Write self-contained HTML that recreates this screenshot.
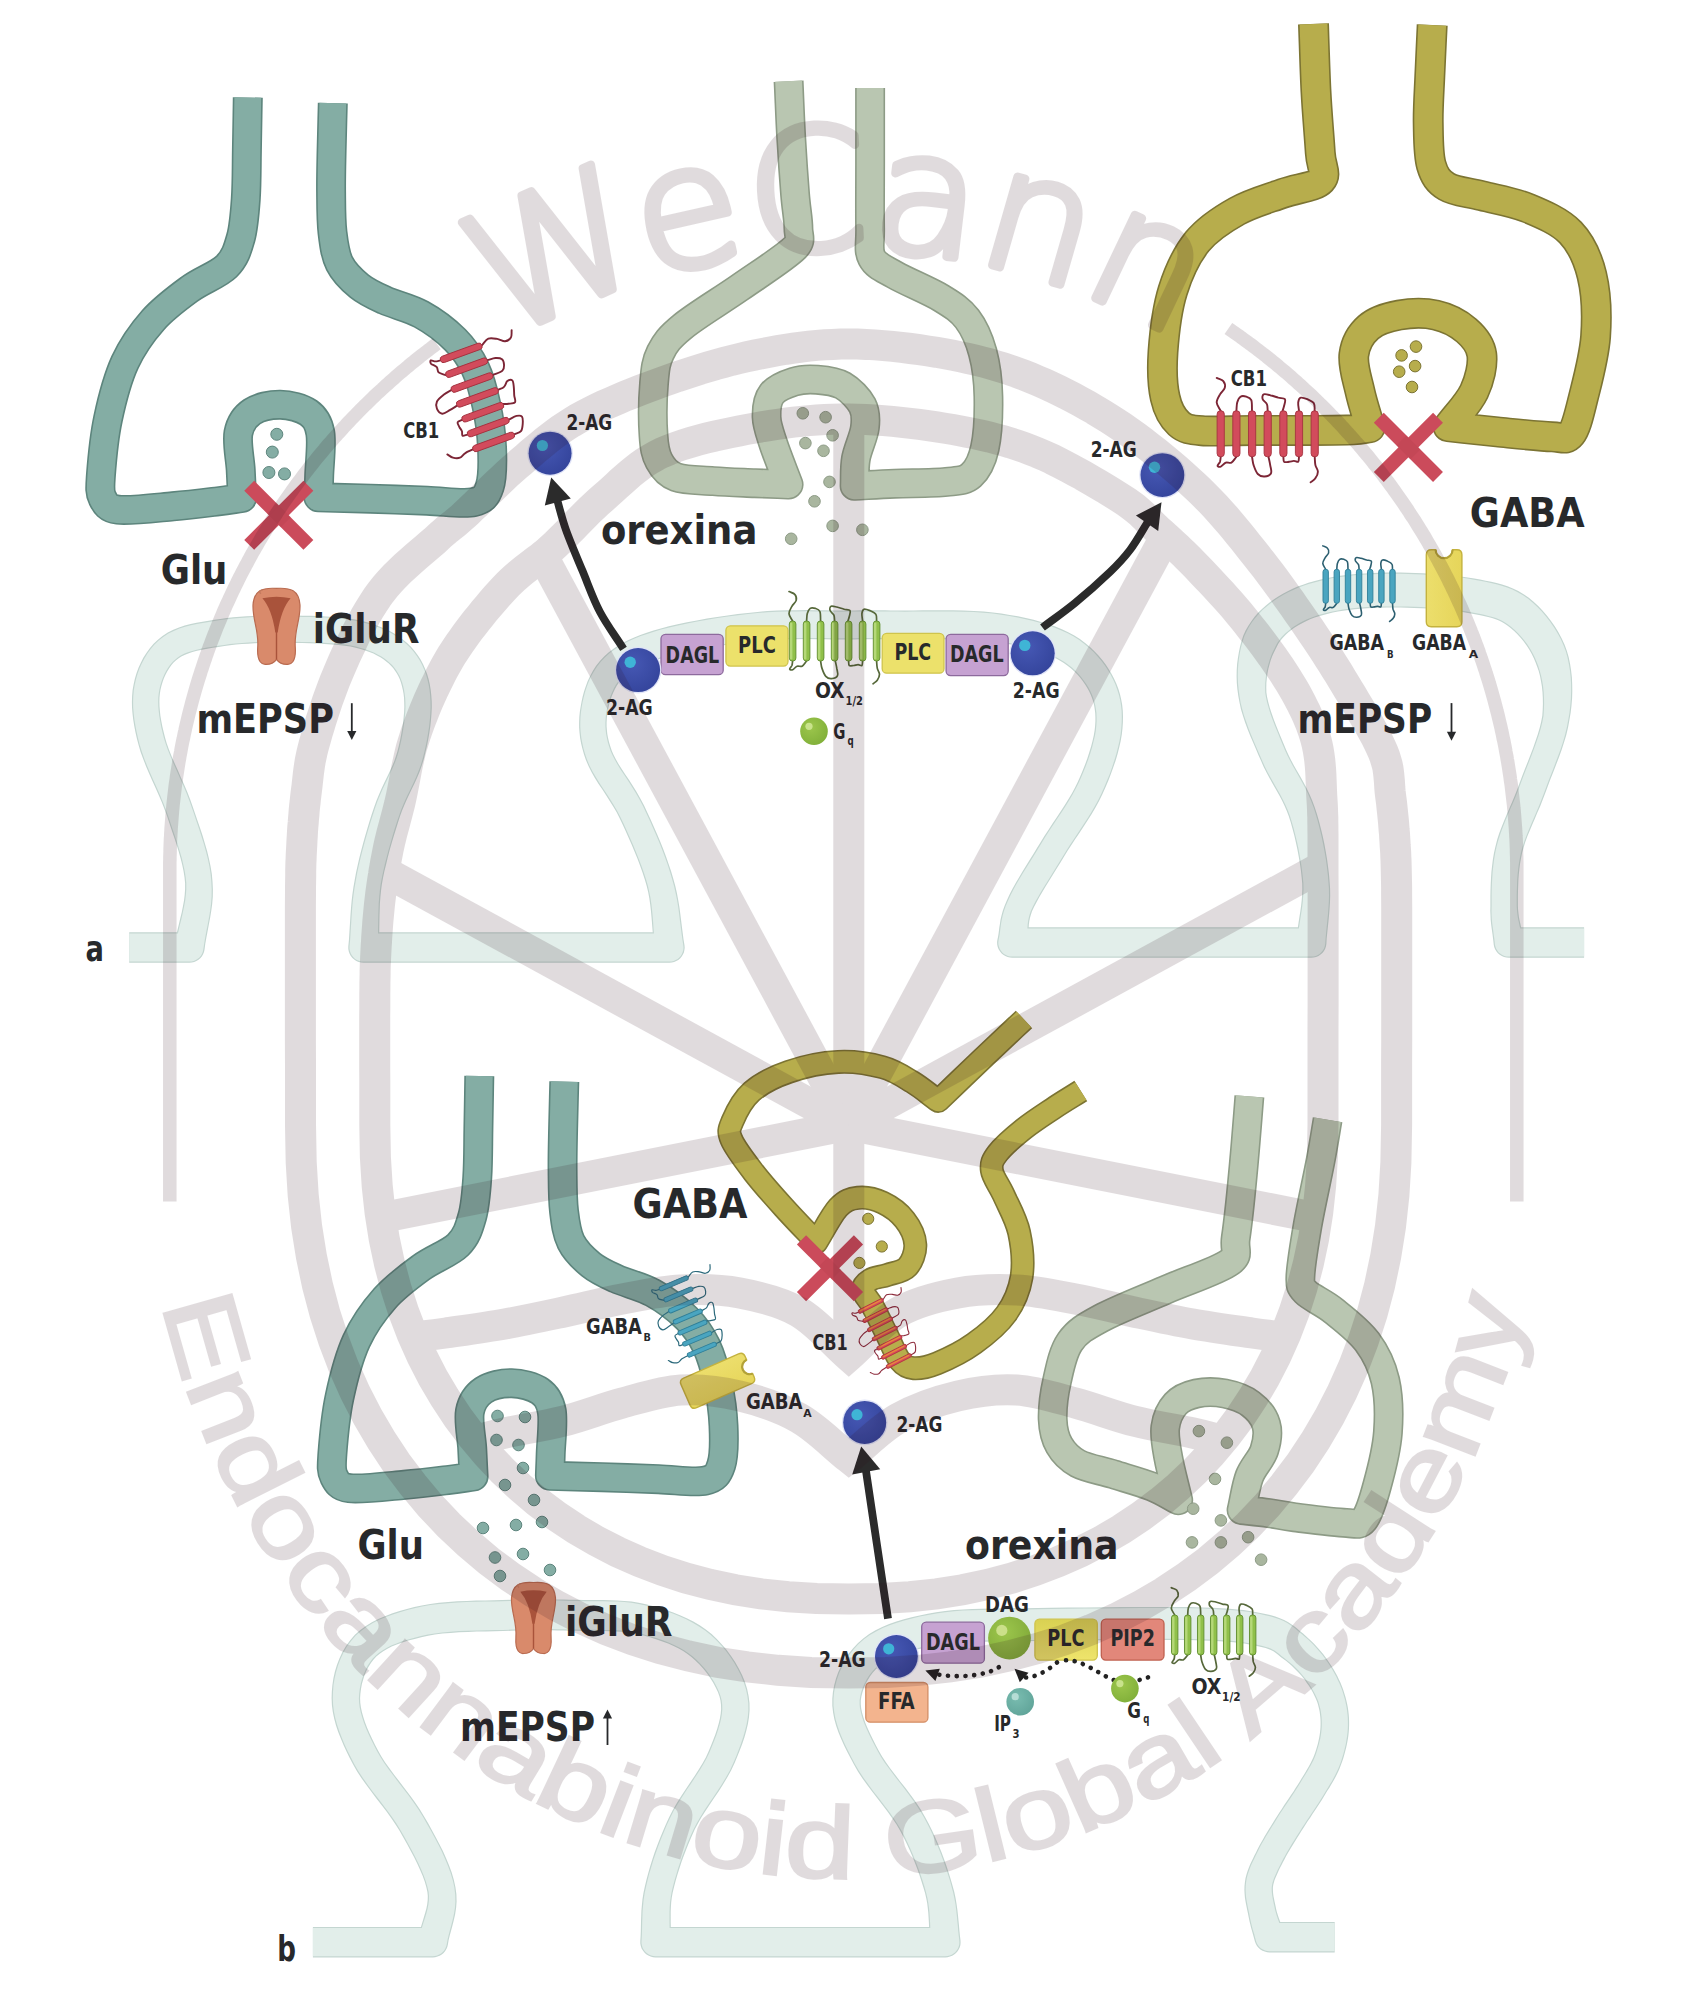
<!DOCTYPE html>
<html><head><meta charset="utf-8"><title>Figure</title>
<style>html,body{margin:0;padding:0;background:#fff}svg{display:block}</style>
</head><body>
<svg xmlns="http://www.w3.org/2000/svg" width="1700" height="1999" viewBox="0 0 1700 1999">
<rect width="1700" height="1999" fill="#fff"/>
<defs><linearGradient id="ga1" x1="0" y1="0" x2="1" y2="0"><stop offset="0" stop-color="#ecde6c"/><stop offset="1" stop-color="#e6d55a"/></linearGradient><radialGradient id="sg2" cx="0.38" cy="0.35" r="0.75"><stop offset="0" stop-color="#4658b4"/><stop offset="1" stop-color="#33439a"/></radialGradient><radialGradient id="sg3" cx="0.38" cy="0.35" r="0.75"><stop offset="0" stop-color="#4658b4"/><stop offset="1" stop-color="#33439a"/></radialGradient><radialGradient id="sg4" cx="0.38" cy="0.35" r="0.75"><stop offset="0" stop-color="#4658b4"/><stop offset="1" stop-color="#33439a"/></radialGradient><radialGradient id="sg5" cx="0.38" cy="0.35" r="0.75"><stop offset="0" stop-color="#4658b4"/><stop offset="1" stop-color="#33439a"/></radialGradient><radialGradient id="sg6" cx="0.38" cy="0.35" r="0.75"><stop offset="0" stop-color="#9cc64c"/><stop offset="1" stop-color="#7fae38"/></radialGradient><linearGradient id="ga7" x1="0" y1="0" x2="1" y2="0"><stop offset="0" stop-color="#ecde6c"/><stop offset="1" stop-color="#e6d55a"/></linearGradient><linearGradient id="bg8" x1="0" y1="0" x2="0" y2="1"><stop offset="0" stop-color="#d9d152"/><stop offset="1" stop-color="#eee46c"/></linearGradient><radialGradient id="sg9" cx="0.38" cy="0.35" r="0.75"><stop offset="0" stop-color="#4658b4"/><stop offset="1" stop-color="#33439a"/></radialGradient><radialGradient id="sg10" cx="0.38" cy="0.35" r="0.75"><stop offset="0" stop-color="#4658b4"/><stop offset="1" stop-color="#33439a"/></radialGradient><radialGradient id="sg11" cx="0.38" cy="0.35" r="0.75"><stop offset="0" stop-color="#9cc64c"/><stop offset="1" stop-color="#7fa838"/></radialGradient><radialGradient id="sg12" cx="0.38" cy="0.35" r="0.75"><stop offset="0" stop-color="#79bcb0"/><stop offset="1" stop-color="#5fa398"/></radialGradient><radialGradient id="sg13" cx="0.38" cy="0.35" r="0.75"><stop offset="0" stop-color="#9cc64c"/><stop offset="1" stop-color="#7fae38"/></radialGradient></defs>
<path d="M129.2 962.8L135.2 962.8L141.2 962.8L147.2 962.8L153.3 962.8L159.3 962.8L165.3 962.8L171.3 962.8L177.4 962.8L183.4 962.8L189.4 962.8L191.8 962.6L194.2 962L196.4 961.1L198.5 959.8L200.3 958.2L201.8 956.4L203.1 954.3L204 952.1L204.5 949.7L205.3 943.7L206.4 937.6L207.6 931.3L208.8 924.8L210.1 918.1L211.2 911.2L212.2 904.1L212.8 896.8L212.9 889.2L212.5 881.4L211.8 873.7L210.5 866.1L208.9 858.5L207.1 850.9L204.9 843.5L202.7 836.1L200.3 828.8L197.8 821.5L195.4 814.4L193 807.4L190.3 799.8L187.3 792.1L184.1 784.6L180.8 777.2L177.6 769.8L174.4 762.7L171.5 755.9L168.9 749.4L166.7 743.3L165.1 737.7L163.6 731.8L162.3 726.2L161.3 720.9L160.4 715.7L159.9 710.9L159.5 706.2L159.4 701.8L159.5 697.6L159.9 693.6L160.5 689.8L161.4 685.9L162.6 682L163.9 678.3L165.5 674.8L167.2 671.4L169.2 668.2L171.3 665.3L173.6 662.6L176.1 660.3L178.7 658.2L181.3 656.5L184.5 654.9L188.2 653.4L192.4 652.1L197 650.8L202 649.8L207.3 648.8L212.8 647.8L218.5 647L224.4 646.1L230 645.3L235.9 644.6L242 644.1L248.3 643.7L254.7 643.3L261.3 643.1L267.9 642.9L274.6 642.9L281.3 642.9L288 642.9L295 643L302.2 643.1L309.6 643.3L316.9 643.6L324.2 643.9L331.4 644.4L338.2 645L344.6 645.7L350.4 646.6L355.6 647.7L360.5 649L365.2 650.4L369.4 652L373.4 653.6L377 655.4L380.4 657.3L383.4 659.3L386.2 661.4L388.8 663.6L391.2 665.9L393.3 668.3L395.2 670.9L396.9 673.5L398.4 676.3L399.8 679.3L400.9 682.6L401.9 686L402.8 689.7L403.5 693.6L404 697.8L404.2 702.1L404.3 706.8L404.1 712L403.6 717.4L403 723.1L402.1 728.9L401.1 734.7L400 740.5L398.7 746.2L397.3 751.8L395.8 756.6L394.1 761.5L392 766.5L389.7 771.6L387.2 776.8L384.5 782.3L381.8 788.1L379.1 794.2L376.5 800.6L374 807.4L371.8 814.1L369.6 821L367.5 828.1L365.3 835.4L363.2 842.9L361.2 850.4L359.3 857.9L357.6 865.4L356 872.8L354.7 880L353.4 887.2L352.4 894.3L351.6 901.2L351 908L350.5 914.6L350.1 921.2L349.7 927.6L349.3 933.9L348.9 940.2L348.3 946.4L348.3 948.9L348.8 951.4L349.6 953.8L350.8 956L352.4 957.9L354.2 959.6L356.3 961L358.6 962L361 962.6L363.5 962.8L394.1 962.8L424.7 962.8L455.3 962.8L485.9 962.8L516.5 962.8L547.1 962.8L577.6 962.8L608.2 962.8L638.8 962.8L669.4 962.8L671.8 962.6L674.1 962L676.3 961.1L678.3 959.9L680.1 958.4L681.7 956.6L682.9 954.6L683.9 952.4L684.4 950.1L684.7 947.7L684.5 945.3L683.5 939.2L682.7 933L681.9 926.7L681.1 920.3L680.3 913.7L679.4 907L678.2 900.1L676.9 893.1L675.3 886L673.3 878.7L671.1 871.3L668.6 863.9L666 856.4L663.1 848.8L660.1 841.3L656.9 833.8L653.7 826.5L650.5 819.3L647.3 812.4L644.2 805.8L640.6 798.9L636.8 792.3L632.9 786.1L629.1 780.1L625.3 774.4L621.7 769L618.5 763.9L615.7 759.1L613.4 754.6L611.7 750.6L610.2 746.1L609 741.9L608 737.8L607.3 733.9L606.9 730.1L606.6 726.3L606.6 722.7L606.8 719L607.1 715.3L607.7 711.5L608.5 707.5L609.4 703.6L610.6 699.7L611.9 695.8L613.4 692.2L615.1 688.7L616.9 685.4L619 682.4L621.2 679.6L623.6 677.1L626.6 674.6L629.7 672.2L633 670L636.7 667.9L640.8 665.9L645.3 664L650.3 662L655.8 660.1L661.9 658.2L668.6 656.3L675.9 654.4L684 652.5L692.8 650.7L702.1 648.9L711.7 647.2L721.6 645.6L731.6 644.2L741.4 642.9L751 641.7L760.2 640.8L769.1 640.1L778.3 639.6L787.6 639.3L797 639.2L806.3 639.1L815.5 639.2L824.4 639.3L832.9 639.4L840.9 639.5L848.4 639.4L854.7 639.4L860 639.3L864.6 639.3L868.6 639.2L872.4 639.2L876.2 639.2L880.3 639.3L884.9 639.3L890.4 639.4L896.9 639.4L904.8 639.5L913.5 639.4L922.8 639.3L932.7 639.3L942.7 639.2L952.9 639.3L962.8 639.5L972.4 639.8L981.4 640.4L989.4 641.2L997.3 642.3L1004.9 643.5L1012.4 644.8L1019.5 646.3L1026.4 647.9L1033 649.7L1039.2 651.6L1045 653.7L1050.4 655.9L1055.3 658.1L1059.7 660.5L1063.8 663L1067.6 665.7L1071.1 668.5L1074.4 671.5L1077.4 674.5L1080.2 677.7L1082.7 681.1L1085.1 684.5L1087.3 687.9L1089.1 691.3L1090.7 694.7L1092 698.1L1093.2 701.6L1094.1 705.2L1094.7 709L1095.2 712.9L1095.4 717L1095.4 721.3L1095.1 725.9L1094.6 730.6L1093.7 735.7L1092.5 741.1L1091 746.7L1089.2 752.5L1087.3 758.5L1085.1 764.5L1082.7 770.6L1080.2 776.6L1077.5 782.5L1074.8 788L1071.7 793.7L1068.2 799.6L1064.5 805.5L1060.6 811.6L1056.5 817.7L1052.4 823.8L1048.4 830L1044.4 836.1L1040.6 842.3L1037 848.1L1033.4 854.1L1029.6 860L1025.9 866L1022.2 872L1018.7 877.9L1015.3 883.7L1012.1 889.4L1009.3 895L1006.8 900.5L1004.6 905.7L1002.8 910.7L1001.5 915.4L1000.5 919.8L999.9 923.9L999.3 927.6L998.9 931L998.5 934.1L998 936.9L997.4 939.7L997.1 942.1L997.2 944.6L997.7 947L998.6 949.2L999.9 951.3L1001.4 953.2L1003.2 954.8L1005.3 956.1L1007.6 957.1L1009.9 957.6L1012.4 957.8L1042.2 957.8L1072.1 957.8L1102 957.8L1131.9 957.8L1161.8 957.8L1191.6 957.8L1221.5 957.8L1251.4 957.8L1281.3 957.8L1311.2 957.8L1313.7 957.6L1316.1 957L1318.5 956L1320.6 954.6L1322.4 952.9L1324 950.9L1325.2 948.7L1326 946.3L1326.4 943.8L1326.7 938.2L1327.3 932.6L1327.9 926.8L1328.5 920.9L1329.1 914.8L1329.6 908.6L1330 902.1L1330.2 895.4L1330.1 888.5L1329.6 881.4L1329 874.3L1328.1 866.9L1327.1 859.4L1325.8 851.8L1324.4 844.1L1322.8 836.5L1321 828.9L1319.1 821.5L1317 814.3L1314.8 807.4L1312.2 800.4L1309.4 793.9L1306.3 787.6L1303.2 781.8L1300 776.1L1296.9 770.7L1293.9 765.4L1291.1 760.3L1288.5 755.1L1286.2 750L1283.7 743.9L1281.1 737.8L1278.6 731.7L1276.1 725.5L1273.8 719.5L1271.7 713.5L1269.8 707.8L1268.3 702.3L1267.1 697.1L1266.4 692.4L1266.3 687.5L1266.4 682.7L1266.9 677.9L1267.5 673.3L1268.4 668.7L1269.6 664.3L1270.8 660.1L1272.3 656.1L1273.9 652.5L1275.5 649.2L1276.9 646.4L1278.3 643.7L1280 641.2L1281.8 638.9L1283.8 636.7L1286 634.5L1288.4 632.3L1291 630.2L1293.9 628.1L1297.1 626.1L1300.2 624.2L1303.5 622.4L1307 620.7L1310.7 619.1L1314.7 617.6L1318.9 616.2L1323.3 614.9L1328 613.7L1332.8 612.6L1337.9 611.6L1343.1 610.7L1348.7 609.9L1354.6 609.3L1360.8 608.7L1367.2 608.3L1373.7 608L1380.3 607.8L1387 607.6L1393.7 607.6L1400.4 607.6L1407.2 607.7L1414.2 607.9L1421.3 608.2L1428.5 608.6L1435.7 609.1L1442.8 609.7L1449.7 610.4L1456.3 611.2L1462.4 612L1468 613L1473.7 614L1479 615L1483.8 616L1488.1 617L1492 618.1L1495.6 619.3L1498.9 620.6L1501.9 622L1504.8 623.7L1507.7 625.7L1510.9 628.2L1514.1 631.1L1517.4 634.3L1520.6 637.8L1523.7 641.6L1526.6 645.5L1529.2 649.6L1531.6 653.7L1533.7 657.9L1535.4 662.1L1537.1 666.5L1538.7 671.1L1540 676L1541 681.2L1541.9 686.6L1542.5 692.2L1542.8 697.9L1542.9 703.7L1542.7 709.7L1542.3 715.7L1541.2 721.5L1539.7 727.7L1537.8 734.3L1535.5 741.1L1533 748.2L1530.3 755.3L1527.5 762.4L1524.7 769.6L1522 776.6L1519.4 783.6L1517.1 789.8L1514.6 795.9L1512.1 802L1509.4 808.2L1506.8 814.3L1504.2 820.5L1501.7 826.8L1499.3 833.1L1497.2 839.6L1495.5 846.2L1494 852.7L1492.9 859.3L1492.1 865.7L1491.4 872.1L1491 878.3L1490.7 884.4L1490.5 890.2L1490.4 895.8L1490.4 901L1490.4 905.9L1490.3 910.9L1490.5 915.6L1490.7 920L1491.1 924.1L1491.6 927.9L1492.1 931.5L1492.6 934.9L1493 938.2L1493.4 941.4L1493.7 944.5L1494.2 946.9L1495.1 949.2L1496.3 951.3L1497.9 953.2L1499.7 954.8L1501.8 956.1L1504 957.1L1506.4 957.6L1508.8 957.8L1516.4 957.8L1523.9 957.8L1531.4 957.8L1538.9 957.8L1546.5 957.8L1554 957.8L1561.5 957.8L1569.1 957.8L1576.6 957.8L1584.1 957.8L1584.1 927.3L1576.6 927.3L1569.1 927.3L1561.5 927.3L1554 927.3L1546.5 927.3L1538.9 927.3L1531.4 927.3L1523.9 927.3L1516.4 927.3L1508.8 927.3L1511.3 927.5L1513.6 928.1L1515.9 929.1L1517.9 930.4L1519.8 932L1521.3 933.9L1522.6 936L1523.4 938.3L1523.9 940.6L1523.2 936.7L1522.5 933L1521.7 929.5L1520.9 926.2L1520.2 923L1519.5 919.9L1518.9 916.7L1518.5 913.4L1518.1 909.8L1517.9 905.9L1517.9 901.1L1517.9 896.1L1518 890.9L1518.2 885.5L1518.4 880L1518.8 874.5L1519.4 868.9L1520.1 863.4L1521.1 857.9L1522.2 852.6L1523.6 847.5L1525.3 842.1L1527.3 836.6L1529.6 831L1532.1 825.1L1534.7 819.1L1537.3 812.8L1540.1 806.4L1542.7 799.7L1545.3 792.9L1547.7 786.4L1550.3 779.6L1553.1 772.5L1555.9 765.2L1558.8 757.7L1561.5 750.2L1564 742.5L1566.3 734.9L1568.1 727.2L1569.5 719.6L1570.7 712.5L1571.5 705.4L1572.1 698.3L1572.3 691.3L1572.2 684.3L1571.9 677.4L1571.1 670.6L1570.1 663.9L1568.7 657.3L1566.9 650.9L1564.5 644.5L1561.6 638.3L1558.4 632.3L1554.9 626.5L1551 621L1547 615.8L1542.7 610.8L1538.2 606.1L1533.6 601.8L1528.8 597.8L1523.6 594.2L1518.3 591.1L1512.9 588.5L1507.5 586.3L1502.1 584.6L1496.6 583.1L1491.2 581.8L1485.7 580.7L1480.1 579.6L1474.3 578.6L1467.7 577.4L1460.7 576.5L1453.5 575.6L1446 574.9L1438.4 574.2L1430.7 573.7L1423 573.3L1415.4 573L1408 572.7L1400.8 572.6L1393.7 572.6L1386.6 572.6L1379.4 572.8L1372.3 573L1365.2 573.4L1358.1 573.8L1351.2 574.4L1344.5 575.2L1337.9 576.1L1331.5 577.2L1325.5 578.4L1319.6 579.7L1313.9 581.2L1308.4 582.8L1303 584.7L1297.7 586.6L1292.6 588.8L1287.6 591.2L1282.9 593.8L1278.2 596.5L1274 599.3L1269.9 602.3L1265.9 605.5L1262 608.9L1258.3 612.6L1254.8 616.6L1251.5 620.9L1248.5 625.5L1245.7 630.3L1243.3 635.5L1241.6 640.8L1240.1 646.3L1238.9 652L1237.9 657.9L1237.1 664L1236.7 670.2L1236.6 676.5L1236.8 682.9L1237.4 689.4L1238.3 695.9L1239.5 702.6L1241 709.4L1243 716.1L1245.2 722.7L1247.7 729.4L1250.3 735.9L1253 742.3L1255.7 748.6L1258.3 754.7L1260.9 760.6L1263.7 767L1266.8 773.1L1269.9 778.8L1273.1 784.4L1276.1 789.8L1279.1 795L1281.9 800.2L1284.4 805.4L1286.7 810.7L1288.7 816.1L1290.7 822.3L1292.5 828.8L1294.3 835.5L1295.9 842.5L1297.4 849.5L1298.7 856.6L1299.9 863.6L1300.9 870.4L1301.6 877L1302.2 883.3L1302.3 889.1L1302.1 894.7L1301.7 900.2L1301.1 905.8L1300.3 911.4L1299.4 917.1L1298.5 922.9L1297.6 928.9L1296.7 935L1296 941.4L1296.4 938.9L1297.2 936.5L1298.4 934.3L1299.9 932.3L1301.8 930.6L1303.9 929.2L1306.2 928.2L1308.7 927.5L1311.2 927.3L1281.3 927.3L1251.4 927.3L1221.5 927.3L1191.6 927.3L1161.8 927.3L1131.9 927.3L1102 927.3L1072.1 927.3L1042.2 927.3L1012.4 927.3L1014.8 927.5L1017.2 928.1L1019.4 929.1L1021.5 930.4L1023.3 932L1024.8 933.8L1026.1 936L1027 938.2L1027.5 940.6L1027.6 943L1027.3 945.5L1027.9 941.1L1028.2 937.1L1028.4 933.4L1028.5 930.1L1028.7 927.1L1028.9 924.2L1029.3 921.3L1029.9 918.3L1030.8 915L1032 911.3L1034 907.1L1036.4 902.4L1039.2 897.3L1042.3 892L1045.7 886.3L1049.3 880.5L1053 874.6L1056.7 868.6L1060.5 862.5L1064.1 856.5L1067.6 850.8L1071.4 845L1075.3 839L1079.4 832.9L1083.5 826.7L1087.7 820.3L1091.7 813.9L1095.5 807.4L1099.2 800.7L1102.5 794L1105.4 787.5L1108.2 780.9L1110.8 774.3L1113.2 767.6L1115.5 760.9L1117.5 754.2L1119.2 747.5L1120.7 741L1121.8 734.6L1122.5 728.3L1122.9 722.3L1123 716.4L1122.8 710.7L1122.2 705.1L1121.2 699.6L1120 694.2L1118.4 689L1116.4 683.8L1114.1 678.8L1111.6 674L1108.8 669.3L1105.7 664.6L1102.3 660.1L1098.5 655.6L1094.4 651.2L1090 647L1085.1 642.9L1079.9 639.1L1074.3 635.5L1068.2 632.2L1061.9 629.3L1055.3 626.6L1048.3 624.1L1041.1 621.9L1033.6 619.8L1025.8 618L1017.9 616.3L1009.7 614.9L1001.4 613.6L992.9 612.4L983.7 611.5L973.9 610.9L963.6 610.5L953.2 610.3L942.8 610.2L932.5 610.3L922.6 610.3L913.2 610.4L904.7 610.5L897.2 610.4L890.7 610.4L885.2 610.3L880.5 610.3L876.3 610.2L872.3 610.2L868.4 610.2L864.3 610.3L859.7 610.3L854.4 610.4L848.1 610.4L841 610.5L833.2 610.4L824.7 610.3L815.8 610.2L806.4 610.1L796.8 610.2L786.9 610.3L777.1 610.6L767.2 611.1L757.5 611.9L747.8 612.9L737.8 614.1L727.6 615.5L717.2 617L707 618.6L696.9 620.4L687.1 622.3L677.7 624.2L668.9 626.3L660.8 628.4L653.5 630.5L646.7 632.7L640.3 635L634.2 637.4L628.5 640L623.1 642.7L617.9 645.8L613.1 649.1L608.5 652.6L604.1 656.5L599.9 661L596.1 665.8L592.9 670.8L590.1 675.9L587.7 681.1L585.7 686.4L584 691.6L582.6 696.8L581.5 701.9L580.6 706.9L579.8 711.9L579.3 717L579.1 722.2L579.1 727.4L579.5 732.6L580.1 738L581.1 743.4L582.4 748.8L584 754.4L585.9 760L588.6 766.3L591.6 772.3L595 778.2L598.6 783.9L602.4 789.6L606.1 795.2L609.7 800.9L613.2 806.5L616.5 812.1L619.4 817.7L622.4 824.1L625.5 830.8L628.6 837.7L631.7 844.7L634.6 851.7L637.5 858.8L640.2 865.9L642.6 872.8L644.8 879.6L646.7 886L648.2 892.2L649.3 898.3L650.2 904.5L650.9 910.6L651.5 916.9L652 923.2L652.5 929.6L653 936.1L653.6 942.8L654.3 949.7L654.2 947.3L654.4 945L655 942.7L655.9 940.5L657.1 938.5L658.7 936.7L660.5 935.1L662.5 933.9L664.7 933L667 932.5L669.4 932.3L638.8 932.3L608.2 932.3L577.6 932.3L547.1 932.3L516.5 932.3L485.9 932.3L455.3 932.3L424.7 932.3L394.1 932.3L363.5 932.3L366 932.5L368.5 933.1L370.7 934.1L372.8 935.5L374.7 937.1L376.2 939.1L377.4 941.3L378.3 943.7L378.7 946.1L378.7 948.6L379 941.9L379.2 935.2L379.3 928.7L379.4 922.3L379.5 915.9L379.7 909.7L379.9 903.4L380.4 897.2L381 891L381.8 884.7L383 878.1L384.4 871.3L386.1 864.4L387.8 857.3L389.7 850.1L391.7 843L393.8 836L395.9 829.2L398 822.5L400.1 816.1L402.1 810.5L404.4 805L406.8 799.6L409.3 794.2L411.9 788.8L414.6 783.2L417.2 777.5L419.7 771.5L421.9 765.3L423.9 758.8L425.4 752.6L426.9 746.2L428.2 739.7L429.3 733.2L430.3 726.6L431 720.1L431.5 713.6L431.8 707.3L431.7 701.1L431.3 695.2L430.7 689.7L429.8 684.3L428.6 679.1L427.1 674L425.2 669L423.1 664.2L420.6 659.6L417.8 655.2L414.6 651L411.2 647L407.4 643.3L403.4 639.9L399.1 636.7L394.6 633.7L389.8 631.1L384.7 628.6L379.4 626.4L373.9 624.4L368.1 622.6L362.1 621L355.3 619.6L348.3 618.5L341 617.6L333.4 616.9L325.8 616.4L318 616.1L310.3 615.8L302.8 615.7L295.4 615.5L288.4 615.4L281.5 615.4L274.5 615.4L267.5 615.4L260.5 615.6L253.5 615.9L246.6 616.2L239.9 616.7L233.2 617.3L226.7 618L220.3 618.9L214.4 619.8L208.5 620.7L202.5 621.7L196.6 622.8L190.6 624.1L184.7 625.6L179 627.5L173.3 629.8L167.8 632.5L162.5 635.9L157.9 639.7L153.6 643.8L149.8 648.2L146.4 652.9L143.3 657.8L140.7 662.9L138.4 668.1L136.4 673.5L134.8 678.9L133.6 684.4L132.6 690.1L132.1 695.9L131.9 701.7L132 707.6L132.5 713.6L133.2 719.6L134.2 725.7L135.4 731.9L136.8 738.2L138.5 744.7L140.6 751.9L143.2 759.1L146.1 766.4L149.2 773.7L152.4 781L155.7 788.3L158.9 795.5L161.9 802.6L164.6 809.5L167 816.1L169.4 823.3L171.8 830.4L174.2 837.5L176.5 844.4L178.6 851.3L180.5 858.1L182.2 864.7L183.5 871.1L184.5 877.3L185.1 883.3L185.1 889L184.7 894.7L184 900.5L182.9 906.4L181.7 912.4L180.2 918.6L178.7 925L177.1 931.5L175.6 938.3L174.3 945.3L174.9 943L175.8 940.8L177 938.7L178.5 936.8L180.4 935.2L182.4 934L184.7 933L187 932.5L189.4 932.3L183.4 932.3L177.4 932.3L171.3 932.3L165.3 932.3L159.3 932.3L153.3 932.3L147.2 932.3L141.2 932.3L135.2 932.3L129.2 932.3Z" fill="#c4d6d1"/>
<path d="M129.2 961.6L135.2 961.6L141.2 961.6L147.2 961.6L153.3 961.6L159.3 961.6L165.3 961.6L171.3 961.6L177.4 961.6L183.4 961.6L189.4 961.6L191.6 961.4L193.8 960.9L195.8 960L197.7 958.8L199.4 957.4L200.9 955.7L202 953.8L202.8 951.7L203.3 949.5L204.2 943.5L205.2 937.4L206.4 931.1L207.7 924.6L208.9 917.9L210.1 911L211 904L211.6 896.7L211.7 889.2L211.3 881.5L210.6 873.9L209.4 866.3L207.8 858.7L205.9 851.3L203.8 843.8L201.5 836.4L199.1 829.1L196.7 821.9L194.3 814.8L191.9 807.8L189.2 800.2L186.2 792.6L183 785.1L179.7 777.6L176.5 770.3L173.3 763.2L170.4 756.3L167.8 749.8L165.6 743.6L163.9 738L162.4 732.1L161.1 726.5L160.1 721.1L159.3 715.9L158.7 711L158.3 706.3L158.2 701.8L158.3 697.5L158.7 693.4L159.4 689.5L160.3 685.6L161.4 681.7L162.8 677.9L164.4 674.2L166.2 670.8L168.2 667.5L170.4 664.5L172.8 661.8L175.3 659.4L178 657.2L180.7 655.4L184 653.8L187.8 652.3L192.1 650.9L196.7 649.7L201.8 648.6L207.1 647.6L212.6 646.7L218.4 645.8L224.2 644.9L229.9 644.1L235.8 643.4L241.9 642.9L248.2 642.5L254.7 642.1L261.2 641.9L267.9 641.7L274.6 641.7L281.3 641.7L288.1 641.7L295 641.8L302.3 641.9L309.6 642.1L317 642.4L324.3 642.7L331.5 643.2L338.3 643.8L344.7 644.5L350.7 645.5L355.9 646.6L360.9 647.9L365.5 649.3L369.9 650.9L373.9 652.6L377.6 654.4L381 656.3L384.1 658.3L387 660.4L389.6 662.7L392.1 665.1L394.2 667.6L396.2 670.2L397.9 672.9L399.5 675.8L400.9 678.9L402.1 682.2L403.1 685.7L404 689.4L404.6 693.4L405.2 697.7L405.4 702L405.5 706.8L405.3 712.1L404.8 717.5L404.2 723.2L403.3 729.1L402.3 734.9L401.2 740.8L399.9 746.5L398.5 752.1L397 757L395.2 761.9L393.1 766.9L390.8 772.1L388.2 777.4L385.6 782.9L382.9 788.6L380.2 794.7L377.6 801L375.2 807.8L373 814.4L370.8 821.3L368.6 828.5L366.5 835.8L364.4 843.2L362.4 850.7L360.5 858.2L358.8 865.6L357.2 873L355.9 880.2L354.6 887.4L353.6 894.4L352.8 901.3L352.2 908L351.7 914.7L351.3 921.2L350.9 927.6L350.5 934L350.1 940.3L349.5 946.5L349.5 948.8L349.9 951.1L350.7 953.3L351.8 955.3L353.2 957.1L354.9 958.7L356.9 959.9L359 960.8L361.2 961.4L363.5 961.6L394.1 961.6L424.7 961.6L455.3 961.6L485.9 961.6L516.5 961.6L547.1 961.6L577.6 961.6L608.2 961.6L638.8 961.6L669.4 961.6L671.6 961.4L673.7 960.9L675.7 960.1L677.6 958.9L679.3 957.5L680.7 955.9L681.9 954L682.7 952L683.3 949.9L683.5 947.7L683.3 945.5L682.4 939.4L681.5 933.1L680.7 926.8L679.9 920.4L679.1 913.8L678.2 907.1L677.1 900.3L675.7 893.4L674.1 886.3L672.1 879L669.9 871.7L667.5 864.3L664.8 856.8L662 849.3L659 841.7L655.8 834.3L652.6 827L649.4 819.8L646.2 812.9L643.1 806.3L639.5 799.5L635.8 792.9L631.9 786.7L628.1 780.8L624.3 775.1L620.7 769.7L617.5 764.5L614.7 759.6L612.4 755.1L610.6 751L609.1 746.5L607.8 742.2L606.9 738L606.1 734.1L605.7 730.2L605.4 726.4L605.4 722.6L605.6 718.9L605.9 715.1L606.5 711.3L607.3 707.3L608.3 703.3L609.4 699.3L610.7 695.4L612.3 691.7L614 688.1L615.9 684.8L618 681.7L620.3 678.8L622.8 676.3L625.8 673.7L629 671.3L632.4 669L636.1 666.9L640.3 664.8L644.8 662.8L649.9 660.9L655.4 659L661.6 657.1L668.3 655.2L675.6 653.3L683.7 651.4L692.5 649.5L701.9 647.7L711.5 646L721.5 644.4L731.4 643L741.3 641.7L750.9 640.5L760.1 639.6L769 638.9L778.2 638.4L787.6 638.1L797 638L806.3 637.9L815.5 638L824.4 638.1L832.9 638.2L840.9 638.3L848.4 638.2L854.7 638.2L860 638.1L864.6 638.1L868.6 638L872.4 638L876.2 638L880.3 638.1L884.9 638.1L890.4 638.2L896.9 638.2L904.8 638.3L913.5 638.2L922.8 638.1L932.7 638.1L942.7 638L952.9 638.1L962.9 638.3L972.5 638.6L981.5 639.2L989.6 640L997.4 641.1L1005.1 642.3L1012.6 643.6L1019.8 645.1L1026.7 646.8L1033.3 648.6L1039.6 650.5L1045.4 652.6L1050.9 654.8L1055.8 657.1L1060.3 659.4L1064.5 662L1068.3 664.7L1071.9 667.6L1075.2 670.6L1078.3 673.7L1081.1 677L1083.7 680.4L1086.1 683.8L1088.3 687.3L1090.2 690.8L1091.8 694.2L1093.2 697.7L1094.3 701.3L1095.2 705L1095.9 708.8L1096.4 712.8L1096.6 716.9L1096.6 721.3L1096.3 726L1095.8 730.7L1094.9 735.9L1093.6 741.3L1092.2 747L1090.4 752.9L1088.4 758.9L1086.2 765L1083.8 771L1081.3 777L1078.6 783L1075.8 788.6L1072.7 794.3L1069.2 800.2L1065.5 806.2L1061.6 812.2L1057.5 818.3L1053.4 824.5L1049.4 830.6L1045.4 836.8L1041.6 843L1038.1 848.8L1034.4 854.7L1030.7 860.7L1026.9 866.7L1023.3 872.6L1019.7 878.5L1016.3 884.3L1013.2 890L1010.4 895.5L1007.9 900.9L1005.7 906.1L1004 911L1002.7 915.6L1001.7 920L1001 924L1000.5 927.7L1000.1 931.1L999.7 934.2L999.2 937.1L998.6 939.9L998.3 942.2L998.4 944.4L998.9 946.6L999.7 948.7L1000.8 950.6L1002.3 952.4L1004 953.9L1005.9 955L1007.9 955.9L1010.1 956.5L1012.4 956.6L1042.2 956.6L1072.1 956.6L1102 956.6L1131.9 956.6L1161.8 956.6L1191.6 956.6L1221.5 956.6L1251.4 956.6L1281.3 956.6L1311.2 956.6L1313.5 956.4L1315.8 955.9L1317.9 954.9L1319.8 953.7L1321.5 952.1L1323 950.2L1324.1 948.2L1324.8 946L1325.2 943.7L1325.6 938.1L1326.1 932.4L1326.7 926.6L1327.3 920.7L1327.9 914.7L1328.4 908.5L1328.8 902.1L1329 895.4L1328.9 888.6L1328.4 881.5L1327.8 874.4L1326.9 867.1L1325.9 859.6L1324.6 852L1323.2 844.4L1321.6 836.8L1319.8 829.2L1317.9 821.8L1315.9 814.7L1313.7 807.8L1311.1 800.9L1308.3 794.4L1305.3 788.2L1302.1 782.3L1299 776.7L1295.9 771.3L1292.9 766L1290.1 760.8L1287.4 755.6L1285.1 750.4L1282.6 744.4L1280 738.3L1277.5 732.1L1275 726L1272.7 719.9L1270.5 713.9L1268.7 708.1L1267.1 702.6L1266 697.4L1265.2 692.5L1265.1 687.6L1265.2 682.7L1265.7 677.9L1266.3 673.1L1267.3 668.5L1268.4 664.1L1269.7 659.8L1271.1 655.8L1272.7 652.1L1274.4 648.7L1275.8 645.8L1277.3 643.1L1279 640.5L1280.8 638.1L1282.9 635.8L1285.1 633.6L1287.6 631.4L1290.3 629.3L1293.2 627.1L1296.4 625L1299.6 623.1L1302.9 621.3L1306.5 619.6L1310.3 618L1314.3 616.5L1318.5 615.1L1323 613.8L1327.7 612.5L1332.6 611.4L1337.7 610.4L1343 609.5L1348.6 608.7L1354.5 608.1L1360.7 607.5L1367.1 607.1L1373.7 606.8L1380.3 606.6L1387 606.4L1393.7 606.4L1400.4 606.4L1407.2 606.5L1414.2 606.7L1421.4 607L1428.6 607.4L1435.8 607.9L1442.9 608.5L1449.8 609.2L1456.4 610L1462.6 610.8L1468.2 611.8L1473.9 612.8L1479.2 613.8L1484 614.8L1488.4 615.9L1492.4 616.9L1496 618.1L1499.4 619.5L1502.5 621L1505.4 622.7L1508.4 624.7L1511.6 627.3L1515 630.2L1518.3 633.5L1521.5 637L1524.6 640.8L1527.6 644.8L1530.3 649L1532.7 653.2L1534.8 657.4L1536.6 661.7L1538.3 666.1L1539.8 670.9L1541.1 675.8L1542.2 681.1L1543.1 686.5L1543.7 692.1L1544 697.9L1544.1 703.8L1543.9 709.8L1543.5 715.9L1542.4 721.7L1540.9 728L1538.9 734.7L1536.6 741.5L1534.1 748.6L1531.4 755.7L1528.6 762.9L1525.8 770L1523.1 777.1L1520.5 784L1518.2 790.2L1515.7 796.4L1513.2 802.5L1510.5 808.6L1507.9 814.8L1505.3 821L1502.8 827.2L1500.5 833.5L1498.4 839.9L1496.6 846.5L1495.2 853L1494.1 859.5L1493.3 865.9L1492.6 872.2L1492.2 878.4L1491.9 884.4L1491.7 890.3L1491.6 895.8L1491.6 901L1491.6 905.9L1491.5 910.9L1491.6 915.5L1491.9 919.9L1492.3 923.9L1492.8 927.7L1493.3 931.3L1493.7 934.7L1494.2 938L1494.6 941.2L1494.9 944.4L1495.4 946.6L1496.2 948.7L1497.3 950.6L1498.7 952.4L1500.4 953.8L1502.3 955L1504.4 955.9L1506.6 956.5L1508.8 956.6L1516.4 956.6L1523.9 956.6L1531.4 956.6L1538.9 956.6L1546.5 956.6L1554 956.6L1561.5 956.6L1569.1 956.6L1576.6 956.6L1584.1 956.6L1584.1 928.5L1576.6 928.5L1569.1 928.5L1561.5 928.5L1554 928.5L1546.5 928.5L1538.9 928.5L1531.4 928.5L1523.9 928.5L1516.4 928.5L1508.8 928.5L1511.1 928.7L1513.3 929.3L1515.3 930.1L1517.2 931.3L1518.9 932.8L1520.4 934.6L1521.5 936.5L1522.3 938.6L1522.8 940.8L1522 936.8L1521.3 933.2L1520.5 929.7L1519.7 926.4L1519 923.2L1518.3 920.1L1517.7 916.8L1517.3 913.5L1516.9 909.8L1516.7 905.9L1516.7 901.1L1516.7 896.1L1516.8 890.8L1517 885.4L1517.2 879.9L1517.6 874.4L1518.2 868.8L1518.9 863.2L1519.9 857.7L1521 852.3L1522.4 847.1L1524.2 841.7L1526.2 836.2L1528.5 830.5L1531 824.6L1533.6 818.6L1536.2 812.4L1538.9 805.9L1541.6 799.3L1544.2 792.5L1546.6 786L1549.2 779.1L1552 772L1554.8 764.7L1557.6 757.3L1560.4 749.8L1562.9 742.2L1565.1 734.6L1566.9 727L1568.3 719.4L1569.5 712.4L1570.3 705.3L1570.9 698.3L1571.1 691.3L1571.1 684.4L1570.7 677.5L1570 670.8L1568.9 664.2L1567.5 657.6L1565.8 651.3L1563.4 645L1560.6 638.8L1557.4 632.9L1553.9 627.2L1550.1 621.7L1546 616.5L1541.8 611.6L1537.4 607L1532.8 602.7L1528.1 598.8L1523 595.2L1517.7 592.2L1512.4 589.6L1507.1 587.5L1501.7 585.7L1496.3 584.2L1490.9 583L1485.4 581.8L1479.9 580.8L1474.1 579.7L1467.5 578.6L1460.6 577.6L1453.3 576.8L1445.9 576.1L1438.3 575.4L1430.6 574.9L1422.9 574.5L1415.4 574.2L1407.9 573.9L1400.8 573.8L1393.7 573.8L1386.6 573.8L1379.5 574L1372.3 574.2L1365.2 574.6L1358.2 575L1351.4 575.6L1344.6 576.4L1338.1 577.3L1331.7 578.3L1325.7 579.5L1319.9 580.9L1314.2 582.4L1308.7 584L1303.4 585.8L1298.1 587.8L1293.1 589.9L1288.2 592.3L1283.5 594.8L1278.9 597.5L1274.7 600.3L1270.6 603.3L1266.7 606.4L1262.8 609.8L1259.2 613.5L1255.7 617.4L1252.5 621.6L1249.5 626.1L1246.8 630.9L1244.4 636L1242.7 641.2L1241.2 646.7L1240 652.3L1239 658.2L1238.3 664.2L1237.9 670.3L1237.8 676.6L1238 682.9L1238.6 689.3L1239.5 695.7L1240.6 702.4L1242.2 709.1L1244.1 715.7L1246.4 722.3L1248.8 728.9L1251.4 735.4L1254.1 741.9L1256.8 748.2L1259.4 754.3L1262 760.2L1264.8 766.5L1267.8 772.5L1271 778.3L1274.1 783.8L1277.2 789.2L1280.2 794.4L1282.9 799.7L1285.5 804.9L1287.8 810.3L1289.9 815.7L1291.8 821.9L1293.7 828.4L1295.4 835.2L1297.1 842.2L1298.6 849.3L1299.9 856.4L1301.1 863.4L1302 870.3L1302.8 876.9L1303.4 883.3L1303.5 889L1303.3 894.7L1302.9 900.3L1302.3 905.9L1301.5 911.5L1300.6 917.2L1299.7 923L1298.8 929L1297.9 935.1L1297.2 941.5L1297.5 939.2L1298.3 937L1299.4 934.9L1300.8 933.1L1302.5 931.5L1304.5 930.2L1306.6 929.3L1308.9 928.7L1311.2 928.5L1281.3 928.5L1251.4 928.5L1221.5 928.5L1191.6 928.5L1161.8 928.5L1131.9 928.5L1102 928.5L1072.1 928.5L1042.2 928.5L1012.4 928.5L1014.6 928.7L1016.8 929.3L1018.8 930.1L1020.7 931.3L1022.4 932.8L1023.9 934.5L1025 936.5L1025.8 938.6L1026.3 940.8L1026.4 943L1026.2 945.2L1026.7 940.9L1027 936.9L1027.2 933.3L1027.3 930L1027.5 926.9L1027.7 924L1028.1 921.1L1028.7 918L1029.6 914.6L1030.9 910.8L1032.9 906.6L1035.3 901.8L1038.2 896.7L1041.3 891.3L1044.7 885.7L1048.3 879.9L1052 874L1055.7 868L1059.4 861.9L1063.1 855.9L1066.6 850.2L1070.4 844.3L1074.3 838.4L1078.4 832.2L1082.5 826L1086.6 819.7L1090.7 813.3L1094.5 806.8L1098.1 800.2L1101.4 793.5L1104.3 787.1L1107 780.5L1109.7 773.9L1112.1 767.2L1114.3 760.5L1116.3 753.9L1118 747.3L1119.5 740.8L1120.6 734.4L1121.3 728.2L1121.7 722.2L1121.8 716.5L1121.6 710.8L1121 705.3L1120.1 699.8L1118.8 694.5L1117.2 689.4L1115.3 684.3L1113.1 679.4L1110.5 674.6L1107.8 669.9L1104.7 665.3L1101.3 660.8L1097.6 656.4L1093.6 652L1089.2 647.9L1084.4 643.9L1079.2 640.1L1073.7 636.6L1067.7 633.3L1061.4 630.4L1054.8 627.7L1047.9 625.2L1040.7 623L1033.3 621L1025.6 619.2L1017.7 617.5L1009.5 616L1001.2 614.8L992.8 613.6L983.6 612.7L973.8 612.1L963.6 611.7L953.2 611.5L942.8 611.4L932.5 611.5L922.6 611.5L913.3 611.6L904.7 611.7L897.2 611.6L890.7 611.6L885.2 611.5L880.5 611.5L876.3 611.4L872.3 611.4L868.4 611.4L864.3 611.5L859.7 611.5L854.4 611.6L848.1 611.6L841 611.7L833.2 611.6L824.7 611.5L815.7 611.4L806.4 611.3L796.8 611.4L787 611.5L777.1 611.8L767.3 612.3L757.6 613.1L747.9 614.1L738 615.3L727.7 616.6L717.4 618.1L707.2 619.8L697.1 621.6L687.3 623.4L678 625.4L669.2 627.4L661.1 629.5L653.9 631.7L647.1 633.9L640.7 636.1L634.7 638.5L629 641.1L623.7 643.8L618.6 646.8L613.8 650L609.2 653.6L604.9 657.4L600.8 661.8L597.1 666.5L593.9 671.4L591.1 676.5L588.8 681.6L586.8 686.8L585.1 691.9L583.8 697.1L582.6 702.1L581.7 707.1L581 712.1L580.5 717.1L580.3 722.2L580.3 727.3L580.7 732.5L581.3 737.8L582.3 743.1L583.5 748.5L585.1 754L587 759.6L589.6 765.8L592.7 771.8L596.1 777.6L599.6 783.3L603.4 788.9L607.1 794.6L610.8 800.2L614.3 805.9L617.5 811.5L620.5 817.2L623.5 823.6L626.6 830.3L629.7 837.2L632.8 844.2L635.7 851.3L638.6 858.4L641.3 865.5L643.8 872.4L646 879.2L647.9 885.7L649.3 891.9L650.5 898.1L651.4 904.3L652.1 910.5L652.7 916.7L653.2 923.1L653.6 929.5L654.2 936L654.8 942.7L655.5 949.5L655.4 947.4L655.6 945.2L656.1 943.1L656.9 941L658.1 939.2L659.5 937.5L661.2 936.1L663.1 935L665.1 934.2L667.2 933.6L669.4 933.5L638.8 933.5L608.2 933.5L577.6 933.5L547.1 933.5L516.5 933.5L485.9 933.5L455.3 933.5L424.7 933.5L394.1 933.5L363.5 933.5L365.8 933.7L368.1 934.2L370.2 935.2L372.1 936.4L373.8 938L375.2 939.8L376.4 941.8L377.1 944L377.5 946.2L377.5 948.5L377.8 941.8L378 935.2L378.1 928.6L378.2 922.2L378.3 915.9L378.5 909.6L378.7 903.3L379.2 897.1L379.8 890.8L380.6 884.5L381.8 877.9L383.3 871.1L384.9 864.1L386.7 857L388.6 849.8L390.6 842.7L392.6 835.7L394.7 828.8L396.9 822.1L399 815.7L401 810.1L403.3 804.6L405.7 799.1L408.2 793.7L410.9 788.2L413.5 782.7L416.1 777L418.5 771.1L420.8 765L422.7 758.5L424.3 752.3L425.7 746L427 739.5L428.1 733L429.1 726.5L429.8 720L430.3 713.6L430.6 707.3L430.5 701.2L430.1 695.3L429.5 689.8L428.6 684.5L427.4 679.4L425.9 674.3L424.1 669.5L422 664.7L419.6 660.2L416.8 655.9L413.7 651.7L410.3 647.8L406.6 644.2L402.6 640.8L398.4 637.7L393.9 634.8L389.2 632.1L384.2 629.7L379 627.5L373.5 625.5L367.8 623.7L361.8 622.2L355.1 620.8L348.1 619.7L340.8 618.8L333.3 618.1L325.7 617.6L318 617.3L310.3 617L302.7 616.9L295.4 616.7L288.4 616.6L281.5 616.6L274.5 616.6L267.5 616.6L260.5 616.8L253.6 617.1L246.7 617.4L239.9 617.9L233.3 618.5L226.8 619.2L220.5 620.1L214.6 620.9L208.7 621.9L202.7 622.9L196.8 624L190.9 625.3L185.1 626.8L179.4 628.6L173.8 630.9L168.4 633.6L163.2 636.9L158.7 640.6L154.5 644.6L150.7 648.9L147.4 653.6L144.4 658.4L141.8 663.4L139.5 668.6L137.6 673.8L136 679.2L134.8 684.6L133.8 690.2L133.3 695.9L133.1 701.7L133.2 707.5L133.7 713.4L134.4 719.4L135.4 725.5L136.6 731.7L138 738L139.6 744.4L141.8 751.5L144.3 758.7L147.2 765.9L150.3 773.2L153.5 780.5L156.8 787.8L160 795.1L163 802.2L165.7 809.1L168.1 815.7L170.5 822.9L172.9 830L175.3 837.1L177.6 844.1L179.7 851L181.7 857.8L183.3 864.4L184.7 870.9L185.7 877.2L186.3 883.2L186.3 889L185.9 894.8L185.2 900.6L184.1 906.6L182.8 912.7L181.4 918.9L179.8 925.2L178.3 931.8L176.8 938.5L175.5 945.5L176 943.4L176.8 941.3L178 939.4L179.4 937.7L181.1 936.2L183 935L185 934.2L187.2 933.7L189.4 933.5L183.4 933.5L177.4 933.5L171.3 933.5L165.3 933.5L159.3 933.5L153.3 933.5L147.2 933.5L141.2 933.5L135.2 933.5L129.2 933.5Z" fill="#e2eeea"/>
<path d="M312.9 1957.4L324.9 1957.4L336.9 1957.4L348.9 1957.4L360.9 1957.4L372.9 1957.4L384.9 1957.4L396.9 1957.4L408.9 1957.4L420.9 1957.4L432.8 1957.4L435.2 1957.2L437.5 1956.6L439.7 1955.7L441.8 1954.5L443.6 1952.9L445.2 1951.1L446.4 1949.1L447.3 1946.9L447.9 1944.6L448.6 1940.3L449.7 1935.7L451 1930.9L452.4 1925.8L453.8 1920.3L455.1 1914.4L456.1 1908.1L456.6 1901.4L456.4 1894.3L455.4 1886.9L453.8 1879.7L451.7 1872.6L449.1 1865.4L446.1 1858.3L442.9 1851.1L439.3 1844L435.6 1837L431.8 1830L428 1823.1L424.1 1816.4L419.6 1809.1L414.8 1802L409.7 1795L404.5 1788.2L399.4 1781.5L394.3 1774.9L389.6 1768.5L385.2 1762.4L381.4 1756.5L378.3 1751L375.1 1745L372.2 1739.1L369.5 1733.3L367.1 1727.7L365 1722.3L363.3 1717.1L361.9 1712.1L360.9 1707.3L360.3 1702.7L360.1 1698.3L360.4 1693.7L361 1688.9L361.9 1684.1L363.2 1679.4L364.7 1674.8L366.6 1670.5L368.7 1666.4L371.1 1662.7L373.6 1659.4L376.3 1656.5L379.4 1653.9L382.9 1651.4L387 1648.9L391.7 1646.6L396.8 1644.5L402.4 1642.5L408.4 1640.6L414.7 1638.9L421.3 1637.3L428.1 1635.8L434.8 1634.6L442.4 1633.6L450.5 1632.9L459.1 1632.3L467.9 1631.9L476.9 1631.6L485.8 1631.4L494.6 1631.2L503.1 1631.1L511.1 1630.8L518.4 1630.6L525.3 1630.4L532 1630.3L538.4 1630.3L544.7 1630.3L550.9 1630.3L557.1 1630.4L563.3 1630.5L569.6 1630.7L576 1630.8L582.9 1631L589.7 1631L596.4 1631L603 1631.1L609.4 1631.2L615.7 1631.4L621.8 1631.8L627.7 1632.4L633.3 1633.2L638.7 1634.4L644.6 1635.8L650.6 1637.5L656.6 1639.4L662.4 1641.4L668.1 1643.6L673.6 1646L678.7 1648.6L683.5 1651.3L687.8 1654.2L691.7 1657.2L695.6 1660.7L699.5 1664.6L703.3 1668.8L706.9 1673.3L710.2 1677.9L713.2 1682.7L715.7 1687.4L717.9 1692.1L719.5 1696.6L720.5 1700.8L721 1704.9L721.1 1709.2L720.7 1713.7L719.9 1718.5L718.7 1723.5L717.2 1728.8L715.3 1734.4L713.2 1740.1L710.8 1746L708.3 1752.1L705.8 1757.5L702.6 1763.2L698.9 1769.3L694.8 1775.7L690.4 1782.2L685.9 1788.9L681.4 1795.8L677 1802.8L672.8 1810L669 1817.4L665.8 1824.4L662.8 1831.4L659.9 1838.5L657.2 1845.5L654.6 1852.6L652.3 1859.6L650.1 1866.5L648.2 1873.3L646.4 1879.9L644.9 1886.3L643.5 1892.8L642.5 1899.1L641.9 1905.1L641.4 1910.8L641.2 1916.3L641 1921.6L640.9 1926.7L640.8 1931.6L640.6 1936.4L640.3 1941.2L640.3 1943.6L640.8 1946.1L641.6 1948.4L642.9 1950.6L644.4 1952.5L646.2 1954.2L648.3 1955.6L650.6 1956.6L653 1957.2L655.5 1957.4L684.5 1957.4L713.5 1957.4L742.5 1957.4L771.5 1957.4L800.5 1957.4L829.4 1957.4L858.4 1957.4L887.4 1957.4L916.4 1957.4L945.4 1957.4L947.7 1957.2L950 1956.6L952.2 1955.8L954.2 1954.6L956 1953L957.6 1951.3L958.8 1949.3L959.8 1947.2L960.4 1944.9L960.6 1942.6L960.5 1940.2L959.9 1935.5L959.4 1930.6L959 1925.7L958.5 1920.7L958 1915.4L957.4 1909.9L956.6 1904.2L955.6 1898.3L954.3 1892.1L952.5 1885.6L950.7 1879.3L948.7 1872.7L946.5 1866L944 1859.1L941.4 1852.1L938.5 1845L935.5 1837.9L932.2 1830.8L928.7 1823.7L924.9 1816.7L920.6 1809.3L915.8 1802.1L910.7 1795L905.5 1788.1L900.2 1781.4L895.1 1774.8L890.3 1768.4L885.9 1762.2L882.1 1756.4L878.9 1750.9L875.7 1744.9L872.7 1739L869.9 1733.3L867.4 1727.8L865.2 1722.5L863.5 1717.5L862.1 1712.7L861.2 1708.3L860.8 1704.3L860.8 1700.5L861.4 1696.5L862.4 1692.4L863.8 1688.3L865.5 1684.2L867.7 1680.2L870.1 1676.3L872.9 1672.6L875.9 1669.3L879.2 1666.2L882.6 1663.5L886.3 1660.9L890.5 1658.6L895.3 1656.3L900.5 1654.2L906.3 1652.3L912.5 1650.5L919.1 1648.9L926.2 1647.4L933.6 1646.1L941.4 1644.8L949 1643.7L956.8 1642.9L964.9 1642.3L973.4 1641.9L982.4 1641.7L992 1641.5L1002.2 1641.4L1013.2 1641.3L1025.1 1641.2L1037.9 1641.1L1052.1 1640.8L1068.2 1640.6L1085.6 1640.4L1103.8 1640.2L1122.3 1640L1140.6 1639.9L1158.2 1639.9L1174.7 1640L1189.4 1640.1L1201.9 1640.4L1211.3 1640.7L1219.7 1641.2L1227.1 1641.7L1233.6 1642.2L1239.4 1642.9L1244.6 1643.6L1249.3 1644.4L1253.7 1645.2L1258 1646.2L1262.3 1647.2L1265.6 1648L1268.2 1648.9L1270.3 1649.7L1271.9 1650.5L1273.4 1651.3L1274.8 1652.3L1276.5 1653.5L1278.4 1655.1L1280.7 1656.9L1283.4 1659L1285.6 1660.6L1287.7 1662.3L1289.8 1664.1L1292 1665.9L1294 1667.9L1296 1669.9L1298 1671.9L1299.9 1674L1301.7 1676.1L1303.5 1678.3L1305.2 1680.5L1306.8 1682.9L1308.5 1685.2L1310 1687.6L1311.5 1690.1L1312.9 1692.5L1314.1 1695L1315.3 1697.4L1316.3 1699.8L1317.2 1702.1L1318 1704.5L1318.6 1707L1319.2 1709.5L1319.7 1711.9L1320 1714.4L1320.3 1717L1320.5 1719.5L1320.6 1722L1320.6 1724.6L1320.5 1727.2L1320.3 1729.8L1320 1732.5L1319.6 1735.3L1319.1 1738.1L1318.5 1741L1317.8 1743.9L1317 1746.8L1316.1 1749.7L1315.2 1752.5L1314.2 1755.3L1313.2 1757.7L1312.1 1760.1L1310.9 1762.6L1309.6 1765L1308.2 1767.5L1306.7 1770.1L1305 1772.9L1303.3 1775.7L1301.4 1778.7L1299.5 1781.9L1297.6 1784.9L1295.6 1788.1L1293.5 1791.4L1291.2 1794.8L1288.9 1798.2L1286.5 1801.8L1284.1 1805.3L1281.8 1808.9L1279.4 1812.4L1277.2 1816L1275.1 1819.3L1273.1 1822.6L1271 1826L1268.9 1829.3L1266.8 1832.7L1264.8 1836L1262.9 1839.4L1261 1842.7L1259.2 1846.1L1257.4 1849.4L1256 1852.4L1254.5 1855.3L1253 1858.4L1251.5 1861.4L1250.1 1864.6L1248.8 1867.8L1247.5 1871.2L1246.4 1874.7L1245.5 1878.3L1244.9 1882.2L1244.5 1886.2L1244.4 1890.1L1244.6 1893.8L1244.9 1897.4L1245.4 1900.8L1246 1904L1246.6 1907.1L1247.2 1910L1247.8 1912.7L1248.3 1915.2L1248.9 1918.3L1249.5 1921.3L1250.2 1924.1L1250.9 1926.9L1251.6 1929.5L1252.3 1932.1L1253 1934.5L1253.7 1936.9L1254.3 1939.2L1254.9 1941.5L1255.8 1943.7L1257 1945.9L1258.5 1947.8L1260.4 1949.4L1262.5 1950.7L1264.7 1951.6L1267.1 1952.2L1269.5 1952.4L1276 1952.4L1282.6 1952.4L1289.1 1952.4L1295.6 1952.4L1302.1 1952.4L1308.7 1952.4L1315.2 1952.4L1321.7 1952.4L1328.2 1952.4L1334.7 1952.4L1334.7 1921.9L1328.2 1921.9L1321.7 1921.9L1315.2 1921.9L1308.7 1921.9L1302.1 1921.9L1295.6 1921.9L1289.1 1921.9L1282.6 1921.9L1276 1921.9L1269.5 1921.9L1272 1922.1L1274.3 1922.7L1276.6 1923.7L1278.7 1925L1280.5 1926.6L1282.1 1928.5L1283.3 1930.6L1284.2 1932.9L1283.2 1930.2L1282.3 1927.7L1281.4 1925.2L1280.6 1922.8L1279.7 1920.6L1278.9 1918.3L1278.1 1916.1L1277.5 1914L1276.8 1911.8L1276.3 1909.7L1275.7 1906.8L1275.1 1904L1274.5 1901.3L1274 1898.8L1273.5 1896.3L1273.2 1893.9L1273 1891.7L1272.9 1889.6L1272.9 1887.8L1273.1 1886.1L1273.4 1884.3L1273.9 1882.4L1274.5 1880.3L1275.3 1878.2L1276.3 1875.9L1277.4 1873.4L1278.6 1870.8L1279.9 1868.1L1281.4 1865.2L1282.9 1862.2L1284.4 1859.4L1285.9 1856.5L1287.6 1853.6L1289.4 1850.5L1291.2 1847.4L1293.2 1844.2L1295.2 1841L1297.2 1837.7L1299.3 1834.4L1301.4 1831.1L1303.4 1827.9L1305.6 1824.5L1307.8 1821.1L1310.2 1817.7L1312.5 1814.1L1314.9 1810.6L1317.2 1807.1L1319.5 1803.6L1321.8 1800.1L1323.9 1796.6L1325.7 1793.6L1327.5 1790.6L1329.4 1787.7L1331.1 1784.7L1332.9 1781.8L1334.6 1778.7L1336.3 1775.5L1337.9 1772.3L1339.4 1768.9L1340.8 1765.3L1342.1 1761.8L1343.3 1758.3L1344.3 1754.7L1345.3 1751.1L1346.2 1747.4L1347 1743.7L1347.7 1740L1348.3 1736.2L1348.7 1732.5L1349 1728.7L1349.1 1725.1L1349.1 1721.5L1349 1717.9L1348.7 1714.3L1348.3 1710.8L1347.8 1707.2L1347.1 1703.7L1346.3 1700.2L1345.4 1696.7L1344.3 1693.3L1343.2 1689.7L1341.9 1686.2L1340.5 1682.8L1338.9 1679.4L1337.3 1676.1L1335.5 1672.8L1333.7 1669.6L1331.8 1666.5L1329.8 1663.4L1327.8 1660.5L1325.7 1657.5L1323.5 1654.6L1321.2 1651.7L1318.8 1648.9L1316.3 1646.2L1313.8 1643.5L1311.2 1640.9L1308.5 1638.4L1305.8 1636L1303.1 1633.6L1301.1 1632L1299 1630.2L1296.8 1628.3L1294.2 1626.3L1291.3 1624.2L1287.9 1622L1284.1 1620L1279.9 1618.2L1275.3 1616.6L1270.2 1615.1L1265.4 1614L1260.4 1612.9L1255.1 1611.9L1249.5 1611L1243.5 1610.1L1236.9 1609.4L1229.7 1608.7L1221.6 1608.2L1212.7 1607.8L1202.8 1607.4L1189.9 1607.1L1174.9 1607L1158.3 1606.9L1140.5 1606.9L1122 1607L1103.4 1607.2L1085.2 1607.4L1067.7 1607.6L1051.6 1607.8L1037.3 1608.1L1024.7 1608.2L1013 1608.3L1002 1608.4L991.6 1608.5L981.7 1608.7L972.2 1609L963 1609.4L954 1610.1L945.1 1611L936.2 1612.2L927.8 1613.7L919.6 1615.4L911.6 1617.2L903.9 1619.2L896.4 1621.5L889.2 1624.1L882.2 1627L875.5 1630.3L869.2 1634.1L863.2 1638.4L857.8 1643.2L852.9 1648.4L848.4 1654L844.5 1659.9L841.1 1666L838.2 1672.3L835.9 1678.8L834.1 1685.4L832.9 1692.1L832.3 1698.8L832.3 1705.8L833.1 1712.8L834.4 1719.5L836.3 1726.2L838.6 1732.7L841.2 1739.1L844.1 1745.5L847.2 1751.8L850.5 1758.1L853.8 1764.3L857.9 1771.4L862.5 1778.4L867.4 1785.3L872.5 1792.1L877.7 1798.8L882.9 1805.5L887.8 1812L892.4 1818.4L896.5 1824.5L900 1830.4L903.3 1836.7L906.4 1843L909.4 1849.5L912.2 1856L914.8 1862.5L917.3 1868.9L919.5 1875.2L921.5 1881.4L923.4 1887.4L925.1 1893.2L926.3 1898.4L927.2 1903.3L927.8 1908.2L928.3 1912.9L928.6 1917.8L928.9 1922.7L929.1 1927.7L929.4 1932.9L929.7 1938.3L930.3 1944L930.1 1941.7L930.4 1939.3L931 1937.1L932 1934.9L933.2 1932.9L934.8 1931.2L936.6 1929.7L938.6 1928.5L940.8 1927.6L943.1 1927L945.4 1926.9L916.4 1926.9L887.4 1926.9L858.4 1926.9L829.4 1926.9L800.5 1926.9L771.5 1926.9L742.5 1926.9L713.5 1926.9L684.5 1926.9L655.5 1926.9L658 1927.1L660.4 1927.7L662.7 1928.7L664.8 1930L666.6 1931.7L668.2 1933.6L669.4 1935.8L670.2 1938.1L670.7 1940.6L670.7 1943.1L670.9 1937.4L670.9 1931.9L670.8 1926.7L670.7 1921.7L670.7 1916.8L670.7 1912L670.9 1907.3L671.2 1902.5L671.8 1897.6L672.7 1892.5L674.1 1886.8L675.6 1880.9L677.4 1874.7L679.4 1868.4L681.5 1862L683.9 1855.5L686.4 1848.9L689 1842.4L691.8 1836L694.7 1829.6L697.8 1823.8L701.3 1817.6L705.3 1811.3L709.6 1804.8L714.1 1798.1L718.6 1791.4L723 1784.5L727.2 1777.5L731.1 1770.5L734.5 1763.2L737.2 1756.8L739.7 1750.4L742.2 1744L744.4 1737.4L746.3 1730.8L747.9 1724.1L749 1717.2L749.6 1710.2L749.5 1703.1L748.6 1695.9L747.1 1688.8L744.9 1681.8L742.1 1675L738.8 1668.4L735.1 1662L730.9 1655.8L726.5 1649.8L721.7 1644.2L716.8 1638.9L711.6 1634.1L705.8 1629.5L699.7 1625.3L693.3 1621.6L686.7 1618.3L680 1615.2L673.2 1612.5L666.3 1610.1L659.5 1607.9L652.7 1606L646 1604.2L638.7 1602.7L631.5 1601.6L624.3 1600.9L617.2 1600.4L610.2 1600.2L603.3 1600.1L596.5 1600L589.8 1600L583.3 1600L576.9 1599.8L570.4 1599.7L563.9 1599.5L557.6 1599.4L551.2 1599.3L544.8 1599.3L538.3 1599.3L531.6 1599.3L524.7 1599.4L517.5 1599.6L510 1599.8L502.3 1600.1L494 1600.2L485.2 1600.4L476.1 1600.6L466.8 1600.9L457.4 1601.3L448.1 1602L439 1602.8L430.2 1603.9L421.8 1605.4L414.3 1607.1L406.9 1609L399.6 1611L392.5 1613.3L385.5 1615.9L378.8 1618.8L372.3 1622L366.2 1625.7L360.3 1630L354.9 1634.8L350.2 1640.2L346 1645.9L342.4 1652L339.4 1658.4L336.9 1664.9L334.9 1671.5L333.4 1678.2L332.4 1685L331.8 1691.7L331.6 1698.3L331.9 1705.3L332.8 1712.1L334.2 1718.8L336 1725.4L338.2 1732L340.8 1738.5L343.5 1745L346.5 1751.4L349.7 1757.9L353 1764.3L357.1 1771.4L361.7 1778.4L366.6 1785.3L371.6 1792.1L376.8 1798.9L381.9 1805.5L386.9 1812.1L391.5 1818.5L395.7 1824.7L399.4 1830.6L403.2 1837.2L406.9 1843.8L410.5 1850.4L414 1857L417.2 1863.4L420 1869.7L422.6 1875.8L424.7 1881.6L426.3 1887L427.4 1891.9L427.8 1896.1L427.7 1900.1L427.2 1904.2L426.4 1908.4L425.2 1912.8L423.8 1917.5L422.3 1922.5L420.7 1927.8L419.1 1933.5L417.8 1939.7L418.4 1937.3L419.3 1935.1L420.5 1933.1L422.1 1931.3L423.9 1929.8L425.9 1928.5L428.1 1927.6L430.5 1927L432.8 1926.9L420.9 1926.9L408.9 1926.9L396.9 1926.9L384.9 1926.9L372.9 1926.9L360.9 1926.9L348.9 1926.9L336.9 1926.9L324.9 1926.9L312.9 1926.9Z" fill="#c4d6d1"/>
<path d="M312.9 1956.2L324.9 1956.2L336.9 1956.2L348.9 1956.2L360.9 1956.2L372.9 1956.2L384.9 1956.2L396.9 1956.2L408.9 1956.2L420.9 1956.2L432.8 1956.2L435 1956L437.2 1955.5L439.2 1954.6L441.1 1953.5L442.8 1952.1L444.2 1950.4L445.3 1948.5L446.2 1946.5L446.7 1944.4L447.5 1940L448.5 1935.4L449.8 1930.6L451.2 1925.5L452.6 1920L453.9 1914.2L454.9 1908L455.4 1901.4L455.2 1894.4L454.3 1887.1L452.7 1880L450.6 1872.9L448 1865.9L445 1858.7L441.8 1851.6L438.3 1844.6L434.6 1837.5L430.8 1830.6L426.9 1823.7L423.1 1817L418.6 1809.8L413.8 1802.7L408.8 1795.8L403.6 1788.9L398.4 1782.2L393.4 1775.6L388.6 1769.2L384.2 1763L380.4 1757.1L377.2 1751.6L374.1 1745.5L371.1 1739.6L368.4 1733.8L366 1728.2L363.9 1722.7L362.2 1717.5L360.8 1712.4L359.7 1707.5L359.1 1702.8L358.9 1698.3L359.2 1693.6L359.8 1688.7L360.7 1683.9L362 1679.1L363.6 1674.4L365.5 1670L367.6 1665.8L370.1 1662L372.7 1658.6L375.5 1655.7L378.6 1653L382.3 1650.4L386.5 1647.9L391.2 1645.5L396.4 1643.4L402 1641.3L408 1639.4L414.4 1637.7L421 1636.1L427.9 1634.6L434.7 1633.4L442.2 1632.4L450.4 1631.7L459 1631.1L467.9 1630.7L476.9 1630.4L485.8 1630.2L494.6 1630L503 1629.9L511.1 1629.6L518.4 1629.4L525.3 1629.2L532 1629.1L538.4 1629.1L544.7 1629.1L550.9 1629.1L557.1 1629.2L563.3 1629.3L569.6 1629.5L576 1629.6L582.9 1629.8L589.7 1629.8L596.4 1629.8L603 1629.9L609.5 1630L615.8 1630.2L621.9 1630.6L627.8 1631.2L633.5 1632.1L639 1633.2L645 1634.7L651 1636.4L657 1638.2L662.8 1640.3L668.6 1642.5L674.1 1644.9L679.3 1647.5L684.1 1650.3L688.5 1653.2L692.5 1656.3L696.5 1659.8L700.4 1663.8L704.3 1668L707.9 1672.5L711.2 1677.3L714.2 1682.1L716.8 1686.9L719 1691.7L720.6 1696.3L721.7 1700.6L722.2 1704.8L722.3 1709.2L721.9 1713.8L721.1 1718.7L719.9 1723.8L718.3 1729.2L716.5 1734.8L714.3 1740.5L711.9 1746.5L709.4 1752.6L706.8 1758L703.6 1763.8L699.9 1770L695.8 1776.3L691.4 1782.9L686.9 1789.6L682.4 1796.5L678 1803.5L673.8 1810.6L670.1 1817.9L666.9 1824.8L663.9 1831.9L661 1838.9L658.3 1846L655.8 1853L653.4 1860L651.3 1866.9L649.3 1873.6L647.6 1880.2L646.1 1886.6L644.7 1893L643.7 1899.2L643.1 1905.2L642.6 1910.9L642.4 1916.4L642.2 1921.6L642.1 1926.7L642 1931.6L641.8 1936.5L641.5 1941.2L641.5 1943.5L642 1945.8L642.7 1947.9L643.9 1949.9L645.3 1951.7L647 1953.3L648.9 1954.5L651 1955.4L653.2 1956L655.5 1956.2L684.5 1956.2L713.5 1956.2L742.5 1956.2L771.5 1956.2L800.5 1956.2L829.4 1956.2L858.4 1956.2L887.4 1956.2L916.4 1956.2L945.4 1956.2L947.5 1956L949.7 1955.5L951.7 1954.7L953.5 1953.6L955.2 1952.2L956.6 1950.6L957.8 1948.7L958.6 1946.8L959.2 1944.7L959.4 1942.5L959.3 1940.4L958.7 1935.6L958.2 1930.7L957.8 1925.8L957.3 1920.7L956.8 1915.5L956.2 1910L955.5 1904.4L954.4 1898.5L953.1 1892.3L951.4 1885.9L949.6 1879.6L947.5 1873.1L945.3 1866.4L942.9 1859.5L940.3 1852.5L937.4 1845.5L934.4 1838.4L931.1 1831.3L927.6 1824.2L923.9 1817.2L919.5 1809.9L914.8 1802.8L909.7 1795.7L904.5 1788.8L899.3 1782.1L894.2 1775.5L889.4 1769.1L884.9 1762.9L881 1757L877.9 1751.5L874.7 1745.4L871.6 1739.5L868.8 1733.8L866.3 1728.2L864.1 1722.9L862.3 1717.8L861 1713L860 1708.5L859.6 1704.3L859.6 1700.5L860.2 1696.3L861.2 1692.1L862.6 1687.9L864.4 1683.7L866.6 1679.6L869.1 1675.6L871.9 1671.9L875 1668.4L878.3 1665.3L881.9 1662.5L885.7 1659.9L890 1657.5L894.8 1655.2L900.1 1653.1L905.9 1651.2L912.2 1649.4L918.9 1647.7L925.9 1646.3L933.4 1644.9L941.2 1643.6L948.9 1642.5L956.7 1641.7L964.9 1641.1L973.4 1640.7L982.4 1640.5L992 1640.3L1002.2 1640.2L1013.2 1640.1L1025.1 1640L1037.9 1639.9L1052.1 1639.6L1068.2 1639.4L1085.5 1639.2L1103.7 1639L1122.3 1638.8L1140.6 1638.7L1158.2 1638.7L1174.7 1638.8L1189.4 1638.9L1201.9 1639.2L1211.4 1639.5L1219.8 1640L1227.2 1640.5L1233.8 1641L1239.6 1641.7L1244.8 1642.4L1249.5 1643.2L1254 1644L1258.3 1645L1262.6 1646L1266 1646.9L1268.7 1647.8L1270.8 1648.6L1272.5 1649.4L1274 1650.3L1275.6 1651.3L1277.2 1652.6L1279.2 1654.1L1281.5 1656L1284.2 1658L1286.3 1659.7L1288.5 1661.4L1290.7 1663.2L1292.8 1665.1L1294.9 1667L1296.9 1669L1298.9 1671.1L1300.8 1673.2L1302.7 1675.4L1304.4 1677.6L1306.2 1679.8L1307.8 1682.2L1309.5 1684.6L1311 1687L1312.5 1689.5L1313.9 1692L1315.2 1694.5L1316.4 1696.9L1317.5 1699.4L1318.4 1701.7L1319.1 1704.2L1319.8 1706.7L1320.4 1709.2L1320.9 1711.7L1321.2 1714.3L1321.5 1716.8L1321.7 1719.4L1321.8 1722L1321.8 1724.7L1321.7 1727.3L1321.5 1729.9L1321.2 1732.7L1320.8 1735.5L1320.3 1738.4L1319.6 1741.3L1318.9 1744.2L1318.1 1747.1L1317.2 1750L1316.3 1752.9L1315.3 1755.7L1314.3 1758.2L1313.2 1760.7L1312 1763.1L1310.7 1765.6L1309.2 1768.1L1307.7 1770.8L1306 1773.5L1304.3 1776.3L1302.4 1779.3L1300.5 1782.5L1298.7 1785.5L1296.6 1788.7L1294.5 1792L1292.2 1795.4L1289.9 1798.9L1287.5 1802.4L1285.1 1806L1282.8 1809.5L1280.4 1813.1L1278.2 1816.6L1276.1 1819.9L1274.1 1823.2L1272 1826.6L1269.9 1829.9L1267.9 1833.3L1265.9 1836.6L1263.9 1840L1262 1843.3L1260.2 1846.6L1258.5 1850L1257 1852.9L1255.5 1855.9L1254.1 1858.9L1252.6 1861.9L1251.2 1865L1249.9 1868.2L1248.7 1871.6L1247.6 1875L1246.7 1878.6L1246.1 1882.3L1245.7 1886.2L1245.6 1890L1245.8 1893.7L1246.1 1897.2L1246.6 1900.6L1247.2 1903.8L1247.8 1906.9L1248.4 1909.8L1249 1912.5L1249.5 1915L1250 1918.1L1250.7 1921L1251.3 1923.8L1252 1926.5L1252.7 1929.2L1253.5 1931.7L1254.2 1934.1L1254.8 1936.5L1255.5 1938.9L1256 1941.1L1256.8 1943.2L1258 1945.2L1259.4 1946.9L1261.1 1948.4L1263 1949.6L1265.1 1950.5L1267.3 1951L1269.5 1951.2L1276 1951.2L1282.6 1951.2L1289.1 1951.2L1295.6 1951.2L1302.1 1951.2L1308.7 1951.2L1315.2 1951.2L1321.7 1951.2L1328.2 1951.2L1334.7 1951.2L1334.7 1923.1L1328.2 1923.1L1321.7 1923.1L1315.2 1923.1L1308.7 1923.1L1302.1 1923.1L1295.6 1923.1L1289.1 1923.1L1282.6 1923.1L1276 1923.1L1269.5 1923.1L1271.8 1923.3L1274 1923.8L1276 1924.7L1277.9 1925.9L1279.6 1927.4L1281.1 1929.2L1282.2 1931.1L1283 1933.2L1282.1 1930.6L1281.2 1928L1280.3 1925.6L1279.4 1923.2L1278.6 1920.9L1277.8 1918.7L1277 1916.5L1276.3 1914.3L1275.7 1912.1L1275.1 1909.9L1274.5 1907.1L1273.9 1904.3L1273.3 1901.6L1272.8 1899L1272.4 1896.5L1272 1894.1L1271.8 1891.8L1271.7 1889.7L1271.7 1887.7L1271.9 1885.9L1272.2 1884L1272.7 1882L1273.4 1879.9L1274.2 1877.7L1275.2 1875.4L1276.3 1872.9L1277.5 1870.3L1278.9 1867.6L1280.3 1864.7L1281.9 1861.6L1283.3 1858.8L1284.9 1856L1286.5 1853L1288.3 1849.9L1290.2 1846.8L1292.1 1843.6L1294.1 1840.4L1296.2 1837.1L1298.3 1833.8L1300.4 1830.4L1302.4 1827.2L1304.6 1823.9L1306.8 1820.5L1309.2 1817L1311.5 1813.5L1313.9 1809.9L1316.2 1806.4L1318.5 1802.9L1320.7 1799.4L1322.9 1796L1324.7 1793L1326.5 1790L1328.3 1787.1L1330.1 1784.1L1331.9 1781.2L1333.6 1778.1L1335.2 1775L1336.8 1771.7L1338.3 1768.4L1339.7 1764.9L1341 1761.5L1342.1 1758L1343.2 1754.4L1344.2 1750.8L1345.1 1747.1L1345.9 1743.5L1346.5 1739.8L1347.1 1736.1L1347.5 1732.4L1347.8 1728.7L1347.9 1725.1L1347.9 1721.5L1347.8 1718L1347.5 1714.4L1347.1 1710.9L1346.6 1707.4L1345.9 1703.9L1345.2 1700.5L1344.2 1697L1343.2 1693.6L1342.1 1690.1L1340.8 1686.7L1339.4 1683.3L1337.8 1679.9L1336.2 1676.6L1334.5 1673.4L1332.7 1670.2L1330.8 1667.1L1328.8 1664.1L1326.9 1661.2L1324.8 1658.2L1322.6 1655.3L1320.3 1652.5L1317.9 1649.7L1315.5 1647L1313 1644.3L1310.4 1641.8L1307.8 1639.3L1305.1 1636.9L1302.3 1634.6L1300.3 1632.9L1298.3 1631.2L1296 1629.3L1293.5 1627.2L1290.6 1625.2L1287.3 1623.1L1283.6 1621.1L1279.5 1619.3L1274.9 1617.7L1269.9 1616.3L1265.1 1615.2L1260.1 1614.1L1254.9 1613.1L1249.4 1612.1L1243.3 1611.3L1236.8 1610.6L1229.6 1609.9L1221.6 1609.4L1212.7 1609L1202.8 1608.6L1189.9 1608.3L1174.9 1608.2L1158.3 1608.1L1140.5 1608.1L1122.1 1608.2L1103.5 1608.4L1085.2 1608.6L1067.8 1608.8L1051.6 1609L1037.4 1609.3L1024.8 1609.4L1013 1609.5L1002 1609.6L991.6 1609.7L981.7 1609.9L972.2 1610.2L963.1 1610.6L954.1 1611.2L945.2 1612.2L936.4 1613.4L928 1614.9L919.8 1616.5L911.9 1618.4L904.2 1620.4L896.8 1622.7L889.6 1625.2L882.7 1628.1L876.1 1631.4L869.9 1635.1L864 1639.3L858.6 1644.1L853.8 1649.2L849.4 1654.7L845.5 1660.5L842.2 1666.5L839.3 1672.8L837 1679.2L835.3 1685.7L834.1 1692.2L833.5 1698.9L833.5 1705.8L834.3 1712.6L835.6 1719.2L837.5 1725.8L839.7 1732.2L842.3 1738.6L845.2 1745L848.3 1751.3L851.5 1757.5L854.8 1763.8L858.9 1770.8L863.5 1777.7L868.4 1784.6L873.5 1791.4L878.7 1798.1L883.8 1804.7L888.8 1811.3L893.4 1817.7L897.5 1823.9L901 1829.8L904.4 1836.1L907.5 1842.5L910.5 1849L913.3 1855.5L915.9 1862L918.4 1868.5L920.6 1874.8L922.7 1881L924.6 1887.1L926.2 1892.9L927.4 1898.1L928.3 1903.1L929 1908L929.5 1912.8L929.8 1917.7L930.1 1922.6L930.3 1927.6L930.6 1932.8L930.9 1938.2L931.5 1943.8L931.3 1941.7L931.6 1939.5L932.1 1937.4L933 1935.5L934.2 1933.6L935.6 1932L937.3 1930.6L939.1 1929.5L941.1 1928.7L943.2 1928.2L945.4 1928.1L916.4 1928.1L887.4 1928.1L858.4 1928.1L829.4 1928.1L800.5 1928.1L771.5 1928.1L742.5 1928.1L713.5 1928.1L684.5 1928.1L655.5 1928.1L657.8 1928.2L660 1928.8L662.1 1929.7L664.1 1930.9L665.8 1932.5L667.2 1934.3L668.3 1936.3L669.1 1938.4L669.5 1940.7L669.5 1943L669.7 1937.3L669.7 1931.9L669.6 1926.7L669.5 1921.7L669.5 1916.8L669.5 1912L669.7 1907.2L670 1902.3L670.7 1897.4L671.6 1892.2L672.9 1886.5L674.5 1880.5L676.3 1874.4L678.2 1868L680.4 1861.6L682.7 1855L685.3 1848.5L687.9 1842L690.7 1835.5L693.7 1829.1L696.7 1823.2L700.3 1817L704.3 1810.6L708.6 1804.1L713.1 1797.5L717.6 1790.7L722 1783.9L726.2 1776.9L730.1 1769.9L733.4 1762.7L736.1 1756.4L738.6 1750L741 1743.6L743.2 1737.1L745.1 1730.5L746.7 1723.8L747.8 1717.1L748.4 1710.2L748.3 1703.2L747.4 1696.1L745.9 1689.1L743.7 1682.2L741 1675.5L737.7 1669L734 1662.6L730 1656.5L725.6 1650.6L720.9 1645L715.9 1639.8L710.8 1635L705.1 1630.4L699 1626.4L692.7 1622.7L686.2 1619.3L679.5 1616.3L672.8 1613.6L665.9 1611.2L659.1 1609L652.4 1607.1L645.7 1605.4L638.5 1603.9L631.4 1602.8L624.2 1602.1L617.2 1601.6L610.2 1601.4L603.3 1601.3L596.5 1601.2L589.8 1601.2L583.3 1601.2L576.9 1601L570.3 1600.9L563.9 1600.7L557.6 1600.6L551.2 1600.5L544.8 1600.5L538.3 1600.5L531.6 1600.5L524.7 1600.6L517.6 1600.8L510.1 1601L502.4 1601.3L494 1601.4L485.2 1601.6L476.1 1601.8L466.8 1602.1L457.5 1602.5L448.2 1603.2L439.1 1604L430.4 1605.1L422 1606.6L414.5 1608.3L407.2 1610.1L399.9 1612.2L392.8 1614.4L386 1617L379.3 1619.8L372.9 1623.1L366.8 1626.7L361.1 1630.9L355.8 1635.6L351.1 1640.9L347 1646.6L343.5 1652.6L340.5 1658.9L338.1 1665.3L336.1 1671.9L334.6 1678.5L333.5 1685.1L333 1691.8L332.8 1698.3L333.1 1705.1L334 1711.9L335.4 1718.5L337.2 1725.1L339.4 1731.6L341.9 1738.1L344.6 1744.5L347.6 1750.9L350.8 1757.3L354.1 1763.7L358.1 1770.8L362.7 1777.7L367.5 1784.6L372.6 1791.4L377.8 1798.1L382.9 1804.8L387.8 1811.3L392.5 1817.8L396.8 1824L400.4 1830L404.2 1836.6L407.9 1843.2L411.6 1849.9L415 1856.4L418.2 1862.9L421.1 1869.2L423.7 1875.4L425.8 1881.2L427.4 1886.7L428.6 1891.7L429 1896L428.9 1900.2L428.4 1904.4L427.6 1908.7L426.4 1913.2L425 1917.9L423.4 1922.8L421.8 1928.1L420.3 1933.8L419 1939.9L419.5 1937.7L420.3 1935.7L421.5 1933.8L422.9 1932.1L424.6 1930.7L426.5 1929.6L428.5 1928.7L430.7 1928.2L432.8 1928.1L420.9 1928.1L408.9 1928.1L396.9 1928.1L384.9 1928.1L372.9 1928.1L360.9 1928.1L348.9 1928.1L336.9 1928.1L324.9 1928.1L312.9 1928.1Z" fill="#e2eeea"/>
<g><path d="M247.8 97.5C247.5 115.2 247.2 133.7 246.9 150.6C246.6 167.4 246.8 184 245.8 198.6C244.8 213.2 243.9 226.8 240.7 238.1C237.5 249.4 235.1 257.9 226.6 266.4C218.1 274.8 202.1 280 189.9 288.9C177.6 297.9 164 307.8 153.2 320C142.4 332.2 132.5 345.9 124.9 362.4C117.4 378.8 112 400 108 418.8C104 437.6 101.9 462.1 100.9 475.3C100.1 487.3 99.5 492.1 102.4 497.9C105.2 503.6 107.5 508.5 117.9 509.7C129.6 511.1 156.2 507.8 172.9 506.3C189.6 504.9 206.6 502.7 218.1 501.3C229.6 499.9 234.1 499 242.1 497.9C241.6 488.5 241.3 480.5 240.7 469.6C240.1 458.8 236.6 442.6 238.4 432.9C240.3 423.3 245 416.5 252 411.8C259 407.1 270.8 404.6 280.2 404.7C289.6 404.8 301.8 407.9 308.5 412.6C315.2 417.3 318.5 422.5 320.3 432.9C322.1 443.4 319.5 464.6 319.2 475.3C318.9 486 318.6 490 318.4 497.3C335.8 497.8 352.5 498.2 370.6 498.7C388.7 499.3 409.9 500.1 427.1 500.7C444.2 501.3 463.2 504.5 473.6 502.1C484.1 499.8 486.7 495.8 489.7 486.6C492.8 477.4 492.6 460.7 492 447.1C491.4 433.4 489.2 417.9 486.3 404.7C483.5 391.5 480.2 378.8 475.1 368C469.9 357.2 464.2 348.7 455.3 339.8C446.3 330.8 433.2 320.9 421.4 314.4C409.6 307.8 395.1 304.9 384.7 300.2C374.3 295.5 366.8 292.2 359.3 286.1C351.8 280 344 272.5 339.5 263.5C335.1 254.6 333.9 244.2 332.5 232.5C331.1 220.7 331.2 206.6 331.1 192.9C330.9 179.3 331.3 165.6 331.6 150.6C331.9 135.6 332.4 119 332.8 103.2" fill="none" stroke="#5d857d" stroke-width="30" stroke-linejoin="round" stroke-linecap="butt"/><path d="M247.8 97.5C247.5 115.2 247.2 133.7 246.9 150.6C246.6 167.4 246.8 184 245.8 198.6C244.8 213.2 243.9 226.8 240.7 238.1C237.5 249.4 235.1 257.9 226.6 266.4C218.1 274.8 202.1 280 189.9 288.9C177.6 297.9 164 307.8 153.2 320C142.4 332.2 132.5 345.9 124.9 362.4C117.4 378.8 112 400 108 418.8C104 437.6 101.9 462.1 100.9 475.3C100.1 487.3 99.5 492.1 102.4 497.9C105.2 503.6 107.5 508.5 117.9 509.7C129.6 511.1 156.2 507.8 172.9 506.3C189.6 504.9 206.6 502.7 218.1 501.3C229.6 499.9 234.1 499 242.1 497.9C241.6 488.5 241.3 480.5 240.7 469.6C240.1 458.8 236.6 442.6 238.4 432.9C240.3 423.3 245 416.5 252 411.8C259 407.1 270.8 404.6 280.2 404.7C289.6 404.8 301.8 407.9 308.5 412.6C315.2 417.3 318.5 422.5 320.3 432.9C322.1 443.4 319.5 464.6 319.2 475.3C318.9 486 318.6 490 318.4 497.3C335.8 497.8 352.5 498.2 370.6 498.7C388.7 499.3 409.9 500.1 427.1 500.7C444.2 501.3 463.2 504.5 473.6 502.1C484.1 499.8 486.7 495.8 489.7 486.6C492.8 477.4 492.6 460.7 492 447.1C491.4 433.4 489.2 417.9 486.3 404.7C483.5 391.5 480.2 378.8 475.1 368C469.9 357.2 464.2 348.7 455.3 339.8C446.3 330.8 433.2 320.9 421.4 314.4C409.6 307.8 395.1 304.9 384.7 300.2C374.3 295.5 366.8 292.2 359.3 286.1C351.8 280 344 272.5 339.5 263.5C335.1 254.6 333.9 244.2 332.5 232.5C331.1 220.7 331.2 206.6 331.1 192.9C330.9 179.3 331.3 165.6 331.6 150.6C331.9 135.6 332.4 119 332.8 103.2" fill="none" stroke="#84ada4" stroke-width="26.8" stroke-linejoin="round" stroke-linecap="butt"/></g>
<g><path d="M788.6 81.2C789.5 100 790.1 118.8 791.2 137.6C792.3 156.5 793.9 179.5 795.1 194.6C796.3 209.7 798.4 219.4 798.4 228.2C798.4 237.1 802.5 240.2 795.1 247.6C785.2 257.6 758.2 274.6 739.4 287.8C720.6 300.9 695.6 315.8 682.5 326.6C669.3 337.4 665.2 343 660.5 352.5C655.7 362 655.2 369.7 654 383.5C652.8 397.3 652.6 422.4 653.5 435.3C654.3 448.2 655.4 454.2 659.2 461.2C662.9 468.2 666.9 473.9 676 477.2C685.1 480.5 700.4 480.1 713.5 481.1C726.7 482.1 742.4 482.6 754.9 483.2C767.5 483.7 777.4 484 788.6 484.5C783.4 470.7 776.7 454.3 773.1 443.1C769.4 431.8 766.8 425.4 766.6 417.2C766.4 409 767.2 399.8 771.8 393.9C776.3 388 786.2 384.1 793.8 381.7C801.3 379.3 808.9 379 817.1 379.7C825.3 380.3 835.4 381.3 842.9 385.6C850.5 389.9 858.7 398.5 862.4 405.5C866 412.5 866 418.7 864.9 427.5C863.9 436.4 857.6 448.9 855.9 458.6C854.2 468.3 855 476.7 854.6 485.8C868 485.1 879.4 484.3 894.7 483.7C910 483.1 933.7 483.3 946.5 481.9C959.2 480.5 964.7 481 971.1 475.4C977.4 469.8 981.9 461.4 984.8 448.2C987.7 435.1 988.7 412.4 988.4 396.5C988.1 380.5 986.2 365.4 982.7 352.5C979.2 339.5 974.1 327.9 967.2 318.8C960.3 309.8 953.4 305.5 941.3 298.1C929.2 290.8 906.3 281.5 894.7 274.8C883.1 268.1 876 265.8 871.9 258C867.8 250.2 870.4 244 870.1 228.2C869.8 212.5 870.1 186.9 870.1 163.5C870.1 140.1 870.1 113.1 870.1 88" fill="none" stroke="#8d9b86" stroke-width="30" stroke-linejoin="round" stroke-linecap="butt"/><path d="M788.6 81.2C789.5 100 790.1 118.8 791.2 137.6C792.3 156.5 793.9 179.5 795.1 194.6C796.3 209.7 798.4 219.4 798.4 228.2C798.4 237.1 802.5 240.2 795.1 247.6C785.2 257.6 758.2 274.6 739.4 287.8C720.6 300.9 695.6 315.8 682.5 326.6C669.3 337.4 665.2 343 660.5 352.5C655.7 362 655.2 369.7 654 383.5C652.8 397.3 652.6 422.4 653.5 435.3C654.3 448.2 655.4 454.2 659.2 461.2C662.9 468.2 666.9 473.9 676 477.2C685.1 480.5 700.4 480.1 713.5 481.1C726.7 482.1 742.4 482.6 754.9 483.2C767.5 483.7 777.4 484 788.6 484.5C783.4 470.7 776.7 454.3 773.1 443.1C769.4 431.8 766.8 425.4 766.6 417.2C766.4 409 767.2 399.8 771.8 393.9C776.3 388 786.2 384.1 793.8 381.7C801.3 379.3 808.9 379 817.1 379.7C825.3 380.3 835.4 381.3 842.9 385.6C850.5 389.9 858.7 398.5 862.4 405.5C866 412.5 866 418.7 864.9 427.5C863.9 436.4 857.6 448.9 855.9 458.6C854.2 468.3 855 476.7 854.6 485.8C868 485.1 879.4 484.3 894.7 483.7C910 483.1 933.7 483.3 946.5 481.9C959.2 480.5 964.7 481 971.1 475.4C977.4 469.8 981.9 461.4 984.8 448.2C987.7 435.1 988.7 412.4 988.4 396.5C988.1 380.5 986.2 365.4 982.7 352.5C979.2 339.5 974.1 327.9 967.2 318.8C960.3 309.8 953.4 305.5 941.3 298.1C929.2 290.8 906.3 281.5 894.7 274.8C883.1 268.1 876 265.8 871.9 258C867.8 250.2 870.4 244 870.1 228.2C869.8 212.5 870.1 186.9 870.1 163.5C870.1 140.1 870.1 113.1 870.1 88" fill="none" stroke="#b9c6b1" stroke-width="26.8" stroke-linejoin="round" stroke-linecap="butt"/></g>
<g><path d="M1313.5 23.9C1314.3 46.5 1314.9 70.3 1316 91.8C1317.1 113.3 1319.4 138.2 1320.3 152.9C1321.1 167.6 1327.4 173.7 1321.2 180.5C1315 187.2 1297 188.2 1282.9 193.3C1268.9 198.4 1251.3 203 1237.1 211.1C1222.8 219.1 1208 228.4 1197.3 241.6C1186.6 254.9 1178.5 272.2 1172.8 290.6C1167.1 308.9 1164.3 333.9 1163 351.8C1161.8 369.6 1162.5 385.7 1165.2 397.7C1167.8 409.6 1172.8 418.1 1178.9 423.7C1185.1 429.2 1189.6 429.6 1201.9 430.7C1214.1 431.8 1233.7 430.4 1252.4 430.4C1271 430.3 1296.7 430.5 1313.5 430.4C1330.4 430.3 1343.9 430.2 1353.3 429.8C1362.3 429.3 1364.5 428.3 1370.1 427.6C1366.8 415.6 1362.7 403.7 1360 391.5C1357.3 379.4 1352.5 365.5 1353.9 354.8C1355.3 344.1 1361 333.9 1368.6 327.3C1376.1 320.7 1388 317.1 1399.2 315.1C1410.4 313 1424.7 312.5 1435.9 315.1C1447.1 317.6 1458.8 323.7 1466.5 330.4C1474.1 337 1480.5 344.6 1481.8 354.8C1483 365 1479.7 379.6 1474.1 391.5C1468.5 403.5 1456.8 415 1448.1 426.7C1464.4 428.4 1479.7 430.2 1497.1 431.9C1514.4 433.6 1539.8 436.4 1552.1 436.8C1562.3 437.1 1565.9 440.9 1571.1 434.4C1576.3 427.8 1579.2 414 1583.3 397.7C1587.4 381.3 1594.1 356.9 1595.6 336.5C1597 316.1 1596.1 292.6 1591.9 275.3C1587.7 258 1581.2 243.7 1570.5 232.5C1559.8 221.3 1542.4 214.1 1527.7 208C1512.9 201.9 1495.3 199.3 1481.8 195.8C1468.3 192.2 1455 191.7 1446.6 186.6C1438.2 181.5 1434.4 175.9 1431.3 165.2C1428.2 154.5 1428.5 137.1 1428.2 122.4C1428 107.6 1429.1 92.7 1429.8 76.5C1430.4 60.3 1431.4 42.2 1432.2 25.1" fill="none" stroke="#7c7433" stroke-width="31" stroke-linejoin="round" stroke-linecap="butt"/><path d="M1313.5 23.9C1314.3 46.5 1314.9 70.3 1316 91.8C1317.1 113.3 1319.4 138.2 1320.3 152.9C1321.1 167.6 1327.4 173.7 1321.2 180.5C1315 187.2 1297 188.2 1282.9 193.3C1268.9 198.4 1251.3 203 1237.1 211.1C1222.8 219.1 1208 228.4 1197.3 241.6C1186.6 254.9 1178.5 272.2 1172.8 290.6C1167.1 308.9 1164.3 333.9 1163 351.8C1161.8 369.6 1162.5 385.7 1165.2 397.7C1167.8 409.6 1172.8 418.1 1178.9 423.7C1185.1 429.2 1189.6 429.6 1201.9 430.7C1214.1 431.8 1233.7 430.4 1252.4 430.4C1271 430.3 1296.7 430.5 1313.5 430.4C1330.4 430.3 1343.9 430.2 1353.3 429.8C1362.3 429.3 1364.5 428.3 1370.1 427.6C1366.8 415.6 1362.7 403.7 1360 391.5C1357.3 379.4 1352.5 365.5 1353.9 354.8C1355.3 344.1 1361 333.9 1368.6 327.3C1376.1 320.7 1388 317.1 1399.2 315.1C1410.4 313 1424.7 312.5 1435.9 315.1C1447.1 317.6 1458.8 323.7 1466.5 330.4C1474.1 337 1480.5 344.6 1481.8 354.8C1483 365 1479.7 379.6 1474.1 391.5C1468.5 403.5 1456.8 415 1448.1 426.7C1464.4 428.4 1479.7 430.2 1497.1 431.9C1514.4 433.6 1539.8 436.4 1552.1 436.8C1562.3 437.1 1565.9 440.9 1571.1 434.4C1576.3 427.8 1579.2 414 1583.3 397.7C1587.4 381.3 1594.1 356.9 1595.6 336.5C1597 316.1 1596.1 292.6 1591.9 275.3C1587.7 258 1581.2 243.7 1570.5 232.5C1559.8 221.3 1542.4 214.1 1527.7 208C1512.9 201.9 1495.3 199.3 1481.8 195.8C1468.3 192.2 1455 191.7 1446.6 186.6C1438.2 181.5 1434.4 175.9 1431.3 165.2C1428.2 154.5 1428.5 137.1 1428.2 122.4C1428 107.6 1429.1 92.7 1429.8 76.5C1430.4 60.3 1431.4 42.2 1432.2 25.1" fill="none" stroke="#b7ad4c" stroke-width="27.8" stroke-linejoin="round" stroke-linecap="butt"/></g>
<g><path d="M479.3 1076C479 1093.7 478.7 1112.2 478.4 1129.1C478.1 1145.9 478.3 1162.5 477.3 1177.1C476.3 1191.7 475.4 1205.3 472.2 1216.6C469 1227.9 466.6 1236.4 458.1 1244.9C449.6 1253.3 433.6 1258.5 421.4 1267.4C409.1 1276.4 395.5 1286.3 384.7 1298.5C373.9 1310.7 364 1324.4 356.4 1340.9C348.9 1357.3 343.5 1378.5 339.5 1397.3C335.5 1416.1 333.4 1440.6 332.4 1453.8C331.6 1465.8 331 1470.6 333.9 1476.4C336.7 1482.1 339 1487 349.4 1488.2C361.1 1489.6 387.7 1486.3 404.4 1484.8C421.1 1483.4 438.1 1481.2 449.6 1479.8C461.1 1478.4 465.6 1477.5 473.6 1476.4C473.1 1467 472.8 1459 472.2 1448.1C471.6 1437.3 468.1 1421.1 469.9 1411.4C471.8 1401.8 476.5 1395 483.5 1390.3C490.5 1385.6 502.3 1383.1 511.7 1383.2C521.1 1383.3 533.3 1386.4 540 1391.1C546.7 1395.8 550 1401 551.8 1411.4C553.6 1421.9 551 1443.1 550.7 1453.8C550.4 1464.5 550.1 1468.5 549.9 1475.8C567.3 1476.3 584 1476.7 602.1 1477.2C620.2 1477.8 641.4 1478.6 658.6 1479.2C675.7 1479.8 694.7 1483 705.1 1480.6C715.6 1478.3 718.2 1474.3 721.2 1465.1C724.3 1455.9 724.1 1439.2 723.5 1425.6C722.9 1411.9 720.7 1396.4 717.8 1383.2C715 1370 711.7 1357.3 706.6 1346.5C701.4 1335.7 695.7 1327.2 686.8 1318.3C677.8 1309.3 664.7 1299.4 652.9 1292.9C641.1 1286.3 626.6 1283.4 616.2 1278.7C605.8 1274 598.3 1270.7 590.8 1264.6C583.3 1258.5 575.5 1251 571 1242C566.6 1233.1 565.4 1222.7 564 1211C562.6 1199.2 562.7 1185.1 562.6 1171.4C562.4 1157.8 562.8 1144.1 563.1 1129.1C563.4 1114.1 563.9 1097.5 564.3 1081.7" fill="none" stroke="#5d857d" stroke-width="30" stroke-linejoin="round" stroke-linecap="butt"/><path d="M479.3 1076C479 1093.7 478.7 1112.2 478.4 1129.1C478.1 1145.9 478.3 1162.5 477.3 1177.1C476.3 1191.7 475.4 1205.3 472.2 1216.6C469 1227.9 466.6 1236.4 458.1 1244.9C449.6 1253.3 433.6 1258.5 421.4 1267.4C409.1 1276.4 395.5 1286.3 384.7 1298.5C373.9 1310.7 364 1324.4 356.4 1340.9C348.9 1357.3 343.5 1378.5 339.5 1397.3C335.5 1416.1 333.4 1440.6 332.4 1453.8C331.6 1465.8 331 1470.6 333.9 1476.4C336.7 1482.1 339 1487 349.4 1488.2C361.1 1489.6 387.7 1486.3 404.4 1484.8C421.1 1483.4 438.1 1481.2 449.6 1479.8C461.1 1478.4 465.6 1477.5 473.6 1476.4C473.1 1467 472.8 1459 472.2 1448.1C471.6 1437.3 468.1 1421.1 469.9 1411.4C471.8 1401.8 476.5 1395 483.5 1390.3C490.5 1385.6 502.3 1383.1 511.7 1383.2C521.1 1383.3 533.3 1386.4 540 1391.1C546.7 1395.8 550 1401 551.8 1411.4C553.6 1421.9 551 1443.1 550.7 1453.8C550.4 1464.5 550.1 1468.5 549.9 1475.8C567.3 1476.3 584 1476.7 602.1 1477.2C620.2 1477.8 641.4 1478.6 658.6 1479.2C675.7 1479.8 694.7 1483 705.1 1480.6C715.6 1478.3 718.2 1474.3 721.2 1465.1C724.3 1455.9 724.1 1439.2 723.5 1425.6C722.9 1411.9 720.7 1396.4 717.8 1383.2C715 1370 711.7 1357.3 706.6 1346.5C701.4 1335.7 695.7 1327.2 686.8 1318.3C677.8 1309.3 664.7 1299.4 652.9 1292.9C641.1 1286.3 626.6 1283.4 616.2 1278.7C605.8 1274 598.3 1270.7 590.8 1264.6C583.3 1258.5 575.5 1251 571 1242C566.6 1233.1 565.4 1222.7 564 1211C562.6 1199.2 562.7 1185.1 562.6 1171.4C562.4 1157.8 562.8 1144.1 563.1 1129.1C563.4 1114.1 563.9 1097.5 564.3 1081.7" fill="none" stroke="#84ada4" stroke-width="26.8" stroke-linejoin="round" stroke-linecap="butt"/></g>
<g><path d="M1249.4 1096.4C1247.3 1122.1 1245.2 1149.9 1242.9 1173.5C1240.7 1197.2 1237.9 1223.5 1235.7 1238.2C1233.8 1251.2 1240.5 1254.3 1230 1262C1218.3 1270.7 1186.9 1280.6 1165.3 1290C1143.7 1299.4 1116.5 1309.8 1100.6 1318.5C1084.7 1327.1 1077.3 1331.4 1070 1341.8C1062.8 1352.1 1060 1367.6 1057.1 1380.6C1054.2 1393.5 1052.4 1408.6 1052.7 1419.4C1053.1 1430.2 1055 1438 1059.2 1445.3C1063.4 1452.6 1068.8 1458.6 1077.8 1463.4C1086.9 1468.2 1101.1 1470.4 1113.5 1474.3C1126 1478.2 1141.6 1482.4 1152.4 1486.7C1163.1 1491 1169.6 1495.7 1178.2 1500.2C1175 1486.2 1170.6 1470.4 1168.4 1458.2C1166.2 1446.1 1164.1 1436.2 1165.3 1427.2C1166.5 1418.1 1170.5 1409.5 1175.6 1403.9C1180.8 1398.3 1188.2 1395.3 1196.4 1393.5C1204.6 1391.8 1215.8 1391.8 1224.8 1393.5C1233.9 1395.3 1243.8 1398.7 1250.7 1403.9C1257.6 1409.1 1264 1416.8 1266.2 1424.6C1268.5 1432.4 1267 1441.8 1264.2 1450.5C1261.4 1459.1 1253.2 1466.4 1249.4 1476.4C1245.7 1486.3 1244.2 1498.8 1241.6 1510C1250.7 1511 1260 1511.9 1268.8 1513.1C1277.7 1514.3 1281.8 1515.6 1294.7 1517.3C1307.6 1518.9 1334.9 1522.5 1346.5 1522.9C1356 1523.3 1358.9 1526.3 1364.1 1519.8C1369.3 1513.4 1373.6 1498.7 1377.5 1484.1C1381.5 1469.5 1386.6 1449.6 1387.9 1432.4C1389.2 1415.1 1388.7 1395.7 1385.3 1380.6C1381.8 1365.5 1375.8 1353.4 1367.2 1341.8C1358.6 1330.1 1343.8 1319 1333.5 1310.7C1323.3 1302.4 1311.1 1297.7 1305.6 1292.1C1300.1 1286.5 1300.1 1285.5 1300.4 1277.1C1300.7 1265.9 1304.3 1244.7 1307.6 1225.3C1311 1205.9 1317.3 1178.2 1320.6 1160.6C1323.9 1143 1325.3 1133.3 1327.6 1119.7" fill="none" stroke="#8d9b86" stroke-width="30" stroke-linejoin="round" stroke-linecap="butt"/><path d="M1249.4 1096.4C1247.3 1122.1 1245.2 1149.9 1242.9 1173.5C1240.7 1197.2 1237.9 1223.5 1235.7 1238.2C1233.8 1251.2 1240.5 1254.3 1230 1262C1218.3 1270.7 1186.9 1280.6 1165.3 1290C1143.7 1299.4 1116.5 1309.8 1100.6 1318.5C1084.7 1327.1 1077.3 1331.4 1070 1341.8C1062.8 1352.1 1060 1367.6 1057.1 1380.6C1054.2 1393.5 1052.4 1408.6 1052.7 1419.4C1053.1 1430.2 1055 1438 1059.2 1445.3C1063.4 1452.6 1068.8 1458.6 1077.8 1463.4C1086.9 1468.2 1101.1 1470.4 1113.5 1474.3C1126 1478.2 1141.6 1482.4 1152.4 1486.7C1163.1 1491 1169.6 1495.7 1178.2 1500.2C1175 1486.2 1170.6 1470.4 1168.4 1458.2C1166.2 1446.1 1164.1 1436.2 1165.3 1427.2C1166.5 1418.1 1170.5 1409.5 1175.6 1403.9C1180.8 1398.3 1188.2 1395.3 1196.4 1393.5C1204.6 1391.8 1215.8 1391.8 1224.8 1393.5C1233.9 1395.3 1243.8 1398.7 1250.7 1403.9C1257.6 1409.1 1264 1416.8 1266.2 1424.6C1268.5 1432.4 1267 1441.8 1264.2 1450.5C1261.4 1459.1 1253.2 1466.4 1249.4 1476.4C1245.7 1486.3 1244.2 1498.8 1241.6 1510C1250.7 1511 1260 1511.9 1268.8 1513.1C1277.7 1514.3 1281.8 1515.6 1294.7 1517.3C1307.6 1518.9 1334.9 1522.5 1346.5 1522.9C1356 1523.3 1358.9 1526.3 1364.1 1519.8C1369.3 1513.4 1373.6 1498.7 1377.5 1484.1C1381.5 1469.5 1386.6 1449.6 1387.9 1432.4C1389.2 1415.1 1388.7 1395.7 1385.3 1380.6C1381.8 1365.5 1375.8 1353.4 1367.2 1341.8C1358.6 1330.1 1343.8 1319 1333.5 1310.7C1323.3 1302.4 1311.1 1297.7 1305.6 1292.1C1300.1 1286.5 1300.1 1285.5 1300.4 1277.1C1300.7 1265.9 1304.3 1244.7 1307.6 1225.3C1311 1205.9 1317.3 1178.2 1320.6 1160.6C1323.9 1143 1325.3 1133.3 1327.6 1119.7" fill="none" stroke="#b9c6b1" stroke-width="26.8" stroke-linejoin="round" stroke-linecap="butt"/></g>
<g><path d="M1024 1019.4C1009.9 1032.7 995.8 1045.8 981.5 1059.4C967.2 1073 952.7 1087.1 938.3 1100.9C929.6 1094.7 921.6 1087.7 912.4 1082.1C903.1 1076.5 895.1 1070.7 882.7 1067.3C870.4 1063.9 853.9 1061.1 838.2 1061.9C822.6 1062.6 803.2 1066.8 788.8 1071.8C774.4 1076.7 761.2 1083.3 751.8 1091.5C742.4 1099.8 735.9 1113.1 732.5 1121.2C729.1 1129.2 727.9 1131.1 731.5 1139.7C735.1 1148.4 745.5 1161.7 754.2 1173.1C763 1184.4 773.5 1196.1 783.9 1207.6C794.3 1219.2 805.6 1230.7 816.5 1242.2C823.7 1230.7 831.3 1215.1 838.2 1207.6C845.2 1200.2 850.6 1198.6 858 1197.8C865.4 1196.9 874.9 1199 882.7 1202.7C890.5 1206.4 899.5 1213 904.9 1220C910.4 1227 914.9 1236.9 915.3 1244.7C915.7 1252.5 912 1261.9 907.4 1266.9C902.8 1272 893.8 1272.7 887.6 1274.8C881.5 1277 874.5 1277.2 870.4 1279.8C866.2 1282.4 862.5 1286 862.9 1290.4C863.4 1294.9 868.7 1298.9 872.8 1306.5C876.9 1314.1 883.1 1327.1 887.6 1336.1C892.2 1345.2 895.7 1355.5 900 1360.8C904.3 1366.2 907.4 1367.8 913.6 1368.2C919.8 1368.6 927 1367.4 937.1 1363.3C947.1 1359.2 962.6 1351.8 974.1 1343.5C985.6 1335.3 998.3 1325 1006.2 1313.9C1014.1 1302.8 1019.4 1290.4 1021.6 1276.8C1023.7 1263.2 1022 1245.9 1019.1 1232.4C1016.1 1218.8 1008.3 1205.6 1003.8 1195.3C999.2 1185 992.9 1177.6 991.9 1170.6C990.9 1163.6 992.3 1160.2 997.6 1153.3C1002.9 1146.4 1013.9 1136.8 1023.5 1129.1C1033.2 1121.3 1046.1 1113.2 1055.6 1106.8C1065.2 1100.5 1072.4 1096.3 1080.8 1091" fill="none" stroke="#7c7433" stroke-width="24" stroke-linejoin="round" stroke-linecap="butt"/><path d="M1024 1019.4C1009.9 1032.7 995.8 1045.8 981.5 1059.4C967.2 1073 952.7 1087.1 938.3 1100.9C929.6 1094.7 921.6 1087.7 912.4 1082.1C903.1 1076.5 895.1 1070.7 882.7 1067.3C870.4 1063.9 853.9 1061.1 838.2 1061.9C822.6 1062.6 803.2 1066.8 788.8 1071.8C774.4 1076.7 761.2 1083.3 751.8 1091.5C742.4 1099.8 735.9 1113.1 732.5 1121.2C729.1 1129.2 727.9 1131.1 731.5 1139.7C735.1 1148.4 745.5 1161.7 754.2 1173.1C763 1184.4 773.5 1196.1 783.9 1207.6C794.3 1219.2 805.6 1230.7 816.5 1242.2C823.7 1230.7 831.3 1215.1 838.2 1207.6C845.2 1200.2 850.6 1198.6 858 1197.8C865.4 1196.9 874.9 1199 882.7 1202.7C890.5 1206.4 899.5 1213 904.9 1220C910.4 1227 914.9 1236.9 915.3 1244.7C915.7 1252.5 912 1261.9 907.4 1266.9C902.8 1272 893.8 1272.7 887.6 1274.8C881.5 1277 874.5 1277.2 870.4 1279.8C866.2 1282.4 862.5 1286 862.9 1290.4C863.4 1294.9 868.7 1298.9 872.8 1306.5C876.9 1314.1 883.1 1327.1 887.6 1336.1C892.2 1345.2 895.7 1355.5 900 1360.8C904.3 1366.2 907.4 1367.8 913.6 1368.2C919.8 1368.6 927 1367.4 937.1 1363.3C947.1 1359.2 962.6 1351.8 974.1 1343.5C985.6 1335.3 998.3 1325 1006.2 1313.9C1014.1 1302.8 1019.4 1290.4 1021.6 1276.8C1023.7 1263.2 1022 1245.9 1019.1 1232.4C1016.1 1218.8 1008.3 1205.6 1003.8 1195.3C999.2 1185 992.9 1177.6 991.9 1170.6C990.9 1163.6 992.3 1160.2 997.6 1153.3C1002.9 1146.4 1013.9 1136.8 1023.5 1129.1C1033.2 1121.3 1046.1 1113.2 1055.6 1106.8C1065.2 1100.5 1072.4 1096.3 1080.8 1091" fill="none" stroke="#b7ad4c" stroke-width="20.8" stroke-linejoin="round" stroke-linecap="butt"/></g>
<circle cx="276.8" cy="434.3" r="6" fill="#84ada4" stroke="#5d857d" stroke-width="1"/>
<circle cx="272.3" cy="452.1" r="6" fill="#84ada4" stroke="#5d857d" stroke-width="1"/>
<circle cx="268.9" cy="472.5" r="6" fill="#84ada4" stroke="#5d857d" stroke-width="1"/>
<circle cx="284.5" cy="473.9" r="6" fill="#84ada4" stroke="#5d857d" stroke-width="1"/>
<circle cx="802.8" cy="413.3" r="5.8" fill="#a9b69f" stroke="#8d9b86" stroke-width="1"/>
<circle cx="825.6" cy="417.2" r="5.8" fill="#a9b69f" stroke="#8d9b86" stroke-width="1"/>
<circle cx="832.6" cy="435.3" r="5.8" fill="#a9b69f" stroke="#8d9b86" stroke-width="1"/>
<circle cx="805.4" cy="443.1" r="5.8" fill="#a9b69f" stroke="#8d9b86" stroke-width="1"/>
<circle cx="823.5" cy="450.8" r="5.8" fill="#a9b69f" stroke="#8d9b86" stroke-width="1"/>
<circle cx="829.5" cy="481.9" r="5.8" fill="#a9b69f" stroke="#8d9b86" stroke-width="1"/>
<circle cx="814.5" cy="501.3" r="5.8" fill="#a9b69f" stroke="#8d9b86" stroke-width="1"/>
<circle cx="832.6" cy="525.9" r="5.8" fill="#a9b69f" stroke="#8d9b86" stroke-width="1"/>
<circle cx="862.4" cy="529.8" r="5.8" fill="#a9b69f" stroke="#8d9b86" stroke-width="1"/>
<circle cx="791.2" cy="538.8" r="5.8" fill="#a9b69f" stroke="#8d9b86" stroke-width="1"/>
<circle cx="1416" cy="346.6" r="5.8" fill="#b7ad4c" stroke="#7c7433" stroke-width="1"/>
<circle cx="1401.6" cy="355.4" r="5.8" fill="#b7ad4c" stroke="#7c7433" stroke-width="1"/>
<circle cx="1415.1" cy="366.1" r="5.8" fill="#b7ad4c" stroke="#7c7433" stroke-width="1"/>
<circle cx="1399.2" cy="371.7" r="5.8" fill="#b7ad4c" stroke="#7c7433" stroke-width="1"/>
<circle cx="1412" cy="387" r="5.8" fill="#b7ad4c" stroke="#7c7433" stroke-width="1"/>
<g transform="translate(477.4 397.4) rotate(70) scale(1)"><path d="M-47.4 -22C-48.8 -24.8 -51.4 -27.6 -51.5 -30.4C-51.6 -33.1 -49.6 -36.1 -48.2 -38.6C-46.8 -41.1 -43.8 -43 -43.3 -45.2C-42.7 -47.5 -43.5 -50.4 -44.9 -52C-46.2 -53.7 -49.3 -54.1 -51.5 -55.2" fill="none" stroke="#7c2535" stroke-width="1.9" stroke-linecap="round" stroke-linejoin="round"/><path d="M-31.6 -22C-31.3 -24.8 -31.5 -28 -30.8 -30.4C-30.1 -32.7 -29 -35.2 -27.5 -36.2C-26 -37.2 -23.5 -36.8 -21.6 -36.2C-19.8 -35.6 -17.6 -35.1 -16.6 -32.7C-15.6 -30.4 -16.1 -25.6 -15.8 -22" fill="none" stroke="#7c2535" stroke-width="1.9" stroke-linecap="round" stroke-linejoin="round"/><path d="M0 -22C-0.3 -24.2 0.1 -26.7 -0.8 -28.6C-1.6 -30.6 -4.5 -32 -5.1 -33.7C-5.6 -35.4 -5.4 -37.9 -4.1 -38.6C-2.8 -39.3 0.1 -38.4 2.5 -37.8C5 -37.2 8.3 -36 10.7 -35.3C13.2 -34.6 16.4 -35.1 17.4 -33.7C18.4 -32.3 17 -29 16.6 -27.1C16.2 -25.1 15.5 -23.7 15 -22" fill="none" stroke="#7c2535" stroke-width="1.9" stroke-linecap="round" stroke-linejoin="round"/><path d="M31.6 -22C31.3 -24.8 30.5 -28.2 30.8 -30.4C31.1 -32.6 31.7 -34.7 33.2 -35.3C34.7 -35.8 37.7 -34.7 40 -33.7C42.2 -32.7 45.4 -31.4 46.6 -29.4C47.8 -27.5 47.1 -24.5 47.4 -22" fill="none" stroke="#7c2535" stroke-width="1.9" stroke-linecap="round" stroke-linejoin="round"/><path d="M-47.4 22C-47.7 23.7 -47.6 25.5 -48.2 27.1C-48.7 28.6 -50.8 30.3 -50.7 31.2C-50.6 32 -48.8 32.5 -47.4 32C-46 31.4 -44.1 28.5 -42.3 27.8C-40.6 27.2 -38.4 28.8 -36.7 27.8C-34.9 26.9 -33.3 23.9 -31.6 22" fill="none" stroke="#7c2535" stroke-width="1.9" stroke-linecap="round" stroke-linejoin="round"/><path d="M-15.8 22C-15.3 24.8 -15.2 27.5 -14.2 30.4C-13.2 33.3 -11.8 37.5 -10 39.4C-8.1 41.3 -5.5 42 -3.3 41.9C-1.1 41.8 2.3 40.5 3.3 38.6C4.3 36.7 2.9 33.1 2.5 30.4C2.1 27.6 1.4 24.8 0.8 22" fill="none" stroke="#7c2535" stroke-width="1.9" stroke-linecap="round" stroke-linejoin="round"/><path d="M15.8 22C16.1 23.7 15.6 26.2 16.6 27.1C17.6 27.9 20 27.2 21.6 27.1C23.3 26.9 25 26.1 26.5 26.1C28.1 26.1 30 27.7 30.8 27.1C31.7 26.4 31.3 23.7 31.6 22" fill="none" stroke="#7c2535" stroke-width="1.9" stroke-linecap="round" stroke-linejoin="round"/><path d="M47.4 22C47.7 24.8 47.6 27.9 48.2 30.4C48.7 32.9 50.7 34.8 50.7 37C50.7 39.2 49.4 41.9 48.2 43.6C47 45.4 44.9 46.4 43.3 47.8" fill="none" stroke="#7c2535" stroke-width="1.9" stroke-linecap="round" stroke-linejoin="round"/><rect x="-50.7" y="-22" width="6.6" height="44" rx="3" fill="#d24b5c" stroke="#a5323f" stroke-width="0.9"/><rect x="-34.9" y="-22" width="6.6" height="44" rx="3" fill="#d24b5c" stroke="#a5323f" stroke-width="0.9"/><rect x="-19.1" y="-22" width="6.6" height="44" rx="3" fill="#d24b5c" stroke="#a5323f" stroke-width="0.9"/><rect x="-3.3" y="-22" width="6.6" height="44" rx="3" fill="#d24b5c" stroke="#a5323f" stroke-width="0.9"/><rect x="12.5" y="-22" width="6.6" height="44" rx="3" fill="#d24b5c" stroke="#a5323f" stroke-width="0.9"/><rect x="28.3" y="-22" width="6.6" height="44" rx="3" fill="#d24b5c" stroke="#a5323f" stroke-width="0.9"/><rect x="44.1" y="-22" width="6.6" height="44" rx="3" fill="#d24b5c" stroke="#a5323f" stroke-width="0.9"/></g>
<g transform="translate(1267.7 433.8) rotate(0) scale(1)"><path d="M-47 -23C-48.3 -25.8 -50.9 -28.6 -51 -31.3C-51.1 -34 -49.1 -37 -47.7 -39.4C-46.4 -41.9 -43.4 -43.8 -42.9 -46C-42.3 -48.2 -43.1 -51.1 -44.4 -52.7C-45.8 -54.4 -48.8 -54.8 -51 -55.9" fill="none" stroke="#7c2535" stroke-width="1.9" stroke-linecap="round" stroke-linejoin="round"/><path d="M-31.3 -23C-31 -25.8 -31.2 -28.9 -30.5 -31.3C-29.8 -33.6 -28.7 -36.1 -27.2 -37.1C-25.7 -38.1 -23.2 -37.7 -21.4 -37.1C-19.6 -36.5 -17.4 -36 -16.4 -33.6C-15.5 -31.3 -15.9 -26.5 -15.7 -23" fill="none" stroke="#7c2535" stroke-width="1.9" stroke-linecap="round" stroke-linejoin="round"/><path d="M0 -23C-0.3 -25.2 0.1 -27.6 -0.8 -29.6C-1.6 -31.5 -4.5 -32.9 -5 -34.6C-5.6 -36.2 -5.3 -38.8 -4.1 -39.4C-2.8 -40.1 0.1 -39.2 2.5 -38.6C5 -38.1 8.2 -36.8 10.6 -36.1C13.1 -35.5 16.2 -35.9 17.2 -34.6C18.2 -33.2 16.8 -29.9 16.4 -28C16 -26.1 15.4 -24.7 14.9 -23" fill="none" stroke="#7c2535" stroke-width="1.9" stroke-linecap="round" stroke-linejoin="round"/><path d="M31.3 -23C31 -25.8 30.3 -29.1 30.5 -31.3C30.8 -33.5 31.4 -35.6 32.9 -36.1C34.4 -36.7 37.4 -35.5 39.6 -34.6C41.8 -33.6 44.9 -32.3 46.2 -30.4C47.4 -28.4 46.7 -25.5 47 -23" fill="none" stroke="#7c2535" stroke-width="1.9" stroke-linecap="round" stroke-linejoin="round"/><path d="M-47 23C-47.2 24.7 -47.2 26.5 -47.7 28C-48.3 29.5 -50.4 31.3 -50.2 32.1C-50.1 32.9 -48.3 33.4 -47 32.9C-45.6 32.3 -43.7 29.5 -41.9 28.8C-40.2 28.1 -38.1 29.8 -36.3 28.8C-34.5 27.8 -33 24.9 -31.3 23" fill="none" stroke="#7c2535" stroke-width="1.9" stroke-linecap="round" stroke-linejoin="round"/><path d="M-15.7 23C-15.1 25.8 -15.1 28.4 -14.1 31.3C-13.1 34.2 -11.7 38.3 -9.9 40.2C-8.1 42.1 -5.5 42.8 -3.3 42.7C-1.1 42.6 2.3 41.3 3.3 39.4C4.3 37.5 2.9 34 2.5 31.3C2.1 28.6 1.4 25.8 0.8 23" fill="none" stroke="#7c2535" stroke-width="1.9" stroke-linecap="round" stroke-linejoin="round"/><path d="M15.7 23C15.9 24.7 15.5 27.2 16.4 28C17.4 28.8 19.8 28.2 21.4 28C23.1 27.9 24.8 27.1 26.3 27.1C27.8 27.1 29.7 28.7 30.5 28C31.4 27.3 31 24.7 31.3 23" fill="none" stroke="#7c2535" stroke-width="1.9" stroke-linecap="round" stroke-linejoin="round"/><path d="M47 23C47.2 25.8 47.2 28.8 47.7 31.3C48.3 33.8 50.2 35.7 50.2 37.9C50.2 40.1 49 42.7 47.7 44.4C46.5 46.2 44.5 47.2 42.9 48.5" fill="none" stroke="#7c2535" stroke-width="1.9" stroke-linecap="round" stroke-linejoin="round"/><rect x="-50.6" y="-23" width="7.2" height="46" rx="3.3" fill="#d24b5c" stroke="#a5323f" stroke-width="0.9"/><rect x="-34.9" y="-23" width="7.2" height="46" rx="3.3" fill="#d24b5c" stroke="#a5323f" stroke-width="0.9"/><rect x="-19.2" y="-23" width="7.2" height="46" rx="3.3" fill="#d24b5c" stroke="#a5323f" stroke-width="0.9"/><rect x="-3.6" y="-23" width="7.2" height="46" rx="3.3" fill="#d24b5c" stroke="#a5323f" stroke-width="0.9"/><rect x="12.1" y="-23" width="7.2" height="46" rx="3.3" fill="#d24b5c" stroke="#a5323f" stroke-width="0.9"/><rect x="27.7" y="-23" width="7.2" height="46" rx="3.3" fill="#d24b5c" stroke="#a5323f" stroke-width="0.9"/><rect x="43.4" y="-23" width="7.2" height="46" rx="3.3" fill="#d24b5c" stroke="#a5323f" stroke-width="0.9"/></g>
<g transform="translate(1359.1 586.3) rotate(0) scale(1)"><path d="M-33.4 -17C-34.4 -19 -36.2 -21 -36.3 -22.9C-36.4 -24.8 -34.9 -26.9 -33.9 -28.7C-33 -30.4 -30.9 -31.8 -30.5 -33.4C-30.1 -34.9 -30.6 -37 -31.6 -38.1C-32.6 -39.3 -34.7 -39.6 -36.3 -40.4" fill="none" stroke="#2c5f70" stroke-width="1.6" stroke-linecap="round" stroke-linejoin="round"/><path d="M-22.3 -17C-22.1 -19 -22.2 -21.2 -21.7 -22.9C-21.2 -24.6 -20.4 -26.3 -19.4 -27C-18.3 -27.7 -16.5 -27.4 -15.2 -27C-14 -26.6 -12.4 -26.2 -11.7 -24.6C-11 -22.9 -11.3 -19.5 -11.1 -17" fill="none" stroke="#2c5f70" stroke-width="1.6" stroke-linecap="round" stroke-linejoin="round"/><path d="M0 -17C-0.2 -18.6 0 -20.3 -0.6 -21.7C-1.2 -23 -3.2 -24.1 -3.6 -25.2C-4 -26.4 -3.8 -28.2 -2.9 -28.7C-2 -29.2 0 -28.5 1.8 -28.1C3.5 -27.7 5.8 -26.8 7.6 -26.3C9.3 -25.9 11.6 -26.2 12.2 -25.2C12.9 -24.3 12 -21.9 11.7 -20.6C11.4 -19.2 10.9 -18.2 10.6 -17" fill="none" stroke="#2c5f70" stroke-width="1.6" stroke-linecap="round" stroke-linejoin="round"/><path d="M22.3 -17C22.1 -19 21.5 -21.3 21.7 -22.9C21.9 -24.5 22.3 -26 23.4 -26.3C24.4 -26.7 26.6 -25.9 28.2 -25.2C29.7 -24.5 32 -23.6 32.8 -22.2C33.7 -20.9 33.2 -18.7 33.4 -17" fill="none" stroke="#2c5f70" stroke-width="1.6" stroke-linecap="round" stroke-linejoin="round"/><path d="M-33.4 17C-33.6 18.2 -33.6 19.5 -33.9 20.6C-34.3 21.6 -35.8 22.9 -35.7 23.5C-35.6 24 -34.4 24.4 -33.4 24C-32.4 23.6 -31.1 21.6 -29.8 21.1C-28.6 20.6 -27.1 21.8 -25.8 21.1C-24.6 20.4 -23.4 18.4 -22.3 17" fill="none" stroke="#2c5f70" stroke-width="1.6" stroke-linecap="round" stroke-linejoin="round"/><path d="M-11.1 17C-10.8 19 -10.7 20.9 -10 22.9C-9.3 24.9 -8.3 27.9 -7 29.2C-5.7 30.6 -3.9 31.1 -2.3 31C-0.8 30.9 1.7 30 2.3 28.7C3 27.3 2.1 24.8 1.8 22.9C1.5 21 1 19 0.6 17" fill="none" stroke="#2c5f70" stroke-width="1.6" stroke-linecap="round" stroke-linejoin="round"/><path d="M11.1 17C11.3 18.2 11 20 11.7 20.6C12.4 21.2 14.1 20.7 15.2 20.6C16.4 20.5 17.6 19.9 18.7 19.9C19.8 19.9 21.1 21 21.7 20.6C22.3 20.1 22.1 18.2 22.3 17" fill="none" stroke="#2c5f70" stroke-width="1.6" stroke-linecap="round" stroke-linejoin="round"/><path d="M33.4 17C33.6 19 33.6 21.1 33.9 22.9C34.3 24.7 35.7 26 35.7 27.6C35.7 29.1 34.8 31 33.9 32.2C33.1 33.5 31.6 34.2 30.5 35.1" fill="none" stroke="#2c5f70" stroke-width="1.6" stroke-linecap="round" stroke-linejoin="round"/><rect x="-36.1" y="-17" width="5.4" height="34" rx="2.5" fill="#4aa5c0" stroke="#2f7f98" stroke-width="0.9"/><rect x="-25" y="-17" width="5.4" height="34" rx="2.5" fill="#4aa5c0" stroke="#2f7f98" stroke-width="0.9"/><rect x="-13.8" y="-17" width="5.4" height="34" rx="2.5" fill="#4aa5c0" stroke="#2f7f98" stroke-width="0.9"/><rect x="-2.7" y="-17" width="5.4" height="34" rx="2.5" fill="#4aa5c0" stroke="#2f7f98" stroke-width="0.9"/><rect x="8.4" y="-17" width="5.4" height="34" rx="2.5" fill="#4aa5c0" stroke="#2f7f98" stroke-width="0.9"/><rect x="19.6" y="-17" width="5.4" height="34" rx="2.5" fill="#4aa5c0" stroke="#2f7f98" stroke-width="0.9"/><rect x="30.7" y="-17" width="5.4" height="34" rx="2.5" fill="#4aa5c0" stroke="#2f7f98" stroke-width="0.9"/></g>
<g transform="translate(1444.1 588.2) rotate(0)"><path d="M-17.8 -33.5Q-17.8 -38.5 -12.8 -38.5L-8.5 -38.5A8.5 8.5 0 0 0 8.5 -38.5L12.8 -38.5Q17.8 -38.5 17.8 -33.5L17.8 33.5Q17.8 38.5 12.8 38.5L-12.8 38.5Q-17.8 38.5 -17.8 33.5Z" fill="url(#ga1)" stroke="#c4b23e" stroke-width="1.4"/><path d="M-8.5 -38.5A8.5 8.5 0 0 0 8.5 -38.5" fill="none" stroke="#b3a238" stroke-width="2.2"/></g>
<g transform="translate(834.6 641) rotate(0) scale(1)"><path d="M-42 -20C-43.2 -22.5 -45.5 -25 -45.6 -27.4C-45.8 -29.9 -43.9 -32.5 -42.7 -34.7C-41.5 -36.9 -38.9 -38.6 -38.4 -40.6C-37.9 -42.6 -38.5 -45.1 -39.8 -46.6C-41 -48.1 -43.7 -48.5 -45.6 -49.4" fill="none" stroke="#56683a" stroke-width="1.7" stroke-linecap="round" stroke-linejoin="round"/><path d="M-28 -20C-27.8 -22.5 -27.9 -25.3 -27.3 -27.4C-26.7 -29.5 -25.7 -31.7 -24.4 -32.6C-23 -33.5 -20.8 -33.1 -19.2 -32.6C-17.6 -32.1 -15.6 -31.6 -14.7 -29.5C-13.8 -27.4 -14.2 -23.2 -14 -20" fill="none" stroke="#56683a" stroke-width="1.7" stroke-linecap="round" stroke-linejoin="round"/><path d="M0 -20C-0.2 -22 0 -24.2 -0.7 -25.9C-1.4 -27.6 -4 -28.9 -4.5 -30.4C-5 -31.8 -4.8 -34.1 -3.6 -34.7C-2.5 -35.3 0 -34.5 2.2 -34C4.4 -33.5 7.3 -32.4 9.5 -31.8C11.7 -31.2 14.5 -31.6 15.4 -30.4C16.3 -29.1 15.1 -26.2 14.7 -24.5C14.4 -22.8 13.8 -21.5 13.3 -20" fill="none" stroke="#56683a" stroke-width="1.7" stroke-linecap="round" stroke-linejoin="round"/><path d="M28 -20C27.8 -22.5 27.1 -25.5 27.3 -27.4C27.5 -29.4 28 -31.3 29.4 -31.8C30.8 -32.2 33.4 -31.2 35.4 -30.4C37.4 -29.5 40.2 -28.3 41.3 -26.6C42.4 -24.9 41.8 -22.2 42 -20" fill="none" stroke="#56683a" stroke-width="1.7" stroke-linecap="round" stroke-linejoin="round"/><path d="M-42 20C-42.2 21.5 -42.2 23.1 -42.7 24.5C-43.2 25.8 -45.1 27.4 -44.9 28.1C-44.8 28.8 -43.2 29.3 -42 28.8C-40.8 28.3 -39.1 25.8 -37.5 25.2C-35.9 24.6 -34.1 26 -32.5 25.2C-30.9 24.3 -29.5 21.7 -28 20" fill="none" stroke="#56683a" stroke-width="1.7" stroke-linecap="round" stroke-linejoin="round"/><path d="M-14 20C-13.5 22.5 -13.5 24.9 -12.6 27.4C-11.7 30 -10.4 33.7 -8.8 35.4C-7.2 37.1 -4.9 37.8 -2.9 37.6C-1 37.5 2.1 36.4 2.9 34.7C3.8 33 2.6 29.9 2.2 27.4C1.9 25 1.2 22.5 0.7 20" fill="none" stroke="#56683a" stroke-width="1.7" stroke-linecap="round" stroke-linejoin="round"/><path d="M14 20C14.2 21.5 13.8 23.7 14.7 24.5C15.6 25.2 17.7 24.6 19.2 24.5C20.6 24.3 22.2 23.6 23.5 23.6C24.9 23.6 26.6 25.1 27.3 24.5C28 23.9 27.8 21.5 28 20" fill="none" stroke="#56683a" stroke-width="1.7" stroke-linecap="round" stroke-linejoin="round"/><path d="M42 20C42.2 22.5 42.2 25.2 42.7 27.4C43.2 29.6 44.9 31.3 44.9 33.3C44.9 35.3 43.8 37.6 42.7 39.2C41.6 40.8 39.8 41.6 38.4 42.8" fill="none" stroke="#56683a" stroke-width="1.7" stroke-linecap="round" stroke-linejoin="round"/><rect x="-45.3" y="-20" width="6.6" height="40" rx="3" fill="#90c04a" stroke="#5f8c2c" stroke-width="0.9"/><rect x="-44.7" y="-18.5" width="2.5" height="37" rx="1.3" fill="#b5d878"/><rect x="-31.3" y="-20" width="6.6" height="40" rx="3" fill="#90c04a" stroke="#5f8c2c" stroke-width="0.9"/><rect x="-30.7" y="-18.5" width="2.5" height="37" rx="1.3" fill="#b5d878"/><rect x="-17.3" y="-20" width="6.6" height="40" rx="3" fill="#90c04a" stroke="#5f8c2c" stroke-width="0.9"/><rect x="-16.7" y="-18.5" width="2.5" height="37" rx="1.3" fill="#b5d878"/><rect x="-3.3" y="-20" width="6.6" height="40" rx="3" fill="#90c04a" stroke="#5f8c2c" stroke-width="0.9"/><rect x="-2.7" y="-18.5" width="2.5" height="37" rx="1.3" fill="#b5d878"/><rect x="10.7" y="-20" width="6.6" height="40" rx="3" fill="#90c04a" stroke="#5f8c2c" stroke-width="0.9"/><rect x="11.3" y="-18.5" width="2.5" height="37" rx="1.3" fill="#b5d878"/><rect x="24.7" y="-20" width="6.6" height="40" rx="3" fill="#90c04a" stroke="#5f8c2c" stroke-width="0.9"/><rect x="25.3" y="-18.5" width="2.5" height="37" rx="1.3" fill="#b5d878"/><rect x="38.7" y="-20" width="6.6" height="40" rx="3" fill="#90c04a" stroke="#5f8c2c" stroke-width="0.9"/><rect x="39.3" y="-18.5" width="2.5" height="37" rx="1.3" fill="#b5d878"/></g>
<g stroke="#cb4b5b" stroke-width="14" stroke-linecap="butt"><path d="M249.2 485.7L308.4 544.9"/><path d="M308.4 485.7L249.2 544.9"/></g>
<path d="M271.8 508.3L285.8 522.3" stroke="#b8404f" stroke-width="14" opacity="0.35"/>
<g stroke="#cb4b5b" stroke-width="14" stroke-linecap="butt"><path d="M1378.8 417.8L1438 477"/><path d="M1438 417.8L1378.8 477"/></g>
<path d="M1401.4 440.4L1415.4 454.4" stroke="#b8404f" stroke-width="14" opacity="0.35"/>
<path d="M276.5 588.4C290.6 587.4 299 590.4 300 605.1C300.5 620.3 293.9 630.2 295.3 647.7C296.2 662.4 290.6 664.9 286.8 664.4C280.3 664.4 277.9 661.4 276.5 659.4C275.1 661.4 272.7 664.4 266.2 664.4C262.4 664.9 256.8 662.4 257.7 647.7C259.1 630.2 252.5 620.3 253 605.1C254 590.4 262.4 587.4 276.5 588.4Z" fill="#d98a6b" stroke="#b96b50" stroke-width="1.2"/>
<path d="M262.4 598.3Q276.5 595.2 290.6 598.3Q281.2 608.9 277.7 632.5L275.3 632.5Q271.8 608.9 262.4 598.3Q262.4 598.3 262.4 598.3Z" fill="#a9533b"/>
<path d="M276.5 626.4L276.5 659.4" stroke="#a9533b" stroke-width="1.4"/>
<path d="M261 593.7Q257.7 591.4 262.4 589.9" fill="none" stroke="#c47a5e" stroke-width="1.2"/>
<rect x="661" y="634.3" width="62.2" height="40.4" rx="4.5" fill="#c6a2d2" stroke="#8d6a9d" stroke-width="1.3"/>
<text x="665.6" y="662.5" font-family="'DejaVu Sans Condensed','Liberation Sans',sans-serif" font-weight="bold" font-size="22.5" fill="#27292b" textLength="53.6" lengthAdjust="spacingAndGlyphs">DAGL</text>
<rect x="725.9" y="625.8" width="62.1" height="40.3" rx="4.5" fill="#ece16b" stroke="#cfc44d" stroke-width="1.3"/>
<text x="738.1" y="652.7" font-family="'DejaVu Sans Condensed','Liberation Sans',sans-serif" font-weight="bold" font-size="22.5" fill="#27292b" textLength="37.7" lengthAdjust="spacingAndGlyphs">PLC</text>
<rect x="882.2" y="633.4" width="61.8" height="39.8" rx="4.5" fill="#ece16b" stroke="#cfc44d" stroke-width="1.3"/>
<text x="894.4" y="660.3" font-family="'DejaVu Sans Condensed','Liberation Sans',sans-serif" font-weight="bold" font-size="22.5" fill="#27292b" textLength="36.8" lengthAdjust="spacingAndGlyphs">PLC</text>
<rect x="946.1" y="634.3" width="62.1" height="41.3" rx="4.5" fill="#c6a2d2" stroke="#8d6a9d" stroke-width="1.3"/>
<text x="950.1" y="661.9" font-family="'DejaVu Sans Condensed','Liberation Sans',sans-serif" font-weight="bold" font-size="22.5" fill="#27292b" textLength="53.5" lengthAdjust="spacingAndGlyphs">DAGL</text>
<path d="M623.5 648.8C615.7 636.5 606.9 625 600 612C593.1 599 588.1 584.3 582.4 570.6C576.7 556.9 570.1 541.6 566 530C561.9 518.4 559.1 506.5 557.5 501C556.9 499 556.8 498.4 556.5 497.1" fill="none" stroke="#2b2b2b" stroke-width="7.8" stroke-linecap="butt"/>
<path d="M551.2 477.5L570.8 498.6L544.8 505.6Z" fill="#2b2b2b"/>
<path d="M1042.5 627.5C1053.3 619.3 1063.8 612.2 1075 603C1086.2 593.8 1100.8 580.8 1110 572C1119.2 563.2 1123.9 558 1130 550C1136.1 542 1143.4 528.9 1146.5 524C1147.7 522.2 1148 521.8 1148.8 520.7" fill="none" stroke="#2b2b2b" stroke-width="7.8" stroke-linecap="butt"/>
<path d="M1161.5 502.2L1158.2 530.9L1135.9 515.6Z" fill="#2b2b2b"/>
<circle cx="638.1" cy="670.1" r="23.3" fill="#dfe3f7"/>
<circle cx="638.1" cy="670.1" r="22" fill="url(#sg2)"/>
<circle cx="630.2" cy="662.2" r="5.7" fill="#3fb4d6"/>
<circle cx="1032.7" cy="653.3" r="23.3" fill="#dfe3f7"/>
<circle cx="1032.7" cy="653.3" r="22" fill="url(#sg3)"/>
<circle cx="1024.8" cy="645.4" r="5.7" fill="#3fb4d6"/>
<circle cx="550.1" cy="453.2" r="22.8" fill="#dfe3f7"/>
<circle cx="550.1" cy="453.2" r="21.5" fill="url(#sg4)"/>
<circle cx="542.4" cy="445.5" r="5.6" fill="#3fb4d6"/>
<circle cx="1162.4" cy="475.1" r="23.2" fill="#dfe3f7"/>
<circle cx="1162.4" cy="475.1" r="21.9" fill="url(#sg5)"/>
<circle cx="1154.5" cy="467.2" r="5.7" fill="#3fb4d6"/>
<circle cx="814" cy="731.3" r="13.8" fill="url(#sg6)"/>
<circle cx="809" cy="726.3" r="3.6" fill="#c9e38c"/>
<text x="160.7" y="584" font-family="'DejaVu Sans Condensed','Liberation Sans',sans-serif" font-weight="bold" font-size="41" fill="#27292b" textLength="66.8" lengthAdjust="spacingAndGlyphs">Glu</text>
<text x="312.8" y="642.6" font-family="'DejaVu Sans Condensed','Liberation Sans',sans-serif" font-weight="bold" font-size="41" fill="#27292b" textLength="106.7" lengthAdjust="spacingAndGlyphs">iGluR</text>
<text x="196.5" y="733.3" font-family="'DejaVu Sans Condensed','Liberation Sans',sans-serif" font-weight="bold" font-size="41" fill="#27292b" textLength="137.4" lengthAdjust="spacingAndGlyphs">mEPSP</text>
<text x="600.9" y="543.5" font-family="'DejaVu Sans Condensed','Liberation Sans',sans-serif" font-weight="bold" font-size="41" fill="#27292b" textLength="156.5" lengthAdjust="spacingAndGlyphs">orexina</text>
<text x="1469.8" y="527.1" font-family="'DejaVu Sans Condensed','Liberation Sans',sans-serif" font-weight="bold" font-size="41" fill="#27292b" textLength="114.8" lengthAdjust="spacingAndGlyphs">GABA</text>
<text x="1297.5" y="733.2" font-family="'DejaVu Sans Condensed','Liberation Sans',sans-serif" font-weight="bold" font-size="41" fill="#27292b" textLength="134.6" lengthAdjust="spacingAndGlyphs">mEPSP</text>
<text x="85.4" y="961.4" font-family="'DejaVu Sans Condensed','Liberation Sans',sans-serif" font-weight="bold" font-size="36" fill="#27292b" textLength="18.4" lengthAdjust="spacingAndGlyphs">a</text>
<path d="M351.8 703.2L351.8 733.9" stroke="#27292b" stroke-width="1.8"/><path d="M351.8 739.9L347.2 730.9L356.4 730.9Z" fill="#27292b"/>
<path d="M1451.5 703.1L1451.5 734.7" stroke="#27292b" stroke-width="1.8"/><path d="M1451.5 740.7L1446.9 731.7L1456.1 731.7Z" fill="#27292b"/>
<text x="403.3" y="437.6" font-family="'DejaVu Sans Condensed','Liberation Sans',sans-serif" font-weight="bold" font-size="20.5" fill="#27292b" textLength="36" lengthAdjust="spacingAndGlyphs">CB1</text>
<text x="566.4" y="429.9" font-family="'DejaVu Sans Condensed','Liberation Sans',sans-serif" font-weight="bold" font-size="20.5" fill="#27292b" textLength="45.8" lengthAdjust="spacingAndGlyphs">2-AG</text>
<text x="606" y="714.5" font-family="'DejaVu Sans Condensed','Liberation Sans',sans-serif" font-weight="bold" font-size="20.5" fill="#27292b" textLength="46.8" lengthAdjust="spacingAndGlyphs">2-AG</text>
<text x="814.9" y="697.6" font-family="'DejaVu Sans Condensed','Liberation Sans',sans-serif" font-weight="bold" font-size="20.5" fill="#27292b" textLength="29.7" lengthAdjust="spacingAndGlyphs">OX</text>
<text x="845.5" y="705.3" font-family="'DejaVu Sans Condensed','Liberation Sans',sans-serif" font-weight="bold" font-size="11.5" fill="#27292b" textLength="17.5" lengthAdjust="spacingAndGlyphs">1/2</text>
<text x="833.3" y="739" font-family="'DejaVu Sans Condensed','Liberation Sans',sans-serif" font-weight="bold" font-size="20.5" fill="#27292b" textLength="12.2" lengthAdjust="spacingAndGlyphs">G</text>
<text x="847.6" y="744.5" font-family="'DejaVu Sans Condensed','Liberation Sans',sans-serif" font-weight="bold" font-size="11.5" fill="#27292b" textLength="6.2" lengthAdjust="spacingAndGlyphs">q</text>
<text x="1012.8" y="698.3" font-family="'DejaVu Sans Condensed','Liberation Sans',sans-serif" font-weight="bold" font-size="20.5" fill="#27292b" textLength="46.8" lengthAdjust="spacingAndGlyphs">2-AG</text>
<text x="1090.7" y="457.3" font-family="'DejaVu Sans Condensed','Liberation Sans',sans-serif" font-weight="bold" font-size="20.5" fill="#27292b" textLength="46.1" lengthAdjust="spacingAndGlyphs">2-AG</text>
<text x="1230.7" y="386.1" font-family="'DejaVu Sans Condensed','Liberation Sans',sans-serif" font-weight="bold" font-size="20.5" fill="#27292b" textLength="36.2" lengthAdjust="spacingAndGlyphs">CB1</text>
<text x="1329.5" y="650.4" font-family="'DejaVu Sans Condensed','Liberation Sans',sans-serif" font-weight="bold" font-size="20.5" fill="#27292b" textLength="54.6" lengthAdjust="spacingAndGlyphs">GABA</text>
<text x="1386.9" y="657.9" font-family="'DejaVu Sans Condensed','Liberation Sans',sans-serif" font-weight="bold" font-size="10" fill="#27292b" textLength="6.6" lengthAdjust="spacingAndGlyphs">B</text>
<text x="1412" y="650.4" font-family="'DejaVu Sans Condensed','Liberation Sans',sans-serif" font-weight="bold" font-size="20.5" fill="#27292b" textLength="54" lengthAdjust="spacingAndGlyphs">GABA</text>
<text x="1468.8" y="657.9" font-family="'DejaVu Sans Condensed','Liberation Sans',sans-serif" font-weight="bold" font-size="10" fill="#27292b" textLength="9.4" lengthAdjust="spacingAndGlyphs">A</text>
<circle cx="497.5" cy="1416" r="5.8" fill="#84ada4" stroke="#5d857d" stroke-width="1"/>
<circle cx="525" cy="1417" r="5.8" fill="#84ada4" stroke="#5d857d" stroke-width="1"/>
<circle cx="496.5" cy="1440" r="5.8" fill="#84ada4" stroke="#5d857d" stroke-width="1"/>
<circle cx="518.5" cy="1445" r="5.8" fill="#84ada4" stroke="#5d857d" stroke-width="1"/>
<circle cx="523" cy="1468" r="5.8" fill="#84ada4" stroke="#5d857d" stroke-width="1"/>
<circle cx="505" cy="1485" r="5.8" fill="#84ada4" stroke="#5d857d" stroke-width="1"/>
<circle cx="534" cy="1500" r="5.8" fill="#84ada4" stroke="#5d857d" stroke-width="1"/>
<circle cx="483" cy="1528" r="5.8" fill="#84ada4" stroke="#5d857d" stroke-width="1"/>
<circle cx="516" cy="1525" r="5.8" fill="#84ada4" stroke="#5d857d" stroke-width="1"/>
<circle cx="542" cy="1522" r="5.8" fill="#84ada4" stroke="#5d857d" stroke-width="1"/>
<circle cx="495" cy="1557.5" r="5.8" fill="#84ada4" stroke="#5d857d" stroke-width="1"/>
<circle cx="523" cy="1554" r="5.8" fill="#84ada4" stroke="#5d857d" stroke-width="1"/>
<circle cx="550" cy="1570" r="5.8" fill="#84ada4" stroke="#5d857d" stroke-width="1"/>
<circle cx="500" cy="1576" r="5.8" fill="#84ada4" stroke="#5d857d" stroke-width="1"/>
<circle cx="1198.9" cy="1431.1" r="5.8" fill="#a9b69f" stroke="#8d9b86" stroke-width="1"/>
<circle cx="1226.9" cy="1442.7" r="5.8" fill="#a9b69f" stroke="#8d9b86" stroke-width="1"/>
<circle cx="1215" cy="1478.9" r="5.8" fill="#a9b69f" stroke="#8d9b86" stroke-width="1"/>
<circle cx="1193.2" cy="1508.7" r="5.8" fill="#a9b69f" stroke="#8d9b86" stroke-width="1"/>
<circle cx="1220.9" cy="1520.4" r="5.8" fill="#a9b69f" stroke="#8d9b86" stroke-width="1"/>
<circle cx="1248.1" cy="1537.2" r="5.8" fill="#a9b69f" stroke="#8d9b86" stroke-width="1"/>
<circle cx="1192" cy="1542.4" r="5.8" fill="#a9b69f" stroke="#8d9b86" stroke-width="1"/>
<circle cx="1220.9" cy="1542.4" r="5.8" fill="#a9b69f" stroke="#8d9b86" stroke-width="1"/>
<circle cx="1261.1" cy="1559.7" r="5.8" fill="#a9b69f" stroke="#8d9b86" stroke-width="1"/>
<circle cx="868.2" cy="1218.8" r="5.6" fill="#b7ad4c" stroke="#7c7433" stroke-width="1"/>
<circle cx="881.8" cy="1246.5" r="5.6" fill="#b7ad4c" stroke="#7c7433" stroke-width="1"/>
<circle cx="859.4" cy="1262.9" r="5.6" fill="#b7ad4c" stroke="#7c7433" stroke-width="1"/>
<g transform="translate(687.8 1316.5) rotate(67) scale(1)"><path d="M-36 -15.5C-37 -17.6 -39 -19.8 -39.1 -21.9C-39.2 -24 -37.6 -26.2 -36.6 -28.1C-35.6 -30 -33.3 -31.4 -32.9 -33.1C-32.5 -34.8 -33 -37 -34.1 -38.3C-35.1 -39.6 -37.4 -39.9 -39.1 -40.7" fill="none" stroke="#2c6a7c" stroke-width="1.2" stroke-linecap="round" stroke-linejoin="round"/><path d="M-24 -15.5C-23.8 -17.6 -23.9 -20.1 -23.4 -21.9C-22.9 -23.7 -22 -25.6 -20.9 -26.3C-19.7 -27 -17.8 -26.7 -16.4 -26.3C-15.1 -25.9 -13.3 -25.5 -12.6 -23.7C-11.9 -21.9 -12.2 -18.2 -12 -15.5" fill="none" stroke="#2c6a7c" stroke-width="1.2" stroke-linecap="round" stroke-linejoin="round"/><path d="M0 -15.5C-0.2 -17.2 0 -19.1 -0.6 -20.5C-1.2 -22 -3.4 -23.1 -3.8 -24.4C-4.3 -25.6 -4.1 -27.6 -3.1 -28.1C-2.2 -28.6 0 -27.9 1.9 -27.5C3.8 -27.1 6.3 -26.1 8.2 -25.6C10 -25.1 12.5 -25.4 13.2 -24.4C13.9 -23.3 12.9 -20.8 12.6 -19.3C12.3 -17.9 11.8 -16.8 11.4 -15.5" fill="none" stroke="#2c6a7c" stroke-width="1.2" stroke-linecap="round" stroke-linejoin="round"/><path d="M24 -15.5C23.8 -17.6 23.2 -20.2 23.4 -21.9C23.6 -23.5 24 -25.2 25.2 -25.6C26.4 -26 28.7 -25.1 30.4 -24.4C32.1 -23.6 34.5 -22.6 35.4 -21.1C36.3 -19.7 35.8 -17.4 36 -15.5" fill="none" stroke="#2c6a7c" stroke-width="1.2" stroke-linecap="round" stroke-linejoin="round"/><path d="M-36 15.5C-36.2 16.8 -36.2 18.2 -36.6 19.3C-37 20.5 -38.6 21.8 -38.5 22.5C-38.4 23.1 -37.1 23.5 -36 23.1C-34.9 22.6 -33.5 20.5 -32.2 19.9C-30.8 19.4 -29.2 20.7 -27.8 19.9C-26.5 19.2 -25.3 17 -24 15.5" fill="none" stroke="#2c6a7c" stroke-width="1.2" stroke-linecap="round" stroke-linejoin="round"/><path d="M-12 15.5C-11.6 17.6 -11.5 19.7 -10.8 21.9C-10.1 24.1 -8.9 27.2 -7.6 28.7C-6.2 30.2 -4.2 30.7 -2.5 30.6C-0.8 30.5 1.8 29.6 2.5 28.1C3.3 26.6 2.2 24 1.9 21.9C1.6 19.8 1 17.6 0.6 15.5" fill="none" stroke="#2c6a7c" stroke-width="1.2" stroke-linecap="round" stroke-linejoin="round"/><path d="M12 15.5C12.2 16.8 11.9 18.7 12.6 19.3C13.3 20 15.2 19.5 16.4 19.3C17.7 19.2 19 18.6 20.2 18.6C21.3 18.6 22.8 19.9 23.4 19.3C24 18.8 23.8 16.8 24 15.5" fill="none" stroke="#2c6a7c" stroke-width="1.2" stroke-linecap="round" stroke-linejoin="round"/><path d="M36 15.5C36.2 17.6 36.2 20 36.6 21.9C37 23.8 38.5 25.2 38.5 26.9C38.5 28.6 37.5 30.6 36.6 31.9C35.7 33.3 34.1 34 32.9 35.1" fill="none" stroke="#2c6a7c" stroke-width="1.2" stroke-linecap="round" stroke-linejoin="round"/><rect x="-38.2" y="-15.5" width="4.4" height="31" rx="2" fill="#4aa5c0" stroke="#2f7f98" stroke-width="0.9"/><rect x="-26.2" y="-15.5" width="4.4" height="31" rx="2" fill="#4aa5c0" stroke="#2f7f98" stroke-width="0.9"/><rect x="-14.2" y="-15.5" width="4.4" height="31" rx="2" fill="#4aa5c0" stroke="#2f7f98" stroke-width="0.9"/><rect x="-2.2" y="-15.5" width="4.4" height="31" rx="2" fill="#4aa5c0" stroke="#2f7f98" stroke-width="0.9"/><rect x="9.8" y="-15.5" width="4.4" height="31" rx="2" fill="#4aa5c0" stroke="#2f7f98" stroke-width="0.9"/><rect x="21.8" y="-15.5" width="4.4" height="31" rx="2" fill="#4aa5c0" stroke="#2f7f98" stroke-width="0.9"/><rect x="33.8" y="-15.5" width="4.4" height="31" rx="2" fill="#4aa5c0" stroke="#2f7f98" stroke-width="0.9"/></g>
<g transform="translate(717.6 1380.8) rotate(66.3)"><path d="M-16.2 -30Q-16.2 -35 -11.2 -35L-7.5 -35A7.5 7.5 0 0 0 7.5 -35L11.2 -35Q16.2 -35 16.2 -30L16.2 30Q16.2 35 11.2 35L-11.2 35Q-16.2 35 -16.2 30Z" fill="url(#ga7)" stroke="#c4b23e" stroke-width="1.4"/><path d="M-7.5 -35A7.5 7.5 0 0 0 7.5 -35" fill="none" stroke="#b3a238" stroke-width="2.2"/></g>
<g transform="translate(884.7 1333.5) rotate(63) scale(1)"><path d="M-30.9 -13.8C-31.8 -15.6 -33.5 -17.4 -33.6 -19.2C-33.7 -21 -32.3 -23 -31.4 -24.6C-30.5 -26.2 -28.6 -27.4 -28.2 -28.9C-27.9 -30.4 -28.4 -32.2 -29.3 -33.3C-30.1 -34.4 -32.1 -34.7 -33.6 -35.4" fill="none" stroke="#8d2b3c" stroke-width="1.1" stroke-linecap="round" stroke-linejoin="round"/><path d="M-20.6 -13.8C-20.4 -15.6 -20.5 -17.7 -20.1 -19.2C-19.6 -20.8 -18.9 -22.4 -17.9 -23C-16.9 -23.7 -15.3 -23.4 -14.1 -23C-12.9 -22.6 -11.5 -22.3 -10.8 -20.8C-10.2 -19.2 -10.5 -16.1 -10.3 -13.8" fill="none" stroke="#8d2b3c" stroke-width="1.1" stroke-linecap="round" stroke-linejoin="round"/><path d="M0 -13.8C-0.2 -15.2 0 -16.8 -0.5 -18.1C-1.1 -19.3 -2.9 -20.3 -3.3 -21.4C-3.7 -22.5 -3.5 -24.1 -2.7 -24.6C-1.9 -25 0 -24.4 1.6 -24.1C3.3 -23.7 5.4 -22.8 7 -22.4C8.6 -22 10.7 -22.3 11.3 -21.4C12 -20.5 11.1 -18.3 10.8 -17C10.6 -15.8 10.1 -14.8 9.8 -13.8" fill="none" stroke="#8d2b3c" stroke-width="1.1" stroke-linecap="round" stroke-linejoin="round"/><path d="M20.6 -13.8C20.4 -15.6 19.9 -17.8 20.1 -19.2C20.3 -20.7 20.6 -22 21.6 -22.4C22.6 -22.8 24.6 -22 26.1 -21.4C27.5 -20.7 29.6 -19.9 30.4 -18.6C31.2 -17.3 30.7 -15.4 30.9 -13.8" fill="none" stroke="#8d2b3c" stroke-width="1.1" stroke-linecap="round" stroke-linejoin="round"/><path d="M-30.9 13.8C-31.1 14.8 -31.1 16.1 -31.4 17C-31.8 18 -33.1 19.2 -33.1 19.7C-33 20.3 -31.8 20.6 -30.9 20.2C-30 19.9 -28.8 18 -27.6 17.6C-26.4 17.1 -25.1 18.2 -23.9 17.6C-22.7 16.9 -21.7 15 -20.6 13.8" fill="none" stroke="#8d2b3c" stroke-width="1.1" stroke-linecap="round" stroke-linejoin="round"/><path d="M-10.3 13.8C-10 15.6 -9.9 17.3 -9.3 19.2C-8.6 21.1 -7.7 23.8 -6.5 25.1C-5.3 26.3 -3.6 26.8 -2.2 26.7C-0.7 26.6 1.5 25.8 2.2 24.6C2.8 23.3 1.9 21 1.6 19.2C1.4 17.4 0.9 15.6 0.5 13.8" fill="none" stroke="#8d2b3c" stroke-width="1.1" stroke-linecap="round" stroke-linejoin="round"/><path d="M10.3 13.8C10.5 14.8 10.2 16.5 10.8 17C11.5 17.6 13 17.1 14.1 17C15.2 16.9 16.3 16.4 17.3 16.4C18.3 16.4 19.5 17.5 20.1 17C20.6 16.6 20.4 14.8 20.6 13.8" fill="none" stroke="#8d2b3c" stroke-width="1.1" stroke-linecap="round" stroke-linejoin="round"/><path d="M30.9 13.8C31.1 15.6 31.1 17.6 31.4 19.2C31.8 20.8 33.1 22.1 33.1 23.5C33.1 25 32.2 26.7 31.4 27.9C30.6 29 29.3 29.6 28.2 30.5" fill="none" stroke="#8d2b3c" stroke-width="1.1" stroke-linecap="round" stroke-linejoin="round"/><rect x="-32.7" y="-13.8" width="3.6" height="27.5" rx="1.6" fill="#d64a5c" stroke="#b8363f" stroke-width="0.9"/><rect x="-32.1" y="-12.2" width="1.4" height="24.5" rx="0.7" fill="#e8893c"/><rect x="-22.4" y="-13.8" width="3.6" height="27.5" rx="1.6" fill="#d64a5c" stroke="#b8363f" stroke-width="0.9"/><rect x="-21.8" y="-12.2" width="1.4" height="24.5" rx="0.7" fill="#e8893c"/><rect x="-12.1" y="-13.8" width="3.6" height="27.5" rx="1.6" fill="#d64a5c" stroke="#b8363f" stroke-width="0.9"/><rect x="-11.5" y="-12.2" width="1.4" height="24.5" rx="0.7" fill="#e8893c"/><rect x="-1.8" y="-13.8" width="3.6" height="27.5" rx="1.6" fill="#d64a5c" stroke="#b8363f" stroke-width="0.9"/><rect x="-1.2" y="-12.2" width="1.4" height="24.5" rx="0.7" fill="#e8893c"/><rect x="8.5" y="-13.8" width="3.6" height="27.5" rx="1.6" fill="#d64a5c" stroke="#b8363f" stroke-width="0.9"/><rect x="9.1" y="-12.2" width="1.4" height="24.5" rx="0.7" fill="#e8893c"/><rect x="18.8" y="-13.8" width="3.6" height="27.5" rx="1.6" fill="#d64a5c" stroke="#b8363f" stroke-width="0.9"/><rect x="19.4" y="-12.2" width="1.4" height="24.5" rx="0.7" fill="#e8893c"/><rect x="29.1" y="-13.8" width="3.6" height="27.5" rx="1.6" fill="#d64a5c" stroke="#b8363f" stroke-width="0.9"/><rect x="29.7" y="-12.2" width="1.4" height="24.5" rx="0.7" fill="#e8893c"/></g>
<g stroke="#cb4b5b" stroke-width="13" stroke-linecap="butt"><path d="M801.5 1239.8L858.5 1296.7"/><path d="M858.5 1239.8L801.5 1296.7"/></g>
<path d="M823.5 1261.7L836.5 1274.7" stroke="#b8404f" stroke-width="13" opacity="0.35"/>
<path d="M533.5 1582.5C546.7 1581.5 554.5 1584.5 555.5 1598.1C556 1612.3 549.8 1621.5 551.1 1637.9C552 1651.5 546.7 1654 543.2 1653.5C537 1653.5 534.8 1650.5 533.5 1648.5C532.2 1650.5 530 1653.5 523.8 1653.5C520.3 1654 515 1651.5 515.9 1637.9C517.2 1621.5 511 1612.3 511.5 1598.1C512.5 1584.5 520.3 1581.5 533.5 1582.5Z" fill="#d98a6b" stroke="#b96b50" stroke-width="1.2"/>
<path d="M520.3 1591.7Q533.5 1588.9 546.7 1591.7Q537.9 1601.7 534.6 1623.7L532.4 1623.7Q529.1 1601.7 520.3 1591.7Q520.3 1591.7 520.3 1591.7Z" fill="#a9533b"/>
<path d="M533.5 1618L533.5 1648.5" stroke="#a9533b" stroke-width="1.4"/>
<path d="M519 1587.5Q515.9 1585.3 520.3 1583.9" fill="none" stroke="#c47a5e" stroke-width="1.2"/>
<rect x="921.7" y="1622.2" width="62.7" height="41" rx="4.5" fill="#c6a2d2" stroke="#8d6a9d" stroke-width="1.3"/>
<text x="926" y="1649.7" font-family="'DejaVu Sans Condensed','Liberation Sans',sans-serif" font-weight="bold" font-size="22.5" fill="#27292b" textLength="53.9" lengthAdjust="spacingAndGlyphs">DAGL</text>
<rect x="1034.9" y="1619.2" width="62.4" height="40.9" rx="4.5" fill="url(#bg8)" stroke="#cfc44d" stroke-width="1.3"/>
<text x="1047.2" y="1645.8" font-family="'DejaVu Sans Condensed','Liberation Sans',sans-serif" font-weight="bold" font-size="22.5" fill="#27292b" textLength="37.3" lengthAdjust="spacingAndGlyphs">PLC</text>
<rect x="1101.3" y="1619.2" width="62.7" height="40.9" rx="4.5" fill="#e2877a" stroke="#c0604f" stroke-width="1.3"/>
<text x="1110.5" y="1645.8" font-family="'DejaVu Sans Condensed','Liberation Sans',sans-serif" font-weight="bold" font-size="22.5" fill="#27292b" textLength="44.3" lengthAdjust="spacingAndGlyphs">PIP2</text>
<rect x="865.8" y="1682.5" width="62.1" height="39.7" rx="4.5" fill="#f3b48e" stroke="#d38e66" stroke-width="1.3"/>
<text x="878" y="1708.5" font-family="'DejaVu Sans Condensed','Liberation Sans',sans-serif" font-weight="bold" font-size="22.5" fill="#27292b" textLength="36.7" lengthAdjust="spacingAndGlyphs">FFA</text>
<g transform="translate(1213.7 1635) rotate(0) scale(1)"><path d="M-39 -20C-40.1 -22.3 -42.3 -24.6 -42.4 -26.9C-42.5 -29.2 -40.8 -31.6 -39.6 -33.6C-38.5 -35.7 -36.1 -37.3 -35.6 -39.1C-35.2 -41 -35.8 -43.3 -36.9 -44.7C-38 -46.1 -40.6 -46.4 -42.4 -47.3" fill="none" stroke="#56683a" stroke-width="1.7" stroke-linecap="round" stroke-linejoin="round"/><path d="M-26 -20C-25.8 -22.3 -25.9 -24.9 -25.4 -26.9C-24.8 -28.8 -23.9 -30.9 -22.6 -31.7C-21.4 -32.5 -19.3 -32.2 -17.8 -31.7C-16.3 -31.2 -14.5 -30.8 -13.7 -28.8C-12.8 -26.9 -13.2 -22.9 -13 -20" fill="none" stroke="#56683a" stroke-width="1.7" stroke-linecap="round" stroke-linejoin="round"/><path d="M0 -20C-0.2 -21.8 0 -23.9 -0.7 -25.5C-1.3 -27.1 -3.7 -28.3 -4.2 -29.6C-4.6 -31 -4.4 -33.1 -3.4 -33.6C-2.3 -34.2 0 -33.5 2.1 -33C4.1 -32.5 6.8 -31.5 8.8 -30.9C10.9 -30.4 13.5 -30.7 14.3 -29.6C15.1 -28.5 14 -25.8 13.7 -24.2C13.3 -22.6 12.8 -21.4 12.3 -20" fill="none" stroke="#56683a" stroke-width="1.7" stroke-linecap="round" stroke-linejoin="round"/><path d="M26 -20C25.8 -22.3 25.1 -25.1 25.4 -26.9C25.6 -28.7 26 -30.5 27.3 -30.9C28.6 -31.4 31 -30.4 32.9 -29.6C34.7 -28.8 37.3 -27.7 38.4 -26.1C39.4 -24.5 38.8 -22 39 -20" fill="none" stroke="#56683a" stroke-width="1.7" stroke-linecap="round" stroke-linejoin="round"/><path d="M-39 20C-39.2 21.4 -39.2 22.9 -39.6 24.2C-40.1 25.4 -41.8 26.9 -41.7 27.5C-41.6 28.2 -40.1 28.6 -39 28.2C-37.9 27.7 -36.3 25.4 -34.8 24.8C-33.4 24.2 -31.6 25.6 -30.2 24.8C-28.7 24 -27.4 21.6 -26 20" fill="none" stroke="#56683a" stroke-width="1.7" stroke-linecap="round" stroke-linejoin="round"/><path d="M-13 20C-12.6 22.3 -12.5 24.5 -11.7 26.9C-10.9 29.3 -9.7 32.7 -8.2 34.3C-6.7 35.9 -4.6 36.5 -2.7 36.4C-0.9 36.3 1.9 35.2 2.7 33.6C3.5 32.1 2.4 29.2 2.1 26.9C1.7 24.6 1.1 22.3 0.7 20" fill="none" stroke="#56683a" stroke-width="1.7" stroke-linecap="round" stroke-linejoin="round"/><path d="M13 20C13.2 21.4 12.8 23.5 13.7 24.2C14.5 24.9 16.4 24.3 17.8 24.2C19.2 24 20.6 23.4 21.8 23.4C23.1 23.4 24.7 24.7 25.4 24.2C26 23.6 25.8 21.4 26 20" fill="none" stroke="#56683a" stroke-width="1.7" stroke-linecap="round" stroke-linejoin="round"/><path d="M39 20C39.2 22.3 39.2 24.8 39.6 26.9C40.1 28.9 41.7 30.5 41.7 32.4C41.7 34.2 40.7 36.3 39.6 37.8C38.6 39.3 37 40.1 35.6 41.2" fill="none" stroke="#56683a" stroke-width="1.7" stroke-linecap="round" stroke-linejoin="round"/><rect x="-42.2" y="-20" width="6.4" height="40" rx="2.9" fill="#90c04a" stroke="#5f8c2c" stroke-width="0.9"/><rect x="-41.6" y="-18.5" width="2.4" height="37" rx="1.2" fill="#b5d878"/><rect x="-29.2" y="-20" width="6.4" height="40" rx="2.9" fill="#90c04a" stroke="#5f8c2c" stroke-width="0.9"/><rect x="-28.6" y="-18.5" width="2.4" height="37" rx="1.2" fill="#b5d878"/><rect x="-16.2" y="-20" width="6.4" height="40" rx="2.9" fill="#90c04a" stroke="#5f8c2c" stroke-width="0.9"/><rect x="-15.6" y="-18.5" width="2.4" height="37" rx="1.2" fill="#b5d878"/><rect x="-3.2" y="-20" width="6.4" height="40" rx="2.9" fill="#90c04a" stroke="#5f8c2c" stroke-width="0.9"/><rect x="-2.6" y="-18.5" width="2.4" height="37" rx="1.2" fill="#b5d878"/><rect x="9.8" y="-20" width="6.4" height="40" rx="2.9" fill="#90c04a" stroke="#5f8c2c" stroke-width="0.9"/><rect x="10.4" y="-18.5" width="2.4" height="37" rx="1.2" fill="#b5d878"/><rect x="22.8" y="-20" width="6.4" height="40" rx="2.9" fill="#90c04a" stroke="#5f8c2c" stroke-width="0.9"/><rect x="23.4" y="-18.5" width="2.4" height="37" rx="1.2" fill="#b5d878"/><rect x="35.8" y="-20" width="6.4" height="40" rx="2.9" fill="#90c04a" stroke="#5f8c2c" stroke-width="0.9"/><rect x="36.4" y="-18.5" width="2.4" height="37" rx="1.2" fill="#b5d878"/></g>
<path d="M998.8 1667.2C985 1676 960 1678 938 1674.5" fill="none" stroke="#222" stroke-width="4.6" stroke-linecap="round" stroke-dasharray="0.1 8.6"/>
<path d="M925.4 1670.5L939.8 1668.8L935.4 1681.1Z" fill="#222"/>
<path d="M1057 1662.5C1046 1672 1034 1678 1024 1677.5" fill="none" stroke="#222" stroke-width="4.6" stroke-linecap="round" stroke-dasharray="0.1 8.6"/>
<path d="M1014.5 1668.8L1028.5 1672.7L1019.8 1682.3Z" fill="#222"/>
<path d="M1066 1660.2C1082 1660 1096 1672 1112 1679.5C1122 1683 1136 1682 1149 1677" fill="none" stroke="#222" stroke-width="4.6" stroke-linecap="round" stroke-dasharray="0.1 8.6"/>
<path d="M888 1618.6C884.3 1594.1 880.7 1569.6 877 1545C873.3 1520.4 868 1484 866 1471C865.7 1468.9 865.5 1468.4 865.2 1467.1" fill="none" stroke="#2b2b2b" stroke-width="7.8" stroke-linecap="butt"/>
<path d="M861.2 1446.4L880.2 1469.2L852.2 1474.6Z" fill="#2b2b2b"/>
<circle cx="896.4" cy="1656.5" r="22.7" fill="#dfe3f7"/>
<circle cx="896.4" cy="1656.5" r="21.4" fill="url(#sg9)"/>
<circle cx="888.7" cy="1648.8" r="5.6" fill="#3fb4d6"/>
<circle cx="864.7" cy="1422.4" r="22.8" fill="#dfe3f7"/>
<circle cx="864.7" cy="1422.4" r="21.5" fill="url(#sg10)"/>
<circle cx="857" cy="1414.7" r="5.6" fill="#3fb4d6"/>
<circle cx="1009.5" cy="1638.1" r="21.4" fill="url(#sg11)"/>
<circle cx="1001.8" cy="1630.4" r="5.6" fill="#cbe08a"/>
<circle cx="1020.2" cy="1701.7" r="13.8" fill="url(#sg12)"/>
<circle cx="1015.2" cy="1696.7" r="3.6" fill="#b5ddd5"/>
<circle cx="1124.9" cy="1688.6" r="13.8" fill="url(#sg13)"/>
<circle cx="1119.9" cy="1683.6" r="3.6" fill="#c9e38c"/>
<text x="632.5" y="1217.5" font-family="'DejaVu Sans Condensed','Liberation Sans',sans-serif" font-weight="bold" font-size="41" fill="#27292b" textLength="115" lengthAdjust="spacingAndGlyphs">GABA</text>
<text x="357.5" y="1559" font-family="'DejaVu Sans Condensed','Liberation Sans',sans-serif" font-weight="bold" font-size="41" fill="#27292b" textLength="66.5" lengthAdjust="spacingAndGlyphs">Glu</text>
<text x="565" y="1636" font-family="'DejaVu Sans Condensed','Liberation Sans',sans-serif" font-weight="bold" font-size="41" fill="#27292b" textLength="107.5" lengthAdjust="spacingAndGlyphs">iGluR</text>
<text x="460" y="1741" font-family="'DejaVu Sans Condensed','Liberation Sans',sans-serif" font-weight="bold" font-size="41" fill="#27292b" textLength="135" lengthAdjust="spacingAndGlyphs">mEPSP</text>
<path d="M607.5 1745L607.5 1715.5" stroke="#27292b" stroke-width="1.8"/><path d="M607.5 1709.5L602.9 1718.5L612.1 1718.5Z" fill="#27292b"/>
<text x="965" y="1559" font-family="'DejaVu Sans Condensed','Liberation Sans',sans-serif" font-weight="bold" font-size="41" fill="#27292b" textLength="153.5" lengthAdjust="spacingAndGlyphs">orexina</text>
<text x="277.2" y="1960.7" font-family="'DejaVu Sans Condensed','Liberation Sans',sans-serif" font-weight="bold" font-size="36" fill="#27292b" textLength="18.7" lengthAdjust="spacingAndGlyphs">b</text>
<text x="586.1" y="1334.1" font-family="'DejaVu Sans Condensed','Liberation Sans',sans-serif" font-weight="bold" font-size="20.5" fill="#27292b" textLength="55.8" lengthAdjust="spacingAndGlyphs">GABA</text>
<text x="643.4" y="1341" font-family="'DejaVu Sans Condensed','Liberation Sans',sans-serif" font-weight="bold" font-size="10" fill="#27292b" textLength="7.4" lengthAdjust="spacingAndGlyphs">B</text>
<text x="745.9" y="1409.1" font-family="'DejaVu Sans Condensed','Liberation Sans',sans-serif" font-weight="bold" font-size="20.5" fill="#27292b" textLength="56.6" lengthAdjust="spacingAndGlyphs">GABA</text>
<text x="803.2" y="1416.7" font-family="'DejaVu Sans Condensed','Liberation Sans',sans-serif" font-weight="bold" font-size="10" fill="#27292b" textLength="8.4" lengthAdjust="spacingAndGlyphs">A</text>
<text x="812.4" y="1350" font-family="'DejaVu Sans Condensed','Liberation Sans',sans-serif" font-weight="bold" font-size="20.5" fill="#27292b" textLength="35.2" lengthAdjust="spacingAndGlyphs">CB1</text>
<text x="896.5" y="1432.2" font-family="'DejaVu Sans Condensed','Liberation Sans',sans-serif" font-weight="bold" font-size="20.5" fill="#27292b" textLength="45.9" lengthAdjust="spacingAndGlyphs">2-AG</text>
<text x="819" y="1667.2" font-family="'DejaVu Sans Condensed','Liberation Sans',sans-serif" font-weight="bold" font-size="20.5" fill="#27292b" textLength="46.8" lengthAdjust="spacingAndGlyphs">2-AG</text>
<text x="985" y="1612.1" font-family="'DejaVu Sans Condensed','Liberation Sans',sans-serif" font-weight="bold" font-size="20.5" fill="#27292b" textLength="43.8" lengthAdjust="spacingAndGlyphs">DAG</text>
<text x="1191.5" y="1693.8" font-family="'DejaVu Sans Condensed','Liberation Sans',sans-serif" font-weight="bold" font-size="20.5" fill="#27292b" textLength="30" lengthAdjust="spacingAndGlyphs">OX</text>
<text x="1222.1" y="1700.8" font-family="'DejaVu Sans Condensed','Liberation Sans',sans-serif" font-weight="bold" font-size="11.5" fill="#27292b" textLength="18.4" lengthAdjust="spacingAndGlyphs">1/2</text>
<text x="994.2" y="1730.5" font-family="'DejaVu Sans Condensed','Liberation Sans',sans-serif" font-weight="bold" font-size="20.5" fill="#27292b" textLength="16.8" lengthAdjust="spacingAndGlyphs">IP</text>
<text x="1012.6" y="1737.5" font-family="'DejaVu Sans Condensed','Liberation Sans',sans-serif" font-weight="bold" font-size="11.5" fill="#27292b" textLength="7" lengthAdjust="spacingAndGlyphs">3</text>
<text x="1127.3" y="1717.6" font-family="'DejaVu Sans Condensed','Liberation Sans',sans-serif" font-weight="bold" font-size="20.5" fill="#27292b" textLength="13.7" lengthAdjust="spacingAndGlyphs">G</text>
<text x="1143.2" y="1723.2" font-family="'DejaVu Sans Condensed','Liberation Sans',sans-serif" font-weight="bold" font-size="11.5" fill="#27292b" textLength="6.1" lengthAdjust="spacingAndGlyphs">q</text>
<g opacity="0.145"><path d="M300.5 1125L300.5 1105.2L300.5 1084.5L300.5 1063.1L300.4 1041.4L300.4 1019.8L300.4 998.4L300.4 977.7L300.4 957.9L300.4 939.3L300.4 922.3L300.4 907.1L300.5 894L300.5 887.2L300.6 881.2L300.7 875.8L300.7 871L300.8 866.7L300.9 862.7L301.1 858.9L301.2 855.3L301.4 851.7L301.6 848L301.8 844.2L302 840L302.3 835.7L302.5 831.4L302.8 827.1L303.2 822.9L303.5 818.7L303.9 814.5L304.2 810.4L304.6 806.3L305.1 802.2L305.5 798.1L306 794L306.5 790L307 786.1L307.4 782.4L307.8 778.8L308.2 775.3L308.6 771.8L309.1 768.3L309.6 764.7L310.2 761L311 757.1L311.9 752.9L313 748.4L314.3 743.5L315.8 738.2L317.4 732.6L319.2 726.7L321 720.6L323.1 714.2L325.2 707.7L327.4 701.1L329.8 694.4L332.3 687.8L334.8 681.1L337.5 674.6L340.2 668.2L343 661.8L345.9 655.3L349 648.7L352.1 642.1L355.3 635.4L358.6 628.8L362.1 622.3L365.6 615.8L369.3 609.6L373.1 603.5L377 597.6L381 592L385.3 586.6L389.9 581.3L394.8 576.1L400 571L405.2 566.1L410.4 561.4L415.6 556.8L420.7 552.4L425.6 548.3L430.2 544.4L434.4 540.8L438.1 537.4L441.2 534.5L443.9 532.2L446.2 530.2L448.2 528.6L449.9 527.2L451.6 525.9L453.3 524.6L455 523.2L456.9 521.6L459.1 519.8L461.7 517.5L464.7 514.8L468.1 511.6L471.8 508.1L475.8 504.3L479.9 500.2L484.2 496L488.7 491.6L493.3 487.1L497.9 482.7L502.7 478.2L507.4 473.8L512.2 469.5L516.9 465.4L521.6 461.4L526.2 457.4L530.9 453.3L535.6 449.3L540.4 445.3L545.2 441.3L550.2 437.4L555.3 433.5L560.5 429.7L566 426L571.7 422.3L577.6 418.8L583.8 415.4L590.2 412L596.9 408.7L603.8 405.4L610.8 402.3L618 399.2L625.2 396.1L632.6 393.2L640 390.3L647.4 387.5L654.9 384.7L662.3 382L669.7 379.4L677.3 376.7L684.9 374.2L692.6 371.7L700.3 369.2L708.1 366.9L715.9 364.6L723.7 362.5L731.5 360.4L739.4 358.5L747.2 356.7L755 355L762.8 353.5L770.5 352L778.2 350.6L785.9 349.3L793.6 348.2L801.3 347.1L809.1 346.2L816.9 345.4L824.8 344.8L832.7 344.4L840.8 344.1L849 344L857.4 344.1L866 344.4L874.7 344.9L883.6 345.6L892.6 346.4L901.5 347.4L910.5 348.5L919.3 349.7L928 351L936.6 352.3L944.9 353.8L952.9 355.3L960.6 356.9L968.1 358.5L975.4 360.2L982.6 361.9L989.5 363.8L996.4 365.8L1003.3 367.9L1010.1 370.1L1016.9 372.5L1023.7 375.1L1030.6 377.8L1037.6 380.7L1044.7 383.8L1051.8 387L1059 390.5L1066.1 394L1073.3 397.8L1080.4 401.6L1087.6 405.6L1094.7 409.7L1101.7 414L1108.7 418.3L1115.6 422.8L1122.4 427.3L1129.2 432L1136 436.9L1142.8 442L1149.6 447.2L1156.3 452.5L1163 457.9L1169.5 463.4L1176 468.9L1182.3 474.4L1188.4 479.9L1194.3 485.4L1200 490.8L1205.5 496.2L1210.7 501.5L1215.8 506.9L1220.7 512.3L1225.4 517.6L1230 523L1234.5 528.4L1239 533.9L1243.4 539.3L1247.7 544.8L1252.1 550.3L1256.5 555.8L1260.9 561.4L1265.3 567L1269.6 572.7L1273.9 578.4L1278.1 584.2L1282.3 589.9L1286.4 595.7L1290.5 601.4L1294.4 607L1298.3 612.6L1302.2 618.1L1305.9 623.5L1309.5 628.8L1313 633.9L1316.4 639L1319.7 643.9L1323 648.8L1326.2 653.7L1329.3 658.6L1332.4 663.5L1335.5 668.5L1338.7 673.6L1341.8 678.7L1345 684L1348.3 689.5L1351.8 695.2L1355.3 701.1L1358.9 707L1362.5 713.1L1366 719.1L1369.4 725.1L1372.6 730.9L1375.7 736.6L1378.4 742L1380.9 747.2L1383 752L1384.7 756.4L1386 760.6L1387.1 764.4L1387.9 768L1388.4 771.5L1388.8 774.8L1389.1 778.1L1389.4 781.3L1389.6 784.6L1389.8 787.9L1390.1 791.4L1390.5 795L1391 798.8L1391.5 802.5L1391.9 806.4L1392.3 810.2L1392.7 814L1393.1 817.9L1393.5 821.9L1393.8 825.8L1394.1 829.8L1394.5 833.8L1394.7 837.9L1395 842L1395.2 846L1395.5 849.7L1395.7 853.2L1395.8 856.6L1396 860.1L1396.1 863.8L1396.2 867.7L1396.3 871.9L1396.4 876.5L1396.5 881.7L1396.6 887.5L1396.6 894L1396.7 907L1396.7 922.1L1396.7 939.2L1396.7 957.7L1396.7 977.6L1396.7 998.3L1396.7 1019.7L1396.7 1041.4L1396.6 1063.1L1396.6 1084.4L1396.6 1105.2L1396.6 1125L1395.9 1162.5L1393.9 1195.3L1390.5 1226.5L1385.7 1256.4L1379.6 1285.4L1372.2 1313.4L1363.4 1340.6L1353.4 1366.9L1342 1392.3L1329.4 1416.8L1315.6 1440.4L1300.6 1463.1L1284.3 1484.7L1267 1505.4L1248.5 1524.9L1228.9 1543.4L1208.3 1560.8L1186.6 1577L1164 1592L1140.4 1605.9L1115.9 1618.5L1090.5 1629.8L1064.2 1639.9L1037 1648.6L1008.9 1656L980 1662.2L950 1666.9L918.9 1670.3L886.1 1672.4L848.6 1673L811 1672.4L778.2 1670.3L747.1 1666.9L717.1 1662.2L688.2 1656L660.1 1648.6L632.9 1639.9L606.6 1629.8L581.2 1618.5L556.7 1605.9L533.1 1592L510.5 1577L488.8 1560.8L468.2 1543.4L448.6 1524.9L430.1 1505.4L412.8 1484.7L396.5 1463.1L381.5 1440.4L367.7 1416.8L355.1 1392.3L343.7 1366.9L333.7 1340.6L324.9 1313.4L317.5 1285.4L311.4 1256.4L306.6 1226.5L303.2 1195.3L301.2 1162.5Z" fill="none" stroke="#300e1c" stroke-width="31"/>
<path d="M374.8 1125L374.8 1114.3L374.8 1103.3L374.8 1092L374.8 1080.6L374.7 1069.1L374.7 1057.8L374.7 1046.8L374.7 1036.1L374.7 1026L374.7 1016.5L374.8 1007.8L374.8 1000L374.8 993.7L374.9 988.2L374.9 983.3L375 978.9L375.1 974.9L375.1 971.2L375.2 967.8L375.3 964.4L375.5 961.1L375.6 957.6L375.8 954L376 950L376.2 945.8L376.5 941.7L376.7 937.5L377 933.3L377.3 929.2L377.6 925L377.9 920.8L378.3 916.7L378.7 912.5L379.1 908.3L379.5 904.2L380 900L380.5 895.8L381 891.7L381.6 887.5L382.2 883.3L382.8 879.2L383.5 875L384.1 870.8L384.9 866.7L385.6 862.5L386.4 858.3L387.2 854.2L388 850L388.9 845.9L389.8 841.7L390.8 837.7L391.8 833.6L392.9 829.5L394 825.4L395.1 821.3L396.2 817.1L397.3 813L398.4 808.7L399.5 804.4L400.5 800L401.5 795.5L402.4 791L403.3 786.3L404.2 781.6L405.1 776.9L406 772.2L406.9 767.4L407.9 762.6L409 757.8L410.1 753L411.3 748.2L412.7 743.5L414.2 738.8L415.7 734L417.4 729.2L419.1 724.3L420.9 719.5L422.8 714.7L424.7 709.9L426.6 705.2L428.6 700.5L430.7 695.9L432.7 691.4L434.8 687L436.9 682.7L438.9 678.6L440.9 674.6L443 670.6L445.1 666.8L447.3 662.9L449.5 659.1L451.8 655.2L454.3 651.3L456.9 647.4L459.7 643.3L462.6 639.1L465.8 634.7L469.1 630.2L472.7 625.5L476.4 620.7L480.3 615.9L484.2 611.1L488.2 606.3L492.2 601.6L496.2 597L500.1 592.6L504 588.4L507.8 584.5L511.5 580.9L515.1 577.5L518.8 574.4L522.4 571.4L525.9 568.6L529.5 565.8L533.2 563.1L536.8 560.3L540.5 557.5L544.3 554.5L548.1 551.3L552 547.8L556 544.1L560 540.2L564.1 536.2L568.2 532L572.3 527.8L576.6 523.4L580.8 519.1L585.1 514.8L589.5 510.4L593.9 506.2L598.4 502L603 498L607.5 494L612 490L616.5 485.9L620.9 481.8L625.4 477.8L630 473.8L634.8 469.9L639.8 466.1L644.9 462.5L650.4 459L656.2 455.7L662.3 452.7L668.9 449.9L675.8 447.2L683.1 444.7L690.7 442.4L698.5 440.2L706.5 438.1L714.6 436.1L722.8 434.3L731 432.6L739.1 431L747.1 429.4L755 428L762.8 426.6L770.5 425.4L778.2 424.2L785.9 423.1L793.6 422.1L801.3 421.3L809.1 420.6L816.9 420L824.8 419.5L832.7 419.2L840.8 419L849 419L857.4 419.2L866 419.5L874.7 420L883.6 420.6L892.6 421.4L901.5 422.3L910.5 423.3L919.3 424.4L928 425.6L936.6 426.9L944.9 428.2L952.9 429.6L960.6 431L968.1 432.5L975.4 433.9L982.6 435.5L989.5 437.1L996.4 438.9L1003.3 440.8L1010.1 442.8L1016.9 445L1023.7 447.3L1030.6 449.9L1037.6 452.7L1044.8 455.8L1052.3 459.3L1059.9 463.1L1067.7 467.1L1075.4 471.3L1083.1 475.5L1090.5 479.8L1097.8 484.1L1104.7 488.2L1111.1 492.2L1117.1 495.9L1122.4 499.3L1127.1 502.4L1131.2 505.3L1134.8 508L1137.9 510.6L1140.8 513.1L1143.3 515.5L1145.7 517.9L1148 520.2L1150.3 522.5L1152.7 524.9L1155.2 527.4L1158 530L1160.9 532.6L1163.7 535.1L1166.4 537.6L1169.2 540L1171.9 542.5L1174.6 545L1177.4 547.6L1180.2 550.3L1183.2 553.1L1186.3 556.2L1189.6 559.5L1193 563L1196.7 566.8L1200.5 570.8L1204.5 575L1208.7 579.3L1212.9 583.9L1217.2 588.5L1221.6 593.3L1226 598.1L1230.4 603L1234.7 608L1238.9 613L1243 618L1247.1 623.1L1251.2 628.3L1255.5 633.7L1259.7 639.2L1263.9 644.8L1268 650.4L1272.1 656L1276 661.6L1279.8 667.1L1283.4 672.5L1286.8 677.8L1290 683L1293 688L1295.8 692.9L1298.4 697.7L1301 702.5L1303.3 707.2L1305.6 711.8L1307.6 716.4L1309.6 721.1L1311.4 725.7L1313.1 730.4L1314.6 735.2L1316 740L1317.2 744.9L1318.2 749.8L1319 754.8L1319.7 759.8L1320.2 764.8L1320.6 769.8L1320.9 774.8L1321.1 779.9L1321.3 784.9L1321.5 790L1321.7 795L1322 800L1322.3 804.8L1322.5 809.2L1322.6 813.3L1322.8 817.3L1322.8 821.4L1322.9 825.5L1322.9 829.9L1323 834.7L1323 839.9L1323 845.8L1323 852.5L1323 860L1323 874.9L1323.1 892.3L1323.1 911.8L1323.1 933.1L1323.1 955.9L1323.1 979.7L1323.1 1004.2L1323 1029.1L1323 1053.9L1323 1078.5L1323 1102.3L1323 1125L1322.4 1157.4L1320.6 1185.9L1317.7 1212.8L1313.6 1238.7L1308.3 1263.7L1301.9 1288L1294.3 1311.5L1285.6 1334.3L1275.8 1356.3L1264.9 1377.5L1252.9 1397.9L1239.9 1417.5L1225.9 1436.2L1210.9 1454L1194.9 1471L1177.9 1487L1160.1 1502L1141.4 1516L1121.8 1529L1101.4 1541L1080.2 1551.9L1058.2 1561.7L1035.4 1570.4L1011.9 1578L987.6 1584.4L962.6 1589.7L936.7 1593.8L909.8 1596.7L881.3 1598.5L848.9 1599.1L816.5 1598.5L788 1596.7L761.1 1593.8L735.2 1589.7L710.2 1584.4L685.9 1578L662.4 1570.4L639.6 1561.7L617.6 1551.9L596.4 1541L576 1529L556.4 1516L537.7 1502L519.9 1487L502.9 1471L486.9 1454L471.9 1436.2L457.9 1417.5L444.9 1397.9L432.9 1377.5L422 1356.3L412.2 1334.3L403.5 1311.5L395.9 1288L389.5 1263.7L384.2 1238.7L380.1 1212.8L377.2 1185.9L375.4 1157.4Z" fill="none" stroke="#300e1c" stroke-width="31"/>
<path d="M169.8 1201.5L169.8 870L169.8 867.4L169.8 864.8L169.8 862.2L169.9 859.6L169.9 857L170 854.5L170.1 851.9L170.1 849.3L170.2 846.7L170.3 844.1L170.4 841.5L170.5 838.9L170.7 836.3L170.8 833.7L171 831.1L171.1 828.6L171.3 826L171.5 823.4L171.7 820.8L171.9 818.2L172.1 815.6L172.3 813.1L172.5 810.5L172.8 807.9L173 805.3L173.3 802.7L173.6 800.2L173.9 797.6L174.2 795L174.5 792.4L174.8 789.9L175.1 787.3L175.4 784.7L175.8 782.1L176.2 779.6L176.5 777L176.9 774.4L177.3 771.9L177.7 769.3L178.1 766.8L178.5 764.2L178.9 761.6L179.4 759.1L179.8 756.5L180.3 754L180.8 751.4L181.2 748.9L181.7 746.3L182.2 743.8L182.7 741.2L183.3 738.7L183.8 736.2L184.3 733.6L184.9 731.1L185.4 728.6L186 726L186.6 723.5L187.2 721L187.8 718.4L188.4 715.9L189 713.4L189.7 710.9L190.3 708.4L191 705.9L191.6 703.4L192.3 700.8L193 698.3L193.7 695.8L194.4 693.3L195.1 690.8L195.8 688.4L196.5 685.9L197.3 683.4L198 680.9L198.8 678.4L199.6 675.9L200.4 673.5L201.1 671L202 668.5L202.8 666L203.6 663.6L204.4 661.1L205.3 658.7L206.1 656.2L207 653.8L207.8 651.3L208.7 648.9L209.6 646.4L210.5 644L211.4 641.6L212.3 639.1L213.3 636.7L214.2 634.3L215.2 631.9L216.1 629.4L217.1 627L218.1 624.6L219.1 622.2L220.1 619.8L221.1 617.4L222.1 615L223.1 612.6L224.1 610.3L225.2 607.9L226.2 605.5L227.3 603.1L228.4 600.8L229.5 598.4L230.6 596L231.7 593.7L232.8 591.3L233.9 589L235 586.6L236.2 584.3L237.3 582L238.5 579.6L239.6 577.3L240.8 575L242 572.7L243.2 570.4L244.4 568.1L245.6 565.8L246.9 563.5L248.1 561.2L249.3 558.9L250.6 556.6L251.8 554.3L253.1 552L254.4 549.8L255.7 547.5L257 545.3L258.3 543L259.6 540.7L260.9 538.5L262.2 536.3L263.6 534L264.9 531.8L266.3 529.6L267.7 527.4L269 525.2L270.4 522.9L271.8 520.7L273.2 518.5L274.6 516.4L276.1 514.2L277.5 512L278.9 509.8L280.4 507.6L281.8 505.5L283.3 503.3L284.8 501.2L286.3 499L287.8 496.9L289.3 494.7L290.8 492.6L292.3 490.5L293.8 488.4L295.3 486.3L296.9 484.2L298.4 482.1L300 480L301.6 477.9L303.1 475.8L304.7 473.7L306.3 471.7L307.9 469.6L309.5 467.5L311.1 465.5L312.8 463.4L314.4 461.4L316 459.4L317.7 457.3L319.3 455.3L321 453.3L322.7 451.3L324.4 449.3L326 447.3L327.7 445.3L329.5 443.3L331.2 441.4L332.9 439.4L334.6 437.4L336.4 435.5L338.1 433.5L339.9 431.6L341.6 429.7L343.4 427.7L345.2 425.8L346.9 423.9L348.7 422L350.5 420.1L352.3 418.2L354.2 416.3L356 414.4L357.8 412.6L359.6 410.7L361.5 408.8L363.3 407L365.2 405.1L367.1 403.3L368.9 401.5L370.8 399.7L372.7 397.8L374.6 396L376.5 394.2L378.4 392.4L380.3 390.7L382.3 388.9L384.2 387.1L386.1 385.3L388.1 383.6L390 381.8L392 380.1L394 378.4L395.9 376.6L397.9 374.9L399.9 373.2L401.9 371.5L403.9 369.8L405.9 368.1L407.9 366.5L409.9 364.8L412 363.1L414 361.5L416 359.8L418.1 358.2L420.1 356.5L422.2 354.9L424.3 353.3L426.3 351.7L428.4 350.1L430.5 348.5L432.6 346.9L434.7 345.3L436.8 343.8" fill="none" stroke="#300e1c" stroke-width="13.5"/>
<path d="M1516.8 1201.5L1516.8 870L1516.8 867.4L1516.8 864.8L1516.8 862.2L1516.7 859.6L1516.7 857L1516.6 854.5L1516.5 851.9L1516.5 849.3L1516.4 846.7L1516.3 844.1L1516.2 841.5L1516.1 838.9L1515.9 836.3L1515.8 833.7L1515.6 831.1L1515.5 828.6L1515.3 826L1515.1 823.4L1514.9 820.8L1514.7 818.2L1514.5 815.6L1514.3 813.1L1514.1 810.5L1513.8 807.9L1513.6 805.3L1513.3 802.7L1513 800.2L1512.7 797.6L1512.4 795L1512.1 792.4L1511.8 789.9L1511.5 787.3L1511.2 784.7L1510.8 782.1L1510.4 779.6L1510.1 777L1509.7 774.4L1509.3 771.9L1508.9 769.3L1508.5 766.8L1508.1 764.2L1507.7 761.6L1507.2 759.1L1506.8 756.5L1506.3 754L1505.8 751.4L1505.4 748.9L1504.9 746.3L1504.4 743.8L1503.9 741.2L1503.3 738.7L1502.8 736.2L1502.3 733.6L1501.7 731.1L1501.2 728.6L1500.6 726L1500 723.5L1499.4 721L1498.8 718.4L1498.2 715.9L1497.6 713.4L1496.9 710.9L1496.3 708.4L1495.6 705.9L1495 703.4L1494.3 700.8L1493.6 698.3L1492.9 695.8L1492.2 693.3L1491.5 690.8L1490.8 688.4L1490.1 685.9L1489.3 683.4L1488.6 680.9L1487.8 678.4L1487 675.9L1486.2 673.5L1485.5 671L1484.6 668.5L1483.8 666L1483 663.6L1482.2 661.1L1481.3 658.7L1480.5 656.2L1479.6 653.8L1478.8 651.3L1477.9 648.9L1477 646.4L1476.1 644L1475.2 641.6L1474.3 639.1L1473.3 636.7L1472.4 634.3L1471.4 631.9L1470.5 629.4L1469.5 627L1468.5 624.6L1467.5 622.2L1466.5 619.8L1465.5 617.4L1464.5 615L1463.5 612.6L1462.5 610.3L1461.4 607.9L1460.4 605.5L1459.3 603.1L1458.2 600.8L1457.1 598.4L1456 596L1454.9 593.7L1453.8 591.3L1452.7 589L1451.6 586.6L1450.4 584.3L1449.3 582L1448.1 579.6L1447 577.3L1445.8 575L1444.6 572.7L1443.4 570.4L1442.2 568.1L1441 565.8L1439.7 563.5L1438.5 561.2L1437.3 558.9L1436 556.6L1434.8 554.3L1433.5 552L1432.2 549.8L1430.9 547.5L1429.6 545.3L1428.3 543L1427 540.7L1425.7 538.5L1424.4 536.3L1423 534L1421.7 531.8L1420.3 529.6L1418.9 527.4L1417.6 525.2L1416.2 522.9L1414.8 520.7L1413.4 518.5L1412 516.4L1410.5 514.2L1409.1 512L1407.7 509.8L1406.2 507.6L1404.8 505.5L1403.3 503.3L1401.8 501.2L1400.3 499L1398.8 496.9L1397.3 494.7L1395.8 492.6L1394.3 490.5L1392.8 488.4L1391.3 486.3L1389.7 484.2L1388.2 482.1L1386.6 480L1385 477.9L1383.5 475.8L1381.9 473.7L1380.3 471.7L1378.7 469.6L1377.1 467.5L1375.5 465.5L1373.8 463.4L1372.2 461.4L1370.6 459.4L1368.9 457.3L1367.3 455.3L1365.6 453.3L1363.9 451.3L1362.2 449.3L1360.6 447.3L1358.9 445.3L1357.1 443.3L1355.4 441.4L1353.7 439.4L1352 437.4L1350.2 435.5L1348.5 433.5L1346.7 431.6L1345 429.7L1343.2 427.7L1341.4 425.8L1339.7 423.9L1337.9 422L1336.1 420.1L1334.3 418.2L1332.4 416.3L1330.6 414.4L1328.8 412.6L1327 410.7L1325.1 408.8L1323.3 407L1321.4 405.1L1319.5 403.3L1317.7 401.5L1315.8 399.7L1313.9 397.8L1312 396L1310.1 394.2L1308.2 392.4L1306.3 390.7L1304.3 388.9L1302.4 387.1L1300.5 385.3L1298.5 383.6L1296.6 381.8L1294.6 380.1L1292.6 378.4L1290.7 376.6L1288.7 374.9L1286.7 373.2L1284.7 371.5L1282.7 369.8L1280.7 368.1L1278.7 366.5L1276.7 364.8L1274.6 363.1L1272.6 361.5L1270.6 359.8L1268.5 358.2L1266.5 356.5L1264.4 354.9L1262.3 353.3L1260.3 351.7L1258.2 350.1L1256.1 348.5L1254 346.9L1251.9 345.3L1249.8 343.8L1247.7 342.2L1245.6 340.7L1243.4 339.1L1241.3 337.6L1239.2 336L1237 334.5L1234.9 333L1232.7 331.5L1230.6 330L1228.4 328.5" fill="none" stroke="#300e1c" stroke-width="13.5"/>
<path d="M848.8 419L848.8 1356" fill="none" stroke="#300e1c" stroke-width="31"/>
<path d="M848.8 1125L542.6 555.8" fill="none" stroke="#300e1c" stroke-width="31"/>
<path d="M848.8 1125L1165.3 536.6" fill="none" stroke="#300e1c" stroke-width="31"/>
<path d="M848.8 1125L384.1 871.3" fill="none" stroke="#300e1c" stroke-width="31"/>
<path d="M848.8 1125L1323 866.1" fill="none" stroke="#300e1c" stroke-width="31"/>
<path d="M848.8 1125L380.9 1217.9" fill="none" stroke="#300e1c" stroke-width="31"/>
<path d="M848.8 1125L1316.9 1217.9" fill="none" stroke="#300e1c" stroke-width="31"/>
<path d="M414.8 1337C425.1 1335.7 430.8 1335.2 445.8 1333C460.8 1330.8 485.1 1327.5 504.8 1324C524.5 1320.5 544.2 1316.2 563.8 1312C583.4 1307.8 602.8 1302.7 622.3 1299C641.8 1295.3 661.2 1291 680.8 1290C700.4 1289 720.1 1289.3 739.8 1293C759.5 1296.7 780.6 1301.5 798.8 1312C817 1322.5 832.1 1341.3 848.8 1356C865.5 1341.3 880.6 1322.5 898.8 1312C917 1301.5 938.1 1296.7 957.8 1293C977.5 1289.3 997.2 1289 1016.8 1290C1036.4 1291 1055.8 1295.3 1075.3 1299C1094.8 1302.7 1114.2 1307.8 1133.8 1312C1153.4 1316.2 1173.1 1320.5 1192.8 1324C1212.5 1327.5 1236.8 1330.8 1251.8 1333C1266.8 1335.2 1272.5 1335.7 1282.8 1337" fill="none" stroke="#300e1c" stroke-width="31" stroke-linejoin="miter" stroke-miterlimit="6"/>
<path d="M476.8 1440C486.1 1437.7 490.3 1436.2 504.8 1433C519.3 1429.8 544.2 1426 563.8 1421C583.4 1416 602.8 1408.2 622.3 1403C641.8 1397.8 661.2 1391.2 680.8 1390C700.4 1388.8 720.1 1391.3 739.8 1396C759.5 1400.7 780.6 1407.7 798.8 1418C817 1428.3 832.1 1444.7 848.8 1458C865.5 1444.7 880.6 1428.3 898.8 1418C917 1407.7 938.1 1400.7 957.8 1396C977.5 1391.3 997.2 1388.8 1016.8 1390C1036.4 1391.2 1055.8 1397.8 1075.3 1403C1094.8 1408.2 1114.2 1416 1133.8 1421C1153.4 1426 1178.3 1429.8 1192.8 1433C1207.3 1436.2 1211.5 1437.7 1220.8 1440" fill="none" stroke="#300e1c" stroke-width="31" stroke-linejoin="miter" stroke-miterlimit="6"/>
<path id="wmTop" d="M503.4 343.3A660 660 0 0 1 1175.3 338.6" fill="none"/>
<text font-family="'DejaVu Sans Light','DejaVu Sans','Liberation Sans',sans-serif" font-weight="200" font-size="168" fill="#300e1c" stroke="#300e1c" stroke-width="8.5" stroke-linejoin="round"><textPath href="#wmTop" textLength="704" lengthAdjust="spacingAndGlyphs">WeCann</textPath></text>
<path id="wmBot" d="M162.3 1303.7A701 753 0 0 0 1524.3 1303.7" fill="none"/>
<text font-family="'Liberation Sans',sans-serif" font-size="102" fill="#300e1c" stroke="#300e1c" stroke-width="2.6"><textPath href="#wmBot" textLength="1924" lengthAdjust="spacingAndGlyphs">Endocannabinoid Global Academy</textPath></text></g>
</svg></body></html>
